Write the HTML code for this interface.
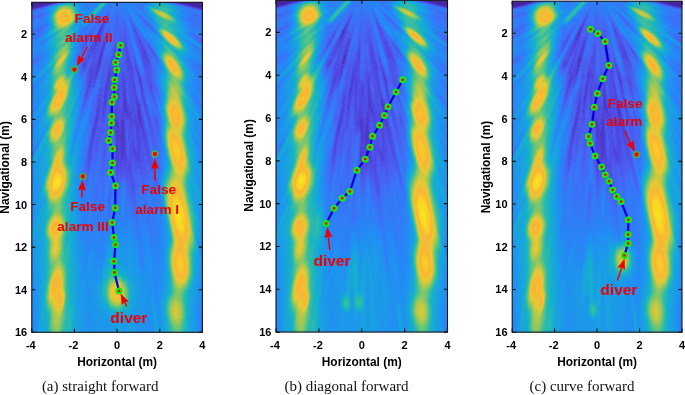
<!DOCTYPE html><html><head><meta charset="utf-8"><title>Sonar tracking results</title><style>html,body{margin:0;padding:0;background:#fff;}svg{display:block;}.tk{font-family:"Liberation Sans",Arial,sans-serif;font-weight:bold;font-size:11px;fill:#000;}.lb{font-family:"Liberation Sans",Arial,sans-serif;font-weight:bold;font-size:11.9px;fill:#000;}.rd{font-family:"Liberation Sans",Arial,sans-serif;font-weight:bold;fill:#ee0000;}.cp{font-family:"Liberation Serif","Times New Roman",serif;font-size:15px;fill:#111;}</style></head><body>
<svg width="685" height="395" viewBox="0 0 685 395">
<defs>
<filter id="cm" x="0" y="0" width="1" height="1" color-interpolation-filters="sRGB"><feComponentTransfer><feFuncR type="table" tableValues="0.267 0.278 0.290 0.301 0.313 0.307 0.299 0.291 0.269 0.245 0.221 0.198 0.176 0.154 0.135 0.124 0.113 0.102 0.096 0.093 0.090 0.087 0.105 0.136 0.168 0.200 0.245 0.302 0.360 0.418 0.476 0.537 0.598 0.658 0.714 0.760 0.806 0.852 0.898 0.919 0.932 0.944 0.957 0.970 0.980 0.980 0.980 0.980 0.977 0.972 0.966 0.961"/><feFuncG type="table" tableValues="0.149 0.178 0.207 0.236 0.264 0.300 0.336 0.371 0.401 0.429 0.457 0.482 0.506 0.530 0.554 0.576 0.598 0.620 0.639 0.656 0.673 0.691 0.705 0.716 0.728 0.739 0.749 0.757 0.764 0.772 0.777 0.779 0.781 0.783 0.785 0.787 0.788 0.790 0.792 0.781 0.765 0.750 0.734 0.719 0.710 0.737 0.765 0.792 0.823 0.856 0.889 0.922"/><feFuncB type="table" tableValues="0.647 0.702 0.757 0.811 0.866 0.894 0.920 0.945 0.956 0.963 0.971 0.970 0.967 0.963 0.956 0.938 0.919 0.900 0.876 0.849 0.823 0.796 0.762 0.724 0.685 0.647 0.606 0.563 0.519 0.476 0.435 0.396 0.358 0.319 0.287 0.268 0.248 0.228 0.209 0.204 0.204 0.204 0.204 0.204 0.202 0.189 0.176 0.163 0.149 0.136 0.123 0.110"/></feComponentTransfer></filter>
<filter id="bL" x="-50%" y="-50%" width="200%" height="200%"><feGaussianBlur stdDeviation="0.6"/></filter>
<filter id="bM" x="-50%" y="-50%" width="200%" height="200%"><feGaussianBlur stdDeviation="0.22"/></filter>
<filter id="bS" x="-50%" y="-50%" width="200%" height="200%"><feGaussianBlur stdDeviation="0.12"/></filter>
<filter id="bT" x="-50%" y="-50%" width="200%" height="200%"><feGaussianBlur stdDeviation="0.05"/></filter>
<radialGradient id="gw"><stop offset="0" stop-color="#fff"/><stop offset="0.3" stop-color="#fff" stop-opacity="0.86"/><stop offset="0.6" stop-color="#fff" stop-opacity="0.42"/><stop offset="0.82" stop-color="#fff" stop-opacity="0.13"/><stop offset="1" stop-color="#fff" stop-opacity="0"/></radialGradient>
<radialGradient id="gk"><stop offset="0" stop-color="#000"/><stop offset="0.3" stop-color="#000" stop-opacity="0.86"/><stop offset="0.6" stop-color="#000" stop-opacity="0.42"/><stop offset="0.82" stop-color="#000" stop-opacity="0.13"/><stop offset="1" stop-color="#000" stop-opacity="0"/></radialGradient>
<linearGradient id="smg" x1="0" y1="0" x2="0" y2="1"><stop offset="0" stop-color="#fff"/><stop offset="0.45" stop-color="#fff" stop-opacity="0.9"/><stop offset="1" stop-color="#fff" stop-opacity="0.6"/></linearGradient>
<mask id="smask" maskUnits="userSpaceOnUse" x="-5" y="-1" width="10" height="18"><rect x="-5" y="-1" width="10" height="18" fill="url(#smg)"/></mask>
<g id="scene"><rect x="-4.5" y="-1" width="9" height="17.5" fill="rgb(56,56,56)"/>
<ellipse cx="0.15" cy="6" rx="3.3" ry="7.5" fill="url(#gk)" opacity="0.659"/>
<ellipse cx="-0.2" cy="4" rx="2" ry="3" fill="url(#gk)" opacity="0.500"/>
<ellipse cx="0" cy="0.4" rx="2.4" ry="1.8" fill="url(#gw)" opacity="0.064"/>
<ellipse cx="0" cy="15" rx="3.2" ry="4.5" fill="url(#gw)" opacity="0.154"/>
<ellipse cx="0.2" cy="11.5" rx="2.4" ry="4" fill="url(#gw)" opacity="0.090"/>
<ellipse cx="-3.95" cy="9" rx="0.7" ry="9.5" fill="url(#gw)" opacity="0.077"/>
<ellipse cx="3.95" cy="9" rx="0.7" ry="9.5" fill="url(#gw)" opacity="0.090"/>
<g filter="url(#bT)" mask="url(#smask)"><path d="M3.63 10.63 L4.09 11.83 L4.64 13.45 L5.02 14.68 L4.56 13.48 L4.01 11.86Z" fill="rgb(5,5,5)" opacity="0.23"/><path d="M-6.82 2.3 L-8.18 2.79 L-9.99 3.41 L-11.37 3.83 L-10.02 3.33 L-8.2 2.73Z" fill="rgb(5,5,5)" opacity="0.25"/><path d="M-0.3 3.99 L-0.35 5.01 L-0.45 6.37 L-0.56 7.38 L-0.52 6.36 L-0.41 5Z" fill="rgb(69,69,69)" opacity="0.49"/><path d="M-7.59 11.5 L-8.27 12.56 L-9.19 13.95 L-9.9 14.99 L-9.22 13.93 L-8.3 12.53Z" fill="rgb(5,5,5)" opacity="0.11"/><path d="M0.72 2.13 L0.9 2.55 L1.1 3.12 L1.2 3.56 L1.01 3.15 L0.83 2.57Z" fill="rgb(69,69,69)" opacity="0.49"/><path d="M12.6 3.73 L13.33 3.9 L14.3 4.19 L15.01 4.44 L14.27 4.27 L13.31 3.99Z" fill="rgb(5,5,5)" opacity="0.17"/><path d="M-9.95 10.05 L-10.74 10.91 L-11.84 12.03 L-12.7 12.83 L-11.91 11.96 L-10.8 10.85Z" fill="rgb(5,5,5)" opacity="0.13"/><path d="M-1 2.64 L-1.2 3.21 L-1.48 3.96 L-1.72 4.52 L-1.52 3.95 L-1.23 3.2Z" fill="rgb(69,69,69)" opacity="0.64"/><path d="M-9.96 2.6 L-10.74 2.83 L-11.77 3.1 L-12.56 3.28 L-11.79 3.05 L-10.75 2.78Z" fill="rgb(5,5,5)" opacity="0.25"/><path d="M-3.47 6.56 L-4.01 7.62 L-4.75 9.03 L-5.33 10.07 L-4.79 9.01 L-4.04 7.61Z" fill="rgb(5,5,5)" opacity="0.24"/><path d="M7.86 10.02 L8.18 10.36 L8.57 10.85 L8.83 11.25 L8.51 10.9 L8.12 10.41Z" fill="rgb(69,69,69)" opacity="0.63"/><path d="M-1.04 0.31 L-1.64 0.52 L-2.45 0.78 L-3.08 0.92 L-2.48 0.68 L-1.66 0.46Z" fill="rgb(69,69,69)" opacity="0.70"/><path d="M12.87 5.89 L13.62 6.2 L14.6 6.65 L15.33 7.02 L14.58 6.7 L13.6 6.25Z" fill="rgb(5,5,5)" opacity="0.18"/><path d="M-9.75 5.77 L-10.84 6.45 L-12.31 7.33 L-13.44 7.95 L-12.36 7.26 L-10.88 6.39Z" fill="rgb(69,69,69)" opacity="0.78"/><path d="M-4.74 2.54 L-5.68 3.09 L-6.96 3.78 L-7.94 4.26 L-7 3.7 L-5.72 3.02Z" fill="rgb(69,69,69)" opacity="0.77"/><path d="M0.61 4.92 L0.73 5.7 L0.86 6.73 L0.93 7.51 L0.81 6.74 L0.69 5.7Z" fill="rgb(69,69,69)" opacity="0.46"/><path d="M7.21 13.1 L7.52 13.63 L7.92 14.36 L8.2 14.91 L7.89 14.38 L7.49 13.65Z" fill="rgb(5,5,5)" opacity="0.15"/><path d="M-0.93 3.75 L-1.15 4.8 L-1.49 6.19 L-1.79 7.23 L-1.57 6.17 L-1.22 4.79Z" fill="rgb(69,69,69)" opacity="0.57"/><path d="M-12.72 5.29 L-13.15 5.51 L-13.75 5.75 L-14.21 5.91 L-13.77 5.7 L-13.18 5.45Z" fill="rgb(5,5,5)" opacity="0.11"/><path d="M8.25 11.64 L8.93 12.52 L9.79 13.73 L10.4 14.66 L9.72 13.78 L8.87 12.56Z" fill="rgb(69,69,69)" opacity="0.57"/><path d="M-10.19 7.63 L-10.79 8.11 L-11.6 8.72 L-12.22 9.15 L-11.63 8.67 L-10.82 8.06Z" fill="rgb(5,5,5)" opacity="0.19"/><path d="M6.7 2.1 L7.63 2.35 L8.86 2.73 L9.76 3.06 L8.83 2.81 L7.61 2.42Z" fill="rgb(69,69,69)" opacity="0.52"/><path d="M-0.61 2.46 L-0.78 3.29 L-1.04 4.39 L-1.29 5.2 L-1.14 4.37 L-0.85 3.28Z" fill="rgb(5,5,5)" opacity="0.63"/><path d="M0.01 5.34 L0.04 5.89 L0.04 6.61 L0.02 7.15 L-0.01 6.61 L-0.01 5.89Z" fill="rgb(5,5,5)" opacity="0.60"/><path d="M-4.24 11.09 L-4.66 12.28 L-5.26 13.86 L-5.75 15.03 L-5.33 13.83 L-4.73 12.26Z" fill="rgb(5,5,5)" opacity="0.18"/><path d="M-3.76 10 L-4 10.71 L-4.34 11.64 L-4.64 12.33 L-4.4 11.62 L-4.05 10.69Z" fill="rgb(5,5,5)" opacity="0.27"/><path d="M-7.36 12.15 L-7.92 13.13 L-8.7 14.43 L-9.32 15.38 L-8.76 14.39 L-7.98 13.1Z" fill="rgb(69,69,69)" opacity="0.62"/><path d="M-6.24 8.08 L-6.78 8.84 L-7.54 9.83 L-8.15 10.54 L-7.61 9.78 L-6.84 8.79Z" fill="rgb(5,5,5)" opacity="0.29"/><path d="M-3.82 9.03 L-4.26 10.17 L-4.89 11.68 L-5.41 12.79 L-4.97 11.64 L-4.33 10.14Z" fill="rgb(69,69,69)" opacity="0.74"/><path d="M8.71 5.78 L9.96 6.56 L11.6 7.64 L12.8 8.5 L11.55 7.72 L9.91 6.63Z" fill="rgb(5,5,5)" opacity="0.20"/><path d="M-9.75 8 L-10.84 8.93 L-12.32 10.15 L-13.45 11.04 L-12.36 10.1 L-10.88 8.89Z" fill="rgb(5,5,5)" opacity="0.17"/><path d="M1.68 2.37 L2.44 3.39 L3.43 4.76 L4.14 5.82 L3.37 4.81 L2.4 3.42Z" fill="rgb(5,5,5)" opacity="0.51"/><path d="M3.81 11.07 L4.2 12.12 L4.69 13.53 L5.02 14.6 L4.62 13.56 L4.14 12.14Z" fill="rgb(69,69,69)" opacity="0.46"/><path d="M-1.51 9.78 L-1.58 10.45 L-1.71 11.35 L-1.85 12.02 L-1.79 11.34 L-1.65 10.44Z" fill="rgb(5,5,5)" opacity="0.19"/><path d="M-0.26 3.69 L-0.28 4.2 L-0.32 4.88 L-0.38 5.38 L-0.37 4.87 L-0.32 4.2Z" fill="rgb(69,69,69)" opacity="0.47"/><path d="M-0.66 0.64 L-1.32 1.31 L-2.21 2.19 L-2.91 2.81 L-2.26 2.14 L-1.35 1.28Z" fill="rgb(5,5,5)" opacity="0.64"/><path d="M-8.68 10.45 L-8.95 10.81 L-9.33 11.28 L-9.64 11.6 L-9.38 11.24 L-8.99 10.78Z" fill="rgb(69,69,69)" opacity="0.56"/><path d="M-10.68 6.56 L-11.39 7.02 L-12.35 7.61 L-13.08 8.03 L-12.37 7.58 L-11.41 6.99Z" fill="rgb(5,5,5)" opacity="0.11"/><path d="M0.67 5.31 L0.85 6.36 L1.03 7.76 L1.12 8.82 L0.94 7.77 L0.77 6.37Z" fill="rgb(5,5,5)" opacity="0.42"/><path d="M7.23 6.58 L7.86 7.13 L8.69 7.88 L9.3 8.46 L8.66 7.92 L7.84 7.16Z" fill="rgb(5,5,5)" opacity="0.28"/><path d="M13.62 5.07 L14.65 5.42 L16.01 5.93 L17.02 6.33 L15.99 5.98 L14.63 5.47Z" fill="rgb(5,5,5)" opacity="0.10"/><path d="M-7.46 4.4 L-8.39 4.97 L-9.65 5.72 L-10.61 6.25 L-9.68 5.68 L-8.42 4.94Z" fill="rgb(5,5,5)" opacity="0.38"/><path d="M-2.15 6.35 L-2.34 7.01 L-2.64 7.88 L-2.88 8.52 L-2.69 7.86 L-2.39 6.99Z" fill="rgb(5,5,5)" opacity="0.38"/><path d="M12.93 4.66 L13.95 5 L15.3 5.48 L16.3 5.87 L15.28 5.53 L13.93 5.04Z" fill="rgb(5,5,5)" opacity="0.15"/><path d="M-1.1 4.94 L-1.4 6.39 L-1.83 8.32 L-2.18 9.76 L-1.89 8.31 L-1.45 6.38Z" fill="rgb(69,69,69)" opacity="0.59"/><path d="M-7.98 5.11 L-8.74 5.63 L-9.76 6.29 L-10.55 6.76 L-9.79 6.24 L-8.76 5.59Z" fill="rgb(5,5,5)" opacity="0.34"/><path d="M-7.85 2.29 L-8.54 2.54 L-9.49 2.82 L-10.21 2.98 L-9.51 2.73 L-8.57 2.46Z" fill="rgb(5,5,5)" opacity="0.29"/><path d="M-1.53 2.18 L-2.36 3.41 L-3.49 5.04 L-4.37 6.24 L-3.54 5 L-2.4 3.38Z" fill="rgb(5,5,5)" opacity="0.52"/><path d="M3.47 8.54 L3.95 9.67 L4.57 11.19 L5.02 12.34 L4.53 11.21 L3.92 9.68Z" fill="rgb(5,5,5)" opacity="0.23"/><path d="M0.5 5.28 L0.6 6.04 L0.7 7.05 L0.73 7.81 L0.63 7.06 L0.54 6.05Z" fill="rgb(69,69,69)" opacity="0.54"/><path d="M5.48 7.17 L5.8 7.55 L6.19 8.06 L6.47 8.46 L6.15 8.09 L5.76 7.57Z" fill="rgb(69,69,69)" opacity="0.77"/><path d="M7.19 4.28 L7.61 4.49 L8.14 4.8 L8.52 5.08 L8.1 4.87 L7.57 4.55Z" fill="rgb(69,69,69)" opacity="0.63"/><path d="M5.08 8.18 L5.62 8.97 L6.3 10.05 L6.77 10.89 L6.22 10.1 L5.55 9.01Z" fill="rgb(69,69,69)" opacity="0.56"/><path d="M2.64 1.92 L3.28 2.34 L4.11 2.93 L4.7 3.41 L4.05 3 L3.24 2.4Z" fill="rgb(69,69,69)" opacity="0.73"/><path d="M3.35 5.83 L3.75 6.46 L4.25 7.33 L4.59 8 L4.18 7.37 L3.69 6.5Z" fill="rgb(5,5,5)" opacity="0.31"/><path d="M-0.46 8.4 L-0.49 9.38 L-0.56 10.67 L-0.64 11.64 L-0.61 10.67 L-0.54 9.37Z" fill="rgb(69,69,69)" opacity="0.63"/><path d="M1.04 0.93 L1.58 1.37 L2.28 1.97 L2.77 2.46 L2.22 2.04 L1.54 1.42Z" fill="rgb(5,5,5)" opacity="0.67"/><path d="M-10.41 3.4 L-11.8 3.9 L-13.67 4.51 L-15.09 4.93 L-13.7 4.42 L-11.83 3.82Z" fill="rgb(5,5,5)" opacity="0.12"/><path d="M2.85 2.19 L3.77 2.85 L4.97 3.76 L5.84 4.49 L4.91 3.84 L3.73 2.91Z" fill="rgb(5,5,5)" opacity="0.39"/><path d="M-7.19 11.78 L-7.48 12.32 L-7.9 13.01 L-8.25 13.51 L-7.96 12.97 L-7.54 12.28Z" fill="rgb(69,69,69)" opacity="0.46"/><path d="M0.34 0.98 L0.55 1.5 L0.81 2.21 L0.97 2.75 L0.75 2.23 L0.51 1.52Z" fill="rgb(69,69,69)" opacity="0.42"/><path d="M2.25 11.01 L2.54 12.35 L2.91 14.14 L3.16 15.49 L2.86 14.15 L2.5 12.36Z" fill="rgb(69,69,69)" opacity="0.53"/><path d="M2 7.28 L2.41 8.65 L2.92 10.5 L3.27 11.89 L2.86 10.51 L2.36 8.67Z" fill="rgb(69,69,69)" opacity="0.68"/><path d="M-7.66 5.81 L-8.42 6.44 L-9.46 7.23 L-10.27 7.79 L-9.51 7.16 L-8.47 6.37Z" fill="rgb(5,5,5)" opacity="0.29"/><path d="M-4.94 6.86 L-5.33 7.46 L-5.89 8.24 L-6.34 8.8 L-5.95 8.19 L-5.39 7.42Z" fill="rgb(5,5,5)" opacity="0.25"/><path d="M-3.76 4.44 L-4.53 5.39 L-5.58 6.64 L-6.39 7.56 L-5.62 6.61 L-4.56 5.37Z" fill="rgb(5,5,5)" opacity="0.46"/><path d="M-9.04 4.62 L-9.52 4.89 L-10.16 5.22 L-10.66 5.45 L-10.18 5.18 L-9.54 4.85Z" fill="rgb(5,5,5)" opacity="0.23"/><path d="M6.26 3.98 L6.94 4.37 L7.83 4.93 L8.48 5.39 L7.79 5 L6.9 4.43Z" fill="rgb(69,69,69)" opacity="0.69"/><path d="M-2.4 1 L-3.73 1.58 L-5.51 2.34 L-6.86 2.85 L-5.54 2.26 L-3.75 1.53Z" fill="rgb(69,69,69)" opacity="0.45"/><path d="M9.61 3.13 L10.87 3.52 L12.53 4.06 L13.77 4.49 L12.52 4.1 L10.85 3.56Z" fill="rgb(5,5,5)" opacity="0.20"/><path d="M-3.39 4.03 L-4.07 4.88 L-5.01 6 L-5.74 6.82 L-5.06 5.97 L-4.11 4.85Z" fill="rgb(69,69,69)" opacity="0.45"/><path d="M7.6 6.28 L8.62 7.08 L9.95 8.17 L10.93 9.02 L9.91 8.22 L8.59 7.12Z" fill="rgb(5,5,5)" opacity="0.24"/><path d="M2.16 8.5 L2.48 9.68 L2.89 11.27 L3.16 12.47 L2.83 11.28 L2.43 9.7Z" fill="rgb(69,69,69)" opacity="0.41"/><path d="M-0.69 0.69 L-1.64 1.69 L-2.93 3.02 L-3.93 3.97 L-2.99 2.96 L-1.68 1.66Z" fill="rgb(5,5,5)" opacity="0.40"/><path d="M-1.03 13.35 L-1.09 14.45 L-1.2 15.91 L-1.32 17.01 L-1.26 15.91 L-1.14 14.45Z" fill="rgb(69,69,69)" opacity="0.44"/><path d="M-2.15 1.67 L-2.8 2.21 L-3.68 2.91 L-4.37 3.4 L-3.72 2.86 L-2.83 2.17Z" fill="rgb(5,5,5)" opacity="0.44"/><path d="M-2.69 3.55 L-3.04 4.06 L-3.54 4.72 L-3.93 5.2 L-3.58 4.69 L-3.08 4.03Z" fill="rgb(69,69,69)" opacity="0.59"/><path d="M-13.14 4.53 L-13.92 4.85 L-14.97 5.21 L-15.78 5.44 L-15 5.13 L-13.94 4.77Z" fill="rgb(5,5,5)" opacity="0.17"/><path d="M-1.03 14.17 L-1.04 14.74 L-1.09 15.5 L-1.17 16.07 L-1.16 15.5 L-1.11 14.74Z" fill="rgb(69,69,69)" opacity="0.67"/><path d="M1.6 2.28 L1.99 2.81 L2.51 3.53 L2.87 4.08 L2.47 3.55 L1.97 2.83Z" fill="rgb(69,69,69)" opacity="0.43"/><path d="M-3.77 14.12 L-3.96 14.93 L-4.24 16 L-4.48 16.8 L-4.3 15.99 L-4.01 14.92Z" fill="rgb(69,69,69)" opacity="0.51"/><path d="M6.31 8.87 L6.69 9.36 L7.17 10.03 L7.51 10.55 L7.13 10.06 L6.65 9.39Z" fill="rgb(5,5,5)" opacity="0.31"/><path d="M2.54 6.19 L3.11 7.55 L3.86 9.36 L4.4 10.74 L3.82 9.38 L3.08 7.56Z" fill="rgb(69,69,69)" opacity="0.71"/><path d="M-0.23 1.03 L-0.43 2.04 L-0.71 3.38 L-0.99 4.37 L-0.81 3.35 L-0.49 2.02Z" fill="rgb(5,5,5)" opacity="0.54"/><path d="M-1.26 0.69 L-2.47 1.38 L-4.1 2.29 L-5.34 2.93 L-4.13 2.22 L-2.5 1.34Z" fill="rgb(5,5,5)" opacity="0.41"/><path d="M-0.71 0.89 L-1.24 1.58 L-1.95 2.49 L-2.51 3.15 L-1.99 2.46 L-1.26 1.56Z" fill="rgb(69,69,69)" opacity="0.56"/><path d="M-0.54 1.01 L-0.74 1.46 L-1.04 2.04 L-1.31 2.45 L-1.13 1.99 L-0.81 1.43Z" fill="rgb(69,69,69)" opacity="0.60"/><path d="M-2.07 7.89 L-2.18 8.42 L-2.36 9.11 L-2.52 9.63 L-2.41 9.1 L-2.23 8.41Z" fill="rgb(69,69,69)" opacity="0.62"/><path d="M8.22 3.98 L9.45 4.55 L11.07 5.33 L12.27 5.94 L11.04 5.38 L9.43 4.59Z" fill="rgb(69,69,69)" opacity="0.62"/><path d="M-0.28 8.74 L-0.28 9.58 L-0.31 10.71 L-0.37 11.55 L-0.38 10.71 L-0.34 9.58Z" fill="rgb(5,5,5)" opacity="0.40"/><path d="M-3.38 6.08 L-4 7.24 L-4.85 8.78 L-5.52 9.92 L-4.9 8.75 L-4.04 7.22Z" fill="rgb(69,69,69)" opacity="0.52"/><path d="M-10.36 5.38 L-11.52 6 L-13.07 6.81 L-14.24 7.39 L-13.09 6.76 L-11.54 5.96Z" fill="rgb(69,69,69)" opacity="0.43"/><path d="M-1.01 1.28 L-1.54 2.01 L-2.27 2.96 L-2.86 3.64 L-2.34 2.91 L-1.59 1.97Z" fill="rgb(69,69,69)" opacity="0.42"/><path d="M0.57 0.94 L0.93 1.5 L1.39 2.24 L1.71 2.82 L1.34 2.28 L0.89 1.52Z" fill="rgb(69,69,69)" opacity="0.44"/><path d="M-1.02 4.88 L-1.24 6.1 L-1.58 7.72 L-1.87 8.92 L-1.65 7.7 L-1.3 6.09Z" fill="rgb(5,5,5)" opacity="0.49"/><path d="M5.62 6.76 L6.23 7.44 L7.01 8.38 L7.56 9.11 L6.95 8.43 L6.17 7.49Z" fill="rgb(5,5,5)" opacity="0.40"/><path d="M6.08 8.73 L6.53 9.31 L7.09 10.11 L7.47 10.73 L7.02 10.15 L6.47 9.35Z" fill="rgb(69,69,69)" opacity="0.45"/><path d="M-2.61 1.19 L-3.26 1.52 L-4.14 1.93 L-4.81 2.2 L-4.17 1.86 L-3.29 1.46Z" fill="rgb(69,69,69)" opacity="0.43"/><path d="M5.51 6.52 L5.83 6.87 L6.25 7.36 L6.54 7.74 L6.22 7.38 L5.81 6.9Z" fill="rgb(69,69,69)" opacity="0.54"/><path d="M11.65 8.22 L12.55 8.84 L13.74 9.67 L14.62 10.33 L13.72 9.72 L12.53 8.87Z" fill="rgb(69,69,69)" opacity="0.54"/><path d="M-0.24 0.53 L-0.66 1.51 L-1.24 2.8 L-1.73 3.75 L-1.33 2.76 L-0.72 1.48Z" fill="rgb(5,5,5)" opacity="0.44"/><path d="M0.25 2.89 L0.38 4.08 L0.53 5.66 L0.59 6.86 L0.46 5.67 L0.33 4.08Z" fill="rgb(5,5,5)" opacity="0.65"/><path d="M-4.26 2.68 L-5.44 3.45 L-7.02 4.46 L-8.23 5.19 L-7.06 4.41 L-5.46 3.41Z" fill="rgb(69,69,69)" opacity="0.58"/><path d="M9.2 10.65 L9.89 11.38 L10.77 12.4 L11.4 13.19 L10.7 12.46 L9.83 11.44Z" fill="rgb(5,5,5)" opacity="0.11"/><path d="M4.86 4.36 L5.26 4.66 L5.76 5.11 L6.11 5.48 L5.7 5.18 L5.2 4.72Z" fill="rgb(69,69,69)" opacity="0.63"/><path d="M-0.61 13.26 L-0.63 14.12 L-0.68 15.27 L-0.75 16.13 L-0.73 15.27 L-0.68 14.12Z" fill="rgb(69,69,69)" opacity="0.48"/><path d="M0.94 5.53 L1.17 6.75 L1.45 8.38 L1.64 9.6 L1.4 8.39 L1.13 6.76Z" fill="rgb(69,69,69)" opacity="0.50"/><path d="M12.14 3.61 L13.44 3.96 L15.16 4.46 L16.43 4.88 L15.14 4.53 L13.42 4.02Z" fill="rgb(69,69,69)" opacity="0.46"/><path d="M5.84 4.8 L6.23 5.09 L6.73 5.51 L7.1 5.84 L6.7 5.54 L6.2 5.13Z" fill="rgb(69,69,69)" opacity="0.69"/><path d="M2.9 1.6 L4.04 2.2 L5.54 3.02 L6.65 3.67 L5.51 3.08 L4.01 2.24Z" fill="rgb(5,5,5)" opacity="0.64"/><path d="M3.89 11.44 L4.18 12.24 L4.54 13.3 L4.8 14.11 L4.51 13.31 L4.15 12.25Z" fill="rgb(5,5,5)" opacity="0.18"/><path d="M-4.5 4.09 L-5.07 4.63 L-5.84 5.33 L-6.44 5.84 L-5.87 5.3 L-5.09 4.6Z" fill="rgb(69,69,69)" opacity="0.55"/><path d="M-0.64 10.65 L-0.65 11.52 L-0.71 12.68 L-0.81 13.54 L-0.8 12.67 L-0.73 11.51Z" fill="rgb(5,5,5)" opacity="0.30"/><path d="M5.01 8.86 L5.55 9.73 L6.22 10.9 L6.68 11.81 L6.14 10.94 L5.48 9.76Z" fill="rgb(69,69,69)" opacity="0.64"/><path d="M3.69 7.12 L4.05 7.78 L4.51 8.66 L4.84 9.34 L4.48 8.68 L4.02 7.8Z" fill="rgb(69,69,69)" opacity="0.54"/><path d="M2.45 11.23 L2.73 12.39 L3.08 13.96 L3.31 15.13 L3.02 13.97 L2.69 12.4Z" fill="rgb(5,5,5)" opacity="0.15"/><path d="M0.8 1.21 L1.51 2.23 L2.43 3.6 L3.08 4.66 L2.36 3.65 L1.46 2.26Z" fill="rgb(5,5,5)" opacity="0.76"/><path d="M6.06 11.09 L6.68 12.15 L7.46 13.58 L8.02 14.67 L7.4 13.62 L6.62 12.18Z" fill="rgb(69,69,69)" opacity="0.61"/><path d="M3.39 1.92 L4.68 2.62 L6.4 3.58 L7.66 4.33 L6.36 3.64 L4.66 2.66Z" fill="rgb(69,69,69)" opacity="0.40"/><path d="M-0.84 2.88 L-1.12 3.98 L-1.53 5.44 L-1.89 6.52 L-1.62 5.41 L-1.19 3.96Z" fill="rgb(5,5,5)" opacity="0.58"/><path d="M-0.57 1.91 L-0.89 3.04 L-1.33 4.54 L-1.7 5.65 L-1.4 4.52 L-0.94 3.02Z" fill="rgb(5,5,5)" opacity="0.53"/><path d="M3.01 1.8 L3.68 2.18 L4.56 2.7 L5.21 3.12 L4.54 2.75 L3.66 2.22Z" fill="rgb(5,5,5)" opacity="0.69"/><path d="M-7.43 6.14 L-8.38 6.96 L-9.67 8.02 L-10.66 8.8 L-9.7 7.98 L-8.41 6.92Z" fill="rgb(69,69,69)" opacity="0.63"/><path d="M10.18 8.45 L11.13 9.2 L12.38 10.23 L13.29 11.03 L12.34 10.28 L11.1 9.24Z" fill="rgb(69,69,69)" opacity="0.61"/><path d="M4.24 2.27 L4.92 2.6 L5.79 3.06 L6.43 3.44 L5.76 3.12 L4.89 2.65Z" fill="rgb(5,5,5)" opacity="0.39"/><path d="M-1.97 0.68 L-2.95 1.05 L-4.25 1.52 L-5.25 1.82 L-4.28 1.44 L-2.96 1Z" fill="rgb(69,69,69)" opacity="0.48"/><path d="M2.47 9.52 L2.8 10.65 L3.2 12.16 L3.45 13.31 L3.12 12.18 L2.73 10.67Z" fill="rgb(69,69,69)" opacity="0.59"/><path d="M11.17 9.04 L11.81 9.51 L12.62 10.16 L13.21 10.69 L12.57 10.23 L11.76 9.57Z" fill="rgb(5,5,5)" opacity="0.19"/><path d="M-6.94 7.97 L-7.8 9 L-8.96 10.34 L-9.86 11.32 L-9.01 10.3 L-7.84 8.96Z" fill="rgb(69,69,69)" opacity="0.48"/><path d="M-1.37 1.09 L-1.83 1.5 L-2.46 2.01 L-2.96 2.36 L-2.51 1.95 L-1.87 1.45Z" fill="rgb(69,69,69)" opacity="0.70"/><path d="M7.25 9.96 L8.04 10.99 L9.06 12.38 L9.79 13.45 L8.99 12.42 L7.98 11.03Z" fill="rgb(5,5,5)" opacity="0.20"/><path d="M4.74 13.69 L4.94 14.21 L5.19 14.92 L5.35 15.45 L5.15 14.93 L4.9 14.23Z" fill="rgb(69,69,69)" opacity="0.48"/><path d="M-2.29 6.72 L-2.64 7.83 L-3.13 9.3 L-3.55 10.39 L-3.21 9.27 L-2.7 7.81Z" fill="rgb(69,69,69)" opacity="0.56"/><path d="M0.71 5.84 L0.81 6.4 L0.9 7.16 L0.93 7.73 L0.83 7.17 L0.74 6.41Z" fill="rgb(69,69,69)" opacity="0.67"/><path d="M-0.16 14.45 L-0.15 15.9 L-0.17 17.82 L-0.21 19.26 L-0.21 17.82 L-0.19 15.9Z" fill="rgb(5,5,5)" opacity="0.17"/><path d="M-1.07 1.81 L-1.54 2.64 L-2.18 3.74 L-2.69 4.55 L-2.23 3.71 L-1.58 2.62Z" fill="rgb(5,5,5)" opacity="0.76"/><path d="M-1.4 4.43 L-1.67 5.36 L-2.05 6.6 L-2.38 7.52 L-2.13 6.58 L-1.73 5.34Z" fill="rgb(5,5,5)" opacity="0.51"/><path d="M-2.72 4.57 L-3.38 5.74 L-4.29 7.28 L-5.01 8.41 L-4.35 7.24 L-3.43 5.71Z" fill="rgb(69,69,69)" opacity="0.57"/><path d="M-6.47 7.79 L-6.79 8.21 L-7.24 8.75 L-7.59 9.14 L-7.28 8.72 L-6.83 8.18Z" fill="rgb(69,69,69)" opacity="0.59"/><path d="M7.98 2.3 L8.81 2.5 L9.91 2.81 L10.72 3.09 L9.88 2.9 L8.79 2.58Z" fill="rgb(69,69,69)" opacity="0.54"/><path d="M0.35 0.32 L1.29 1.15 L2.55 2.26 L3.45 3.12 L2.5 2.31 L1.27 1.17Z" fill="rgb(69,69,69)" opacity="0.50"/><path d="M-0.65 5.95 L-0.74 6.94 L-0.88 8.26 L-1.01 9.24 L-0.92 8.25 L-0.77 6.94Z" fill="rgb(69,69,69)" opacity="0.79"/><path d="M-1.08 7.21 L-1.14 7.75 L-1.24 8.46 L-1.35 8.99 L-1.3 8.45 L-1.19 7.74Z" fill="rgb(5,5,5)" opacity="0.45"/><path d="M0.04 1.17 L0.1 2.03 L0.16 3.18 L0.14 4.05 L0.07 3.19 L0.04 2.04Z" fill="rgb(69,69,69)" opacity="0.64"/><path d="M8.61 4.72 L9.6 5.25 L10.9 5.96 L11.87 6.51 L10.89 5.99 L9.58 5.28Z" fill="rgb(69,69,69)" opacity="0.71"/><path d="M-2.97 12.82 L-3.22 14.12 L-3.62 15.83 L-3.96 17.1 L-3.7 15.81 L-3.3 14.1Z" fill="rgb(69,69,69)" opacity="0.80"/><path d="M8.46 10.41 L8.88 10.86 L9.39 11.49 L9.74 11.98 L9.32 11.54 L8.82 10.91Z" fill="rgb(69,69,69)" opacity="0.79"/><path d="M3.45 0.9 L4.32 1.1 L5.47 1.4 L6.33 1.65 L5.46 1.45 L4.31 1.14Z" fill="rgb(69,69,69)" opacity="0.51"/><path d="M0.96 1.98 L1.26 2.53 L1.63 3.28 L1.87 3.86 L1.57 3.31 L1.21 2.56Z" fill="rgb(69,69,69)" opacity="0.55"/><path d="M11.6 6.57 L12.18 6.87 L12.94 7.31 L13.5 7.64 L12.92 7.34 L12.16 6.91Z" fill="rgb(5,5,5)" opacity="0.20"/><path d="M0.65 2.3 L0.87 2.96 L1.14 3.86 L1.28 4.54 L1.04 3.88 L0.8 2.98Z" fill="rgb(5,5,5)" opacity="0.41"/><path d="M-4.92 4.49 L-5.44 5.01 L-6.15 5.67 L-6.72 6.13 L-6.21 5.61 L-5.49 4.96Z" fill="rgb(69,69,69)" opacity="0.71"/><path d="M-6.34 4.83 L-7.49 5.75 L-9.05 6.94 L-10.25 7.81 L-9.1 6.88 L-7.53 5.7Z" fill="rgb(69,69,69)" opacity="0.44"/><path d="M2.21 5.44 L2.55 6.21 L2.97 7.24 L3.25 8.03 L2.91 7.27 L2.49 6.23Z" fill="rgb(5,5,5)" opacity="0.57"/><path d="M-5.5 6.74 L-5.93 7.33 L-6.54 8.08 L-7.03 8.62 L-6.6 8.04 L-5.98 7.29Z" fill="rgb(5,5,5)" opacity="0.25"/><path d="M-0.5 10.69 L-0.48 11.15 L-0.51 11.76 L-0.57 12.22 L-0.59 11.76 L-0.56 11.15Z" fill="rgb(69,69,69)" opacity="0.60"/><path d="M3.49 11.46 L3.67 11.93 L3.87 12.58 L3.98 13.08 L3.8 12.6 L3.61 11.95Z" fill="rgb(69,69,69)" opacity="0.55"/><path d="M-0.27 0.66 L-0.55 1.37 L-0.92 2.31 L-1.25 3 L-0.99 2.29 L-0.59 1.35Z" fill="rgb(5,5,5)" opacity="0.77"/><path d="M-2.71 7.67 L-3.07 8.82 L-3.6 10.33 L-4.04 11.44 L-3.68 10.3 L-3.15 8.79Z" fill="rgb(5,5,5)" opacity="0.42"/><path d="M-1.41 2.46 L-2.11 3.7 L-3.05 5.36 L-3.79 6.58 L-3.1 5.33 L-2.14 3.69Z" fill="rgb(69,69,69)" opacity="0.69"/><path d="M0.48 6.06 L0.62 7.47 L0.77 9.36 L0.86 10.78 L0.72 9.36 L0.57 7.47Z" fill="rgb(5,5,5)" opacity="0.47"/><path d="M-4.51 3.19 L-5.29 3.77 L-6.34 4.52 L-7.15 5.05 L-6.38 4.46 L-5.32 3.72Z" fill="rgb(69,69,69)" opacity="0.58"/><path d="M-1.54 0.67 L-2.28 1.01 L-3.27 1.45 L-4.02 1.75 L-3.29 1.4 L-2.29 0.98Z" fill="rgb(5,5,5)" opacity="0.51"/><path d="M-6.62 9.82 L-7.29 10.85 L-8.2 12.21 L-8.91 13.21 L-8.24 12.18 L-7.33 10.82Z" fill="rgb(5,5,5)" opacity="0.17"/><path d="M-2.77 9.17 L-2.95 9.86 L-3.22 10.76 L-3.45 11.43 L-3.27 10.75 L-3 9.84Z" fill="rgb(5,5,5)" opacity="0.28"/><path d="M2.6 1.46 L3.13 1.74 L3.82 2.12 L4.33 2.43 L3.8 2.16 L3.11 1.77Z" fill="rgb(5,5,5)" opacity="0.60"/><path d="M-0.99 0.28 L-2.25 0.67 L-3.93 1.17 L-5.21 1.49 L-3.95 1.09 L-2.26 0.63Z" fill="rgb(5,5,5)" opacity="0.42"/><path d="M0.51 2.05 L0.83 3.22 L1.23 4.78 L1.48 5.96 L1.15 4.8 L0.78 3.23Z" fill="rgb(5,5,5)" opacity="0.47"/><path d="M1.89 0.73 L2.38 0.88 L3.03 1.12 L3.5 1.34 L3 1.2 L2.36 0.94Z" fill="rgb(69,69,69)" opacity="0.43"/><path d="M-1.01 9.82 L-1.12 11.2 L-1.3 13.04 L-1.48 14.42 L-1.38 13.04 L-1.18 11.2Z" fill="rgb(69,69,69)" opacity="0.66"/><path d="M1.71 1.31 L2.71 2.05 L4.03 3.05 L5 3.83 L4 3.1 L2.69 2.08Z" fill="rgb(69,69,69)" opacity="0.40"/><path d="M5.04 6.13 L5.94 7.19 L7.13 8.62 L7.99 9.72 L7.08 8.67 L5.9 7.22Z" fill="rgb(69,69,69)" opacity="0.49"/><path d="M-8.34 11.52 L-8.71 12.07 L-9.23 12.79 L-9.64 13.32 L-9.27 12.77 L-8.74 12.05Z" fill="rgb(69,69,69)" opacity="0.43"/><path d="M-1.85 9.29 L-2.05 10.41 L-2.34 11.89 L-2.59 13 L-2.39 11.88 L-2.09 10.4Z" fill="rgb(69,69,69)" opacity="0.60"/><path d="M3.33 6.08 L3.87 6.98 L4.55 8.21 L5.02 9.15 L4.47 8.25 L3.8 7.02Z" fill="rgb(69,69,69)" opacity="0.51"/><path d="M-0.11 8.23 L-0.1 9.62 L-0.12 11.48 L-0.17 12.88 L-0.19 11.48 L-0.16 9.62Z" fill="rgb(5,5,5)" opacity="0.28"/><path d="M8.64 9.17 L9.18 9.71 L9.87 10.45 L10.38 11.01 L9.84 10.48 L9.15 9.74Z" fill="rgb(69,69,69)" opacity="0.54"/><path d="M3.68 2.16 L4.65 2.7 L5.93 3.44 L6.87 4.04 L5.89 3.51 L4.62 2.75Z" fill="rgb(5,5,5)" opacity="0.36"/><path d="M3.51 3.99 L3.9 4.39 L4.4 4.94 L4.74 5.38 L4.34 4.99 L3.85 4.43Z" fill="rgb(5,5,5)" opacity="0.51"/><path d="M-13.56 5.4 L-14.34 5.74 L-15.4 6.17 L-16.2 6.45 L-15.42 6.1 L-14.36 5.68Z" fill="rgb(5,5,5)" opacity="0.13"/><path d="M-1.24 5.06 L-1.35 5.6 L-1.52 6.31 L-1.67 6.84 L-1.56 6.3 L-1.39 5.59Z" fill="rgb(5,5,5)" opacity="0.46"/><path d="M1.1 0.72 L1.75 1.13 L2.61 1.68 L3.23 2.13 L2.58 1.73 L1.73 1.16Z" fill="rgb(5,5,5)" opacity="0.72"/><path d="M6.78 3.85 L7.28 4.1 L7.93 4.46 L8.4 4.77 L7.9 4.52 L7.25 4.15Z" fill="rgb(69,69,69)" opacity="0.41"/><path d="M0.82 4.56 L0.95 5.11 L1.09 5.85 L1.15 6.41 L1.02 5.86 L0.89 5.12Z" fill="rgb(5,5,5)" opacity="0.66"/><path d="M-0.16 1.89 L-0.25 3.15 L-0.38 4.82 L-0.52 6.07 L-0.43 4.81 L-0.28 3.14Z" fill="rgb(5,5,5)" opacity="0.42"/><path d="M8.01 2.27 L8.89 2.49 L10.06 2.82 L10.93 3.09 L10.04 2.87 L8.88 2.54Z" fill="rgb(5,5,5)" opacity="0.43"/><path d="M-0.63 3.4 L-0.77 4.38 L-1 5.68 L-1.23 6.64 L-1.1 5.66 L-0.85 4.36Z" fill="rgb(69,69,69)" opacity="0.65"/><path d="M4.63 2.27 L5.81 2.82 L7.37 3.57 L8.52 4.18 L7.34 3.64 L5.79 2.87Z" fill="rgb(69,69,69)" opacity="0.42"/><path d="M6.63 2.81 L7.49 3.13 L8.62 3.61 L9.44 4.01 L8.58 3.69 L7.46 3.21Z" fill="rgb(5,5,5)" opacity="0.38"/><path d="M-6.08 9.48 L-6.44 10.1 L-6.96 10.91 L-7.37 11.5 L-7.01 10.88 L-6.49 10.07Z" fill="rgb(5,5,5)" opacity="0.23"/><path d="M-2.76 1.92 L-3.71 2.62 L-4.99 3.52 L-5.99 4.16 L-5.04 3.45 L-3.75 2.56Z" fill="rgb(69,69,69)" opacity="0.80"/><path d="M-2.34 1.62 L-2.77 1.95 L-3.37 2.37 L-3.83 2.66 L-3.4 2.32 L-2.8 1.91Z" fill="rgb(5,5,5)" opacity="0.73"/><path d="M-8.24 6.67 L-8.66 7.04 L-9.24 7.52 L-9.7 7.84 L-9.28 7.46 L-8.7 6.99Z" fill="rgb(69,69,69)" opacity="0.54"/><path d="M-10.11 4.12 L-10.64 4.37 L-11.35 4.67 L-11.9 4.85 L-11.38 4.59 L-10.66 4.3Z" fill="rgb(69,69,69)" opacity="0.64"/><path d="M2.75 7.02 L3.28 8.28 L3.96 9.97 L4.41 11.26 L3.87 10 L3.21 8.3Z" fill="rgb(69,69,69)" opacity="0.53"/><path d="M1.98 1.25 L2.74 1.7 L3.75 2.33 L4.49 2.83 L3.72 2.39 L2.72 1.75Z" fill="rgb(5,5,5)" opacity="0.44"/><path d="M4.59 10.49 L5.1 11.6 L5.75 13.08 L6.22 14.2 L5.71 13.09 L5.07 11.61Z" fill="rgb(5,5,5)" opacity="0.15"/><path d="M8.12 5.93 L8.86 6.42 L9.83 7.12 L10.52 7.68 L9.78 7.19 L8.82 6.49Z" fill="rgb(5,5,5)" opacity="0.23"/><path d="M4.51 6.33 L5.23 7.29 L6.16 8.59 L6.82 9.59 L6.1 8.63 L5.18 7.33Z" fill="rgb(5,5,5)" opacity="0.26"/><path d="M0 0.42 L0.03 1.7 L0.05 3.4 L0 4.69 L-0.05 3.4 L-0.02 1.7Z" fill="rgb(5,5,5)" opacity="0.42"/><path d="M0.71 7.35 L0.79 7.92 L0.86 8.69 L0.89 9.26 L0.81 8.69 L0.74 7.93Z" fill="rgb(5,5,5)" opacity="0.48"/><path d="M-7.99 9.62 L-8.69 10.51 L-9.65 11.68 L-10.4 12.53 L-9.7 11.64 L-8.73 10.48Z" fill="rgb(5,5,5)" opacity="0.12"/><path d="M-0.3 0.46 L-0.91 1.42 L-1.74 2.69 L-2.41 3.62 L-1.81 2.65 L-0.95 1.39Z" fill="rgb(5,5,5)" opacity="0.60"/><path d="M-0.82 4.8 L-1 6.01 L-1.27 7.62 L-1.5 8.82 L-1.33 7.61 L-1.05 6Z" fill="rgb(5,5,5)" opacity="0.53"/><path d="M-1.5 10.31 L-1.56 10.82 L-1.65 11.5 L-1.75 12.01 L-1.7 11.49 L-1.6 10.81Z" fill="rgb(5,5,5)" opacity="0.20"/><path d="M-0.56 0.24 L-1.71 0.74 L-3.24 1.41 L-4.41 1.88 L-3.27 1.36 L-1.72 0.72Z" fill="rgb(69,69,69)" opacity="0.58"/><path d="M5.31 5.1 L6.04 5.78 L7 6.7 L7.71 7.4 L6.97 6.72 L6.02 5.8Z" fill="rgb(5,5,5)" opacity="0.43"/><path d="M4.08 11.91 L4.47 12.93 L4.95 14.31 L5.27 15.36 L4.87 14.34 L4.4 12.96Z" fill="rgb(5,5,5)" opacity="0.16"/><path d="M-12.72 3.93 L-14.14 4.39 L-16.03 4.98 L-17.46 5.39 L-16.05 4.93 L-14.15 4.35Z" fill="rgb(69,69,69)" opacity="0.54"/><path d="M-5.05 2.85 L-5.51 3.13 L-6.14 3.49 L-6.62 3.74 L-6.16 3.45 L-5.53 3.09Z" fill="rgb(69,69,69)" opacity="0.57"/><path d="M-5.57 9.53 L-5.98 10.28 L-6.56 11.27 L-7.01 12 L-6.6 11.25 L-6.02 10.26Z" fill="rgb(5,5,5)" opacity="0.27"/><path d="M1.74 3.12 L2.18 3.87 L2.76 4.88 L3.15 5.66 L2.7 4.91 L2.14 3.89Z" fill="rgb(69,69,69)" opacity="0.41"/><path d="M-1.33 11.53 L-1.42 12.71 L-1.6 14.27 L-1.77 15.43 L-1.68 14.26 L-1.5 12.7Z" fill="rgb(5,5,5)" opacity="0.20"/><path d="M11.49 7.62 L12.58 8.31 L14 9.25 L15.06 9.98 L13.97 9.3 L12.55 8.35Z" fill="rgb(5,5,5)" opacity="0.17"/><path d="M9.2 5.69 L9.99 6.15 L11.03 6.79 L11.8 7.29 L11.01 6.83 L9.97 6.19Z" fill="rgb(69,69,69)" opacity="0.50"/><path d="M5.42 10.29 L5.76 10.85 L6.16 11.62 L6.44 12.21 L6.1 11.65 L5.7 10.88Z" fill="rgb(5,5,5)" opacity="0.19"/><path d="M-8.12 4.41 L-8.84 4.83 L-9.81 5.36 L-10.55 5.73 L-9.83 5.32 L-8.86 4.79Z" fill="rgb(69,69,69)" opacity="0.40"/><path d="M-5.3 3.96 L-5.73 4.3 L-6.33 4.75 L-6.79 5.07 L-6.35 4.72 L-5.75 4.28Z" fill="rgb(5,5,5)" opacity="0.56"/><path d="M4.01 3.25 L5.12 4.14 L6.59 5.33 L7.68 6.24 L6.57 5.36 L5.1 4.16Z" fill="rgb(69,69,69)" opacity="0.40"/><path d="M-8.45 3.6 L-9.59 4.11 L-11.11 4.76 L-12.27 5.22 L-11.14 4.7 L-9.61 4.06Z" fill="rgb(5,5,5)" opacity="0.26"/><path d="M8.32 4.1 L9.24 4.53 L10.45 5.13 L11.35 5.6 L10.43 5.17 L9.22 4.57Z" fill="rgb(69,69,69)" opacity="0.58"/><path d="M2.85 2.44 L3.46 2.9 L4.23 3.55 L4.78 4.08 L4.17 3.62 L3.41 2.96Z" fill="rgb(69,69,69)" opacity="0.61"/><path d="M-6.83 7.45 L-7.55 8.26 L-8.51 9.31 L-9.25 10.09 L-8.54 9.29 L-7.57 8.23Z" fill="rgb(5,5,5)" opacity="0.23"/><path d="M-5.89 11.48 L-6.45 12.62 L-7.22 14.13 L-7.82 15.24 L-7.26 14.1 L-6.49 12.6Z" fill="rgb(5,5,5)" opacity="0.11"/><path d="M0.1 1.6 L0.2 2.72 L0.32 4.21 L0.33 5.34 L0.21 4.22 L0.14 2.72Z" fill="rgb(5,5,5)" opacity="0.42"/><path d="M0.27 7.25 L0.32 8.16 L0.37 9.38 L0.38 10.3 L0.33 9.38 L0.28 8.17Z" fill="rgb(69,69,69)" opacity="0.58"/><path d="M-9.29 4.32 L-9.92 4.64 L-10.77 5.04 L-11.42 5.31 L-10.8 4.99 L-9.94 4.6Z" fill="rgb(69,69,69)" opacity="0.52"/><path d="M4.25 1.91 L4.76 2.11 L5.44 2.41 L5.93 2.66 L5.41 2.46 L4.74 2.16Z" fill="rgb(5,5,5)" opacity="0.37"/><path d="M-1.38 3.16 L-1.83 4.24 L-2.44 5.67 L-2.94 6.72 L-2.5 5.64 L-1.87 4.22Z" fill="rgb(69,69,69)" opacity="0.74"/><path d="M-4.55 9.37 L-4.92 10.22 L-5.46 11.33 L-5.9 12.14 L-5.54 11.29 L-4.99 10.18Z" fill="rgb(69,69,69)" opacity="0.49"/><path d="M-2.28 3.6 L-2.96 4.72 L-3.88 6.21 L-4.62 7.3 L-3.94 6.17 L-3 4.7Z" fill="rgb(69,69,69)" opacity="0.60"/><path d="M6.94 5.28 L7.7 5.81 L8.68 6.55 L9.39 7.14 L8.63 6.61 L7.66 5.86Z" fill="rgb(5,5,5)" opacity="0.29"/><path d="M-0.43 2.28 L-0.56 3.19 L-0.77 4.38 L-0.98 5.27 L-0.86 4.36 L-0.63 3.17Z" fill="rgb(69,69,69)" opacity="0.55"/><path d="M2.47 8.68 L2.67 9.28 L2.9 10.09 L3.04 10.71 L2.84 10.11 L2.61 9.29Z" fill="rgb(5,5,5)" opacity="0.22"/><path d="M-9.84 5.82 L-11.03 6.55 L-12.64 7.5 L-13.85 8.2 L-12.66 7.47 L-11.05 6.52Z" fill="rgb(69,69,69)" opacity="0.65"/><path d="M-5.38 8.41 L-5.62 8.84 L-5.96 9.38 L-6.25 9.78 L-6.02 9.35 L-5.66 8.81Z" fill="rgb(69,69,69)" opacity="0.53"/><path d="M3.88 6.82 L4.58 7.97 L5.47 9.53 L6.1 10.72 L5.4 9.57 L4.52 8.01Z" fill="rgb(5,5,5)" opacity="0.39"/><path d="M-5.51 4.83 L-6.08 5.37 L-6.87 6.06 L-7.48 6.55 L-6.92 6.01 L-6.13 5.32Z" fill="rgb(69,69,69)" opacity="0.75"/><path d="M-3.96 11.16 L-4.4 12.53 L-5.03 14.35 L-5.56 15.69 L-5.12 14.31 L-4.47 12.51Z" fill="rgb(69,69,69)" opacity="0.74"/><path d="M2.23 0.56 L3.44 0.82 L5.04 1.21 L6.23 1.55 L5.02 1.29 L3.42 0.88Z" fill="rgb(69,69,69)" opacity="0.51"/><path d="M-4.87 4.17 L-5.94 5.11 L-7.38 6.36 L-8.49 7.26 L-7.43 6.31 L-5.97 5.08Z" fill="rgb(69,69,69)" opacity="0.65"/><path d="M-1.53 9.23 L-1.65 10.15 L-1.85 11.37 L-2.03 12.28 L-1.91 11.36 L-1.7 10.14Z" fill="rgb(69,69,69)" opacity="0.73"/><path d="M1.64 3.6 L2.07 4.48 L2.62 5.65 L2.99 6.56 L2.55 5.69 L2.02 4.5Z" fill="rgb(5,5,5)" opacity="0.65"/><path d="M3.3 3.58 L3.87 4.15 L4.6 4.94 L5.12 5.56 L4.55 4.99 L3.83 4.2Z" fill="rgb(69,69,69)" opacity="0.77"/><path d="M-7.18 2.77 L-7.85 3.06 L-8.77 3.42 L-9.47 3.66 L-8.79 3.36 L-7.88 3.01Z" fill="rgb(69,69,69)" opacity="0.49"/><path d="M11.47 3.19 L12.14 3.34 L13.01 3.58 L13.66 3.8 L13 3.64 L12.12 3.4Z" fill="rgb(69,69,69)" opacity="0.45"/><path d="M-10.76 10.12 L-11.31 10.67 L-12.06 11.38 L-12.65 11.9 L-12.1 11.34 L-11.34 10.64Z" fill="rgb(69,69,69)" opacity="0.44"/><path d="M10.85 2.81 L12.23 3.13 L14.06 3.6 L15.42 4 L14.04 3.68 L12.21 3.2Z" fill="rgb(5,5,5)" opacity="0.14"/><path d="M-3.33 2.79 L-3.71 3.14 L-4.24 3.58 L-4.65 3.9 L-4.27 3.55 L-3.74 3.1Z" fill="rgb(5,5,5)" opacity="0.52"/><path d="M-4.66 1.33 L-5.94 1.73 L-7.66 2.23 L-8.96 2.56 L-7.69 2.15 L-5.96 1.66Z" fill="rgb(5,5,5)" opacity="0.52"/><path d="M7.59 3.9 L8.36 4.27 L9.37 4.78 L10.12 5.2 L9.34 4.85 L8.33 4.32Z" fill="rgb(69,69,69)" opacity="0.41"/><path d="M-4.2 5.7 L-4.52 6.18 L-4.98 6.8 L-5.33 7.25 L-5.01 6.77 L-4.55 6.16Z" fill="rgb(69,69,69)" opacity="0.55"/><path d="M7.04 2.61 L8.3 3.03 L9.97 3.64 L11.2 4.14 L9.94 3.72 L8.28 3.1Z" fill="rgb(5,5,5)" opacity="0.29"/><path d="M-1.38 4.84 L-1.66 5.92 L-2.06 7.35 L-2.41 8.41 L-2.14 7.33 L-1.73 5.9Z" fill="rgb(5,5,5)" opacity="0.39"/><path d="M-0.42 0.32 L-1.26 0.98 L-2.38 1.85 L-3.24 2.47 L-2.41 1.8 L-1.28 0.95Z" fill="rgb(69,69,69)" opacity="0.52"/><path d="M-2.22 2.57 L-2.95 3.45 L-3.95 4.62 L-4.73 5.46 L-4.01 4.57 L-3 3.42Z" fill="rgb(69,69,69)" opacity="0.69"/><path d="M-9.71 9.88 L-10.08 10.31 L-10.62 10.86 L-11.05 11.25 L-10.67 10.81 L-10.13 10.27Z" fill="rgb(5,5,5)" opacity="0.17"/><path d="M-0.41 13.12 L-0.41 14.23 L-0.46 15.71 L-0.53 16.82 L-0.53 15.71 L-0.48 14.23Z" fill="rgb(69,69,69)" opacity="0.47"/><path d="M-0.72 8.33 L-0.74 8.88 L-0.8 9.61 L-0.88 10.16 L-0.87 9.6 L-0.81 8.87Z" fill="rgb(69,69,69)" opacity="0.59"/><path d="M0.77 12.62 L0.85 13.39 L0.91 14.41 L0.92 15.18 L0.84 14.41 L0.78 13.39Z" fill="rgb(5,5,5)" opacity="0.17"/><path d="M-2.12 3.94 L-2.54 4.79 L-3.12 5.9 L-3.6 6.72 L-3.19 5.87 L-2.59 4.76Z" fill="rgb(5,5,5)" opacity="0.37"/><path d="M-1.2 8.49 L-1.28 9.15 L-1.4 10.01 L-1.51 10.66 L-1.44 10 L-1.32 9.14Z" fill="rgb(5,5,5)" opacity="0.23"/><path d="M0 4.7 L0.03 5.18 L0.03 5.83 L0.01 6.31 L-0.02 5.83 L-0.02 5.18Z" fill="rgb(69,69,69)" opacity="0.56"/><path d="M1.39 0.71 L2.13 1.05 L3.11 1.54 L3.82 1.95 L3.07 1.61 L2.11 1.11Z" fill="rgb(5,5,5)" opacity="0.41"/><path d="M-2.95 3.4 L-3.85 4.47 L-5.05 5.87 L-5.99 6.9 L-5.11 5.83 L-3.88 4.43Z" fill="rgb(69,69,69)" opacity="0.59"/><path d="M-0.08 2.58 L-0.09 3.73 L-0.12 5.26 L-0.2 6.41 L-0.21 5.26 L-0.15 3.73Z" fill="rgb(69,69,69)" opacity="0.61"/><path d="M9.46 10.81 L10.19 11.62 L11.15 12.72 L11.86 13.55 L11.12 12.74 L10.16 11.64Z" fill="rgb(5,5,5)" opacity="0.17"/><path d="M-4.48 9.38 L-4.81 10.14 L-5.29 11.15 L-5.68 11.89 L-5.35 11.12 L-4.87 10.12Z" fill="rgb(5,5,5)" opacity="0.27"/><path d="M9.72 4.56 L10.81 5.04 L12.26 5.71 L13.32 6.26 L12.22 5.78 L10.78 5.1Z" fill="rgb(69,69,69)" opacity="0.65"/><path d="M0.41 1.22 L0.83 2.39 L1.37 3.96 L1.74 5.14 L1.32 3.98 L0.8 2.4Z" fill="rgb(69,69,69)" opacity="0.61"/><path d="M6.47 9.6 L7.03 10.36 L7.73 11.39 L8.22 12.2 L7.66 11.45 L6.96 10.4Z" fill="rgb(69,69,69)" opacity="0.63"/><path d="M4.95 1.32 L6.12 1.59 L7.67 2 L8.82 2.35 L7.65 2.09 L6.1 1.67Z" fill="rgb(69,69,69)" opacity="0.71"/><path d="M3.28 7.6 L3.82 8.76 L4.5 10.33 L4.96 11.52 L4.42 10.36 L3.75 8.79Z" fill="rgb(69,69,69)" opacity="0.59"/><path d="M3.23 10.1 L3.71 11.48 L4.3 13.32 L4.71 14.72 L4.22 13.35 L3.64 11.5Z" fill="rgb(5,5,5)" opacity="0.14"/><path d="M-2.64 13.48 L-2.88 14.9 L-3.24 16.79 L-3.56 18.2 L-3.32 16.78 L-2.95 14.89Z" fill="rgb(69,69,69)" opacity="0.71"/><path d="M0.89 10.11 L1.02 11.22 L1.16 12.7 L1.21 13.82 L1.07 12.71 L0.95 11.22Z" fill="rgb(5,5,5)" opacity="0.31"/><path d="M-0.1 7.6 L-0.09 8.75 L-0.1 10.27 L-0.16 11.41 L-0.18 10.26 L-0.15 8.74Z" fill="rgb(69,69,69)" opacity="0.78"/><path d="M-3.54 6.83 L-3.75 7.28 L-4.05 7.87 L-4.3 8.29 L-4.09 7.84 L-3.79 7.26Z" fill="rgb(5,5,5)" opacity="0.33"/><path d="M-6.21 10.56 L-6.54 11.19 L-7.01 12 L-7.4 12.58 L-7.08 11.96 L-6.6 11.15Z" fill="rgb(5,5,5)" opacity="0.22"/><path d="M-0.3 5.19 L-0.31 5.91 L-0.36 6.87 L-0.43 7.59 L-0.42 6.87 L-0.36 5.91Z" fill="rgb(69,69,69)" opacity="0.45"/><path d="M-3.99 3 L-4.97 3.79 L-6.3 4.8 L-7.34 5.52 L-6.36 4.73 L-5.02 3.73Z" fill="rgb(69,69,69)" opacity="0.50"/><path d="M-4.98 8.19 L-5.46 9.01 L-6.12 10.1 L-6.63 10.9 L-6.16 10.08 L-5.49 8.99Z" fill="rgb(5,5,5)" opacity="0.23"/><path d="M-9.6 6.98 L-10.03 7.33 L-10.64 7.77 L-11.11 8.08 L-10.67 7.72 L-10.07 7.28Z" fill="rgb(5,5,5)" opacity="0.21"/><path d="M4.22 2.75 L5.44 3.52 L7.05 4.57 L8.25 5.37 L7.03 4.6 L5.42 3.55Z" fill="rgb(5,5,5)" opacity="0.41"/><path d="M-4.05 1.07 L-5.48 1.48 L-7.4 2 L-8.85 2.34 L-7.42 1.91 L-5.5 1.42Z" fill="rgb(5,5,5)" opacity="0.56"/><path d="M-4.71 1.29 L-5.6 1.58 L-6.81 1.92 L-7.72 2.12 L-6.83 1.83 L-5.62 1.5Z" fill="rgb(5,5,5)" opacity="0.36"/><path d="M8.17 2.31 L8.92 2.51 L9.91 2.78 L10.64 3.01 L9.89 2.82 L8.91 2.54Z" fill="rgb(69,69,69)" opacity="0.61"/><path d="M-0.59 4.9 L-0.73 6.34 L-0.95 8.25 L-1.16 9.68 L-1.02 8.24 L-0.79 6.33Z" fill="rgb(69,69,69)" opacity="0.71"/><path d="M-4.11 5.13 L-4.44 5.58 L-4.9 6.17 L-5.27 6.59 L-4.94 6.13 L-4.48 5.55Z" fill="rgb(5,5,5)" opacity="0.46"/><path d="M0.67 10.21 L0.77 11.36 L0.88 12.9 L0.92 14.05 L0.81 12.9 L0.71 11.36Z" fill="rgb(69,69,69)" opacity="0.46"/><path d="M-2.05 0.7 L-2.87 0.99 L-3.98 1.37 L-4.81 1.63 L-3.99 1.33 L-2.88 0.96Z" fill="rgb(5,5,5)" opacity="0.53"/><path d="M-3.22 3.8 L-3.83 4.55 L-4.66 5.54 L-5.31 6.26 L-4.7 5.5 L-3.86 4.52Z" fill="rgb(5,5,5)" opacity="0.46"/><path d="M-1.49 0.69 L-2.74 1.3 L-4.4 2.09 L-5.68 2.64 L-4.44 2.02 L-2.76 1.25Z" fill="rgb(69,69,69)" opacity="0.69"/><path d="M-12.48 4.82 L-13.8 5.37 L-15.59 6.06 L-16.94 6.54 L-15.61 5.99 L-13.83 5.31Z" fill="rgb(69,69,69)" opacity="0.57"/><path d="M7.08 5.66 L7.61 6.06 L8.31 6.62 L8.82 7.06 L8.28 6.66 L7.59 6.1Z" fill="rgb(69,69,69)" opacity="0.61"/><path d="M-5.14 4.61 L-6.16 5.56 L-7.53 6.8 L-8.6 7.7 L-7.59 6.73 L-6.21 5.5Z" fill="rgb(69,69,69)" opacity="0.71"/><path d="M-11.74 8.06 L-12.84 8.85 L-14.33 9.88 L-15.47 10.62 L-14.37 9.83 L-12.87 8.81Z" fill="rgb(5,5,5)" opacity="0.13"/><path d="M4.9 1.47 L6.27 1.84 L8.09 2.37 L9.44 2.82 L8.06 2.46 L6.25 1.91Z" fill="rgb(5,5,5)" opacity="0.49"/><path d="M-4.04 1.93 L-5.06 2.46 L-6.42 3.12 L-7.47 3.57 L-6.46 3.03 L-5.09 2.39Z" fill="rgb(5,5,5)" opacity="0.33"/><path d="M-2.12 5.01 L-2.35 5.6 L-2.67 6.37 L-2.94 6.94 L-2.72 6.35 L-2.39 5.58Z" fill="rgb(5,5,5)" opacity="0.43"/><path d="M-3.7 5.24 L-4.51 6.44 L-5.61 8.02 L-6.47 9.18 L-5.67 7.98 L-4.55 6.41Z" fill="rgb(5,5,5)" opacity="0.48"/><path d="M-12.55 4.27 L-13.06 4.47 L-13.75 4.71 L-14.28 4.86 L-13.77 4.66 L-13.08 4.43Z" fill="rgb(5,5,5)" opacity="0.18"/><path d="M2.23 7.01 L2.62 8.15 L3.11 9.68 L3.45 10.84 L3.05 9.7 L2.57 8.16Z" fill="rgb(69,69,69)" opacity="0.49"/><path d="M-0.79 0.49 L-2.01 1.29 L-3.64 2.33 L-4.9 3.05 L-3.7 2.23 L-2.04 1.23Z" fill="rgb(69,69,69)" opacity="0.56"/><path d="M-6.52 9.84 L-7.04 10.66 L-7.75 11.74 L-8.3 12.53 L-7.79 11.71 L-7.07 10.64Z" fill="rgb(5,5,5)" opacity="0.22"/><path d="M-6.62 2.58 L-7.24 2.86 L-8.09 3.19 L-8.74 3.41 L-8.11 3.13 L-7.27 2.8Z" fill="rgb(69,69,69)" opacity="0.52"/><path d="M-4.62 8.04 L-5.08 8.9 L-5.72 10.03 L-6.24 10.86 L-5.78 10 L-5.13 8.87Z" fill="rgb(5,5,5)" opacity="0.28"/><path d="M6.32 2.53 L7.52 2.97 L9.11 3.59 L10.28 4.11 L9.08 3.68 L7.49 3.04Z" fill="rgb(5,5,5)" opacity="0.39"/><path d="M7.52 7.74 L8 8.19 L8.61 8.81 L9.04 9.3 L8.56 8.85 L7.96 8.23Z" fill="rgb(69,69,69)" opacity="0.41"/><path d="M2.49 4.56 L2.85 5.19 L3.31 6.02 L3.64 6.66 L3.28 6.04 L2.82 5.2Z" fill="rgb(69,69,69)" opacity="0.67"/><path d="M-2.46 6.3 L-2.85 7.4 L-3.4 8.84 L-3.87 9.9 L-3.49 8.81 L-2.92 7.37Z" fill="rgb(5,5,5)" opacity="0.31"/><path d="M2.97 0.81 L4 1.06 L5.37 1.42 L6.38 1.74 L5.35 1.5 L3.99 1.12Z" fill="rgb(69,69,69)" opacity="0.76"/><path d="M3.13 10.3 L3.34 10.86 L3.58 11.62 L3.71 12.2 L3.5 11.64 L3.27 10.88Z" fill="rgb(69,69,69)" opacity="0.65"/><path d="M3.02 4.12 L3.47 4.69 L4.05 5.47 L4.46 6.07 L4 5.5 L3.43 4.72Z" fill="rgb(5,5,5)" opacity="0.53"/><path d="M-0.64 8.58 L-0.7 9.72 L-0.81 11.23 L-0.92 12.37 L-0.86 11.23 L-0.74 9.71Z" fill="rgb(69,69,69)" opacity="0.44"/><path d="M2 8.92 L2.36 10.35 L2.79 12.27 L3.08 13.72 L2.72 12.29 L2.29 10.37Z" fill="rgb(5,5,5)" opacity="0.33"/><path d="M-0.04 6.56 L-0.02 7.5 L-0.02 8.76 L-0.06 9.71 L-0.08 8.76 L-0.07 7.5Z" fill="rgb(5,5,5)" opacity="0.42"/><path d="M-12.07 7.77 L-12.89 8.34 L-14.01 9.07 L-14.88 9.57 L-14.06 9 L-12.93 8.28Z" fill="rgb(5,5,5)" opacity="0.16"/><path d="M0.44 2.03 L0.6 2.59 L0.77 3.36 L0.86 3.94 L0.69 3.37 L0.53 2.61Z" fill="rgb(69,69,69)" opacity="0.45"/><path d="M8.42 7.56 L9.37 8.38 L10.62 9.49 L11.53 10.35 L10.58 9.54 L9.34 8.42Z" fill="rgb(69,69,69)" opacity="0.70"/><path d="M-6.94 7.41 L-7.73 8.29 L-8.8 9.44 L-9.63 10.29 L-8.84 9.41 L-7.76 8.26Z" fill="rgb(69,69,69)" opacity="0.64"/><path d="M6.27 6.44 L7.32 7.49 L8.71 8.9 L9.72 9.98 L8.67 8.94 L7.29 7.52Z" fill="rgb(5,5,5)" opacity="0.25"/><path d="M1.04 4.7 L1.22 5.37 L1.43 6.27 L1.54 6.95 L1.36 6.28 L1.16 5.38Z" fill="rgb(5,5,5)" opacity="0.63"/><path d="M2.12 7.4 L2.47 8.48 L2.89 9.93 L3.16 11.03 L2.82 9.95 L2.4 8.5Z" fill="rgb(69,69,69)" opacity="0.51"/><path d="M2.83 5.35 L3.08 5.77 L3.38 6.34 L3.59 6.79 L3.34 6.36 L3.04 5.79Z" fill="rgb(69,69,69)" opacity="0.67"/><path d="M3.06 6.91 L3.61 8.09 L4.32 9.69 L4.83 10.89 L4.27 9.71 L3.57 8.11Z" fill="rgb(69,69,69)" opacity="0.70"/><path d="M3.04 5.88 L3.69 7.1 L4.54 8.74 L5.16 9.97 L4.51 8.75 L3.66 7.11Z" fill="rgb(5,5,5)" opacity="0.46"/><path d="M2.73 1.71 L3.84 2.37 L5.32 3.28 L6.4 4 L5.28 3.35 L3.81 2.42Z" fill="rgb(5,5,5)" opacity="0.46"/><path d="M4.15 8.85 L4.8 10.19 L5.65 11.98 L6.26 13.34 L5.6 12.01 L4.76 10.21Z" fill="rgb(69,69,69)" opacity="0.45"/><path d="M0.68 1.26 L1.33 2.43 L2.18 4 L2.79 5.2 L2.13 4.03 L1.3 2.45Z" fill="rgb(69,69,69)" opacity="0.78"/><path d="M-0.03 11.42 L0 12.23 L0 13.32 L-0.03 14.13 L-0.05 13.32 L-0.05 12.23Z" fill="rgb(69,69,69)" opacity="0.79"/><path d="M-9.9 9.34 L-10.88 10.31 L-12.22 11.57 L-13.24 12.49 L-12.27 11.51 L-10.93 10.26Z" fill="rgb(69,69,69)" opacity="0.69"/><path d="M7.98 4.29 L8.59 4.58 L9.4 5.01 L9.98 5.36 L9.36 5.07 L8.56 4.64Z" fill="rgb(5,5,5)" opacity="0.33"/><path d="M-2.68 2.02 L-3.56 2.7 L-4.74 3.59 L-5.65 4.24 L-4.77 3.56 L-3.58 2.67Z" fill="rgb(69,69,69)" opacity="0.55"/><path d="M-4.54 6.1 L-4.83 6.54 L-5.25 7.11 L-5.59 7.51 L-5.3 7.07 L-4.88 6.51Z" fill="rgb(5,5,5)" opacity="0.34"/><path d="M1.77 7.9 L2.08 9.14 L2.45 10.8 L2.7 12.06 L2.38 10.82 L2.02 9.15Z" fill="rgb(5,5,5)" opacity="0.32"/><path d="M1.38 1.16 L1.84 1.5 L2.43 1.98 L2.84 2.39 L2.37 2.06 L1.8 1.56Z" fill="rgb(5,5,5)" opacity="0.40"/><path d="M8.05 4.63 L9.24 5.28 L10.8 6.17 L11.95 6.87 L10.76 6.24 L9.21 5.33Z" fill="rgb(69,69,69)" opacity="0.45"/><path d="M6.97 8.21 L7.6 8.91 L8.42 9.87 L9.01 10.6 L8.38 9.9 L7.56 8.94Z" fill="rgb(69,69,69)" opacity="0.77"/><path d="M-0.31 3.45 L-0.41 4.94 L-0.57 6.91 L-0.76 8.38 L-0.68 6.9 L-0.48 4.93Z" fill="rgb(69,69,69)" opacity="0.48"/><path d="M3.49 4.94 L4.06 5.7 L4.79 6.73 L5.31 7.52 L4.73 6.77 L4.01 5.74Z" fill="rgb(69,69,69)" opacity="0.64"/><path d="M-2.55 2.58 L-3.25 3.33 L-4.21 4.3 L-4.95 5.01 L-4.25 4.26 L-3.29 3.29Z" fill="rgb(5,5,5)" opacity="0.40"/><path d="M3.78 1.89 L4.51 2.23 L5.48 2.71 L6.19 3.09 L5.46 2.75 L4.5 2.26Z" fill="rgb(69,69,69)" opacity="0.79"/><path d="M-4.48 11.78 L-4.97 13.17 L-5.67 15.01 L-6.23 16.38 L-5.74 14.98 L-5.04 13.15Z" fill="rgb(69,69,69)" opacity="0.57"/><path d="M-3.11 2.58 L-3.72 3.11 L-4.54 3.79 L-5.17 4.28 L-4.57 3.75 L-3.74 3.08Z" fill="rgb(5,5,5)" opacity="0.53"/><path d="M-2.15 3.51 L-2.45 4.03 L-2.87 4.71 L-3.2 5.21 L-2.91 4.69 L-2.48 4.01Z" fill="rgb(69,69,69)" opacity="0.43"/><path d="M0.26 4.12 L0.37 5.38 L0.48 7.05 L0.53 8.31 L0.42 7.06 L0.32 5.38Z" fill="rgb(5,5,5)" opacity="0.63"/><path d="M3.39 1.54 L4.7 2.1 L6.43 2.88 L7.72 3.5 L6.4 2.95 L4.68 2.15Z" fill="rgb(5,5,5)" opacity="0.48"/><path d="M0.47 4.15 L0.64 5.39 L0.83 7.03 L0.94 8.28 L0.77 7.04 L0.59 5.39Z" fill="rgb(5,5,5)" opacity="0.55"/><path d="M-0.15 0.84 L-0.25 1.57 L-0.41 2.53 L-0.57 3.24 L-0.48 2.52 L-0.3 1.56Z" fill="rgb(69,69,69)" opacity="0.63"/><path d="M-6.98 1.88 L-8.31 2.28 L-10.09 2.76 L-11.44 3.08 L-10.12 2.67 L-8.33 2.2Z" fill="rgb(5,5,5)" opacity="0.38"/><path d="M4.06 14.43 L4.44 15.65 L4.9 17.29 L5.22 18.53 L4.84 17.31 L4.38 15.67Z" fill="rgb(69,69,69)" opacity="0.78"/><path d="M1.28 9.04 L1.42 9.81 L1.57 10.83 L1.64 11.6 L1.5 10.84 L1.36 9.81Z" fill="rgb(69,69,69)" opacity="0.78"/><path d="M14.5 3.61 L15.91 3.94 L17.78 4.41 L19.18 4.78 L17.77 4.45 L15.9 3.98Z" fill="rgb(69,69,69)" opacity="0.54"/><path d="M6.53 5.52 L7.09 5.97 L7.83 6.59 L8.36 7.07 L7.8 6.62 L7.07 6Z" fill="rgb(69,69,69)" opacity="0.45"/><path d="M-9.13 6.62 L-9.65 7.02 L-10.35 7.53 L-10.89 7.89 L-10.38 7.49 L-9.67 6.98Z" fill="rgb(5,5,5)" opacity="0.17"/><path d="M7.67 6.25 L8.76 7.09 L10.18 8.24 L11.22 9.13 L10.13 8.3 L8.71 7.14Z" fill="rgb(5,5,5)" opacity="0.19"/><path d="M-1.18 5.83 L-1.31 6.68 L-1.53 7.81 L-1.74 8.64 L-1.62 7.79 L-1.38 6.67Z" fill="rgb(69,69,69)" opacity="0.72"/><path d="M0.57 1.51 L0.83 2.12 L1.15 2.96 L1.35 3.6 L1.08 2.98 L0.77 2.14Z" fill="rgb(5,5,5)" opacity="0.49"/><path d="M-3.62 4.66 L-4.17 5.42 L-4.93 6.4 L-5.53 7.12 L-4.98 6.36 L-4.21 5.38Z" fill="rgb(5,5,5)" opacity="0.46"/><path d="M-3 4.52 L-3.52 5.35 L-4.24 6.45 L-4.81 7.25 L-4.28 6.42 L-3.56 5.33Z" fill="rgb(69,69,69)" opacity="0.43"/><path d="M5.29 11.94 L5.89 13.2 L6.64 14.9 L7.17 16.19 L6.58 14.93 L5.83 13.23Z" fill="rgb(69,69,69)" opacity="0.62"/><path d="M0.46 2.94 L0.64 3.94 L0.86 5.28 L0.98 6.29 L0.79 5.29 L0.59 3.95Z" fill="rgb(69,69,69)" opacity="0.58"/><path d="M7.61 6.12 L8.25 6.6 L9.08 7.26 L9.68 7.78 L9.04 7.3 L8.22 6.63Z" fill="rgb(5,5,5)" opacity="0.28"/><path d="M-3.69 6.27 L-4.11 7.04 L-4.7 8.05 L-5.18 8.79 L-4.76 8.02 L-4.17 7.01Z" fill="rgb(5,5,5)" opacity="0.34"/><path d="M0.89 8.56 L1.03 9.7 L1.19 11.23 L1.28 12.37 L1.14 11.23 L0.98 9.71Z" fill="rgb(69,69,69)" opacity="0.77"/><path d="M-8.34 6.12 L-8.91 6.57 L-9.68 7.14 L-10.28 7.54 L-9.72 7.09 L-8.94 6.52Z" fill="rgb(69,69,69)" opacity="0.50"/><path d="M-10.87 9.4 L-11.23 9.74 L-11.73 10.17 L-12.11 10.47 L-11.75 10.14 L-11.26 9.71Z" fill="rgb(5,5,5)" opacity="0.14"/><path d="M-8.48 8.11 L-9.53 9.15 L-10.95 10.52 L-12.04 11.53 L-10.99 10.49 L-9.56 9.12Z" fill="rgb(5,5,5)" opacity="0.14"/><path d="M8.84 2.23 L10.19 2.54 L11.99 2.99 L13.33 3.36 L11.97 3.06 L10.17 2.6Z" fill="rgb(69,69,69)" opacity="0.58"/><path d="M1.39 2.23 L1.71 2.67 L2.1 3.28 L2.35 3.77 L2.02 3.33 L1.65 2.72Z" fill="rgb(5,5,5)" opacity="0.66"/><path d="M-9.73 4.3 L-11.08 4.93 L-12.89 5.74 L-14.27 6.3 L-12.92 5.66 L-11.11 4.86Z" fill="rgb(5,5,5)" opacity="0.18"/><path d="M4.8 13.07 L5.15 13.98 L5.6 15.2 L5.92 16.12 L5.56 15.21 L5.12 13.99Z" fill="rgb(69,69,69)" opacity="0.78"/><path d="M7.43 11.93 L7.77 12.43 L8.2 13.12 L8.5 13.64 L8.16 13.14 L7.74 12.45Z" fill="rgb(5,5,5)" opacity="0.14"/><path d="M-0.35 3.78 L-0.43 5.03 L-0.57 6.69 L-0.73 7.93 L-0.66 6.68 L-0.5 5.02Z" fill="rgb(5,5,5)" opacity="0.47"/><path d="M-0.13 6.17 L-0.12 7.11 L-0.15 8.36 L-0.19 9.3 L-0.2 8.36 L-0.17 7.11Z" fill="rgb(69,69,69)" opacity="0.78"/><path d="M1.72 1.64 L2.58 2.41 L3.7 3.46 L4.5 4.29 L3.63 3.53 L2.53 2.46Z" fill="rgb(69,69,69)" opacity="0.76"/><path d="M1.32 0.55 L2.35 0.95 L3.72 1.51 L4.73 1.96 L3.69 1.57 L2.33 0.99Z" fill="rgb(69,69,69)" opacity="0.62"/><path d="M7.85 5.54 L8.99 6.32 L10.5 7.38 L11.62 8.2 L10.47 7.43 L8.97 6.36Z" fill="rgb(5,5,5)" opacity="0.22"/><path d="M-9.03 8.09 L-9.81 8.81 L-10.85 9.75 L-11.66 10.44 L-10.89 9.71 L-9.84 8.77Z" fill="rgb(5,5,5)" opacity="0.15"/><path d="M6.61 13.23 L6.99 13.92 L7.47 14.87 L7.79 15.59 L7.41 14.9 L6.94 13.95Z" fill="rgb(5,5,5)" opacity="0.13"/><path d="M1.33 14.44 L1.46 15.62 L1.61 17.19 L1.69 18.37 L1.56 17.19 L1.42 15.62Z" fill="rgb(5,5,5)" opacity="0.16"/><path d="M-3.45 9.6 L-3.7 10.41 L-4.08 11.47 L-4.4 12.25 L-4.15 11.44 L-3.77 10.38Z" fill="rgb(69,69,69)" opacity="0.73"/><path d="M-1.48 2.5 L-1.87 3.2 L-2.4 4.12 L-2.83 4.79 L-2.44 4.09 L-1.9 3.18Z" fill="rgb(5,5,5)" opacity="0.76"/><path d="M-0.84 3.82 L-1.1 5.17 L-1.48 6.96 L-1.82 8.3 L-1.57 6.94 L-1.16 5.15Z" fill="rgb(69,69,69)" opacity="0.52"/><path d="M0 2.33 L0.03 3 L0.04 3.9 L0.01 4.57 L-0.03 3.9 L-0.02 3Z" fill="rgb(69,69,69)" opacity="0.46"/><path d="M1.34 4.6 L1.77 5.94 L2.31 7.75 L2.66 9.11 L2.22 7.77 L1.7 5.96Z" fill="rgb(5,5,5)" opacity="0.38"/><path d="M3.41 4.11 L4.3 5.15 L5.47 6.54 L6.32 7.61 L5.42 6.58 L4.26 5.18Z" fill="rgb(5,5,5)" opacity="0.49"/><path d="M5.85 9.77 L6.28 10.46 L6.84 11.38 L7.23 12.09 L6.8 11.41 L6.24 10.48Z" fill="rgb(69,69,69)" opacity="0.78"/><path d="M-4.25 1.54 L-4.97 1.83 L-5.94 2.18 L-6.68 2.42 L-5.96 2.12 L-4.99 1.78Z" fill="rgb(5,5,5)" opacity="0.39"/><path d="M-0.57 0.34 L-1.24 0.78 L-2.16 1.35 L-2.87 1.72 L-2.2 1.26 L-1.27 0.73Z" fill="rgb(69,69,69)" opacity="0.66"/><path d="M0.21 5.66 L0.26 6.54 L0.3 7.7 L0.31 8.58 L0.26 7.71 L0.22 6.54Z" fill="rgb(5,5,5)" opacity="0.51"/><path d="M-2.94 1.64 L-4.03 2.28 L-5.51 3.12 L-6.64 3.7 L-5.55 3.05 L-4.06 2.23Z" fill="rgb(5,5,5)" opacity="0.60"/><path d="M-10.01 7.33 L-10.53 7.74 L-11.24 8.26 L-11.79 8.63 L-11.27 8.22 L-10.56 7.7Z" fill="rgb(5,5,5)" opacity="0.21"/><path d="M-2.99 5.23 L-3.58 6.3 L-4.39 7.72 L-5.02 8.76 L-4.43 7.69 L-3.62 6.28Z" fill="rgb(69,69,69)" opacity="0.80"/><path d="M-11.77 7.9 L-12.89 8.7 L-14.42 9.73 L-15.59 10.46 L-14.47 9.66 L-12.94 8.63Z" fill="rgb(69,69,69)" opacity="0.48"/><path d="M-0.46 2.86 L-0.66 4.27 L-0.95 6.14 L-1.21 7.54 L-1.03 6.13 L-0.71 4.26Z" fill="rgb(5,5,5)" opacity="0.52"/><path d="M-0.03 14.36 L-0.01 14.94 L-0.01 15.71 L-0.03 16.29 L-0.06 15.71 L-0.06 14.94Z" fill="rgb(5,5,5)" opacity="0.16"/><path d="M10.18 10.92 L11.06 11.82 L12.21 13.05 L13.04 14 L12.16 13.1 L11.01 11.87Z" fill="rgb(5,5,5)" opacity="0.15"/><path d="M-3.48 3.8 L-4.41 4.86 L-5.69 6.27 L-6.67 7.29 L-5.74 6.22 L-4.46 4.83Z" fill="rgb(69,69,69)" opacity="0.66"/><path d="M9.22 2.44 L10.16 2.66 L11.41 2.99 L12.34 3.26 L11.4 3.05 L10.15 2.71Z" fill="rgb(5,5,5)" opacity="0.29"/><path d="M-0.39 13.58 L-0.39 14.97 L-0.44 16.81 L-0.52 18.19 L-0.52 16.81 L-0.46 14.96Z" fill="rgb(5,5,5)" opacity="0.17"/><path d="M-5.43 5.27 L-5.93 5.79 L-6.63 6.47 L-7.17 6.96 L-6.66 6.44 L-5.96 5.76Z" fill="rgb(5,5,5)" opacity="0.31"/><path d="M9.34 8.42 L10 9 L10.87 9.78 L11.5 10.38 L10.84 9.8 L9.98 9.02Z" fill="rgb(69,69,69)" opacity="0.66"/><path d="M2.96 4.73 L3.55 5.64 L4.31 6.86 L4.86 7.78 L4.27 6.88 L3.51 5.66Z" fill="rgb(5,5,5)" opacity="0.52"/><path d="M5.88 6.3 L6.61 7.05 L7.57 8.08 L8.28 8.86 L7.55 8.1 L6.59 7.08Z" fill="rgb(69,69,69)" opacity="0.56"/><path d="M-1.33 0.63 L-2.63 1.29 L-4.37 2.14 L-5.71 2.73 L-4.41 2.06 L-2.65 1.24Z" fill="rgb(5,5,5)" opacity="0.66"/><path d="M8.04 5.38 L8.8 5.86 L9.8 6.52 L10.53 7.04 L9.76 6.57 L8.77 5.9Z" fill="rgb(5,5,5)" opacity="0.35"/><path d="M-9.84 7.46 L-10.72 8.16 L-11.91 9.07 L-12.82 9.73 L-11.94 9.03 L-10.75 8.12Z" fill="rgb(5,5,5)" opacity="0.13"/><path d="M5.2 6.8 L5.86 7.63 L6.73 8.76 L7.36 9.61 L6.7 8.78 L5.84 7.65Z" fill="rgb(5,5,5)" opacity="0.40"/><path d="M3 3.59 L3.79 4.51 L4.83 5.74 L5.58 6.69 L4.79 5.77 L3.76 4.53Z" fill="rgb(5,5,5)" opacity="0.42"/><path d="M-0.33 4.62 L-0.34 5.14 L-0.38 5.84 L-0.45 6.36 L-0.45 5.83 L-0.39 5.14Z" fill="rgb(69,69,69)" opacity="0.47"/><path d="M-0.93 2.01 L-1.09 2.46 L-1.35 3.04 L-1.59 3.45 L-1.44 3 L-1.16 2.43Z" fill="rgb(69,69,69)" opacity="0.76"/><path d="M-0.44 2.12 L-0.6 3 L-0.83 4.18 L-1.05 5.05 L-0.9 4.17 L-0.65 2.99Z" fill="rgb(69,69,69)" opacity="0.62"/><path d="M-4.59 1.27 L-5.73 1.62 L-7.27 2.06 L-8.43 2.33 L-7.29 1.97 L-5.75 1.55Z" fill="rgb(69,69,69)" opacity="0.56"/><path d="M4.64 1.85 L5.19 2.05 L5.9 2.33 L6.42 2.56 L5.88 2.37 L5.17 2.09Z" fill="rgb(5,5,5)" opacity="0.44"/><path d="M6.01 12.75 L6.5 13.73 L7.13 15.06 L7.58 16.07 L7.08 15.08 L6.46 13.75Z" fill="rgb(69,69,69)" opacity="0.53"/><path d="M-0.48 9.37 L-0.53 10.84 L-0.62 12.81 L-0.74 14.28 L-0.7 12.8 L-0.59 10.84Z" fill="rgb(5,5,5)" opacity="0.29"/><path d="M0.08 3.22 L0.12 4.37 L0.17 5.91 L0.17 7.07 L0.11 5.91 L0.08 4.37Z" fill="rgb(69,69,69)" opacity="0.56"/><path d="M-0.02 0.87 L0 1.7 L0 2.8 L-0.08 3.63 L-0.11 2.8 L-0.07 1.7Z" fill="rgb(5,5,5)" opacity="0.55"/><path d="M-1.19 10.53 L-1.27 11.5 L-1.41 12.8 L-1.55 13.77 L-1.47 12.79 L-1.32 11.5Z" fill="rgb(5,5,5)" opacity="0.19"/><path d="M3.09 5.82 L3.67 6.86 L4.42 8.26 L4.95 9.33 L4.36 8.29 L3.63 6.88Z" fill="rgb(5,5,5)" opacity="0.31"/><path d="M-0.28 7.58 L-0.28 8.05 L-0.3 8.67 L-0.34 9.14 L-0.34 8.67 L-0.32 8.05Z" fill="rgb(69,69,69)" opacity="0.71"/><path d="M9.38 8.59 L10.37 9.44 L11.64 10.6 L12.57 11.51 L11.58 10.67 L10.31 9.5Z" fill="rgb(69,69,69)" opacity="0.46"/><path d="M-9.78 6.9 L-10.3 7.29 L-11.01 7.79 L-11.55 8.15 L-11.04 7.75 L-10.33 7.25Z" fill="rgb(69,69,69)" opacity="0.76"/><path d="M-2.66 2.77 L-3.38 3.57 L-4.36 4.61 L-5.13 5.35 L-4.42 4.55 L-3.42 3.52Z" fill="rgb(69,69,69)" opacity="0.63"/><path d="M0.71 8.46 L0.83 9.45 L0.94 10.76 L0.98 11.76 L0.86 10.77 L0.75 9.45Z" fill="rgb(5,5,5)" opacity="0.39"/><path d="M-0.43 0.91 L-0.82 1.77 L-1.35 2.91 L-1.78 3.76 L-1.39 2.89 L-0.85 1.76Z" fill="rgb(5,5,5)" opacity="0.59"/><path d="M7.67 9.95 L8.45 10.89 L9.44 12.18 L10.16 13.17 L9.38 12.23 L8.39 10.94Z" fill="rgb(69,69,69)" opacity="0.69"/><path d="M1.32 3.35 L1.84 4.61 L2.51 6.29 L2.98 7.57 L2.45 6.32 L1.79 4.62Z" fill="rgb(5,5,5)" opacity="0.40"/><path d="M5.65 4.65 L6.63 5.4 L7.9 6.43 L8.82 7.25 L7.84 6.5 L6.58 5.45Z" fill="rgb(5,5,5)" opacity="0.37"/><path d="M-0.35 3.85 L-0.43 5.14 L-0.57 6.85 L-0.73 8.13 L-0.67 6.84 L-0.5 5.13Z" fill="rgb(69,69,69)" opacity="0.41"/><path d="M-0.11 1.56 L-0.15 2.47 L-0.23 3.68 L-0.33 4.59 L-0.29 3.68 L-0.2 2.47Z" fill="rgb(69,69,69)" opacity="0.71"/><path d="M3 13.53 L3.17 14.16 L3.36 15.01 L3.47 15.66 L3.3 15.02 L3.12 14.17Z" fill="rgb(5,5,5)" opacity="0.18"/><path d="M-0.57 3.06 L-0.7 3.91 L-0.9 5.03 L-1.09 5.86 L-0.97 5.02 L-0.76 3.9Z" fill="rgb(5,5,5)" opacity="0.61"/><path d="M9.97 7.66 L10.71 8.18 L11.66 8.91 L12.35 9.48 L11.62 8.96 L10.67 8.23Z" fill="rgb(5,5,5)" opacity="0.17"/><path d="M-0.82 3.05 L-1.11 4.23 L-1.52 5.8 L-1.86 6.97 L-1.58 5.79 L-1.15 4.22Z" fill="rgb(69,69,69)" opacity="0.50"/><path d="M4.7 8.64 L5.41 9.89 L6.33 11.56 L6.98 12.84 L6.27 11.6 L5.36 9.92Z" fill="rgb(69,69,69)" opacity="0.75"/><path d="M-7.35 5.19 L-8.56 6.06 L-10.17 7.21 L-11.4 8.04 L-10.21 7.16 L-8.58 6.03Z" fill="rgb(69,69,69)" opacity="0.45"/><path d="M-10.53 3.49 L-11.35 3.81 L-12.47 4.18 L-13.32 4.42 L-12.5 4.1 L-11.38 3.73Z" fill="rgb(5,5,5)" opacity="0.14"/><path d="M-2.08 3.71 L-2.42 4.35 L-2.89 5.2 L-3.26 5.83 L-2.92 5.18 L-2.44 4.34Z" fill="rgb(69,69,69)" opacity="0.54"/><path d="M-1.01 8.09 L-1.17 9.57 L-1.41 11.53 L-1.62 13 L-1.46 11.52 L-1.21 9.56Z" fill="rgb(69,69,69)" opacity="0.76"/><path d="M-4.38 7.01 L-4.76 7.68 L-5.3 8.56 L-5.74 9.19 L-5.37 8.51 L-4.82 7.64Z" fill="rgb(5,5,5)" opacity="0.36"/><path d="M-5.12 2.78 L-6.15 3.38 L-7.54 4.14 L-8.6 4.68 L-7.57 4.08 L-6.18 3.32Z" fill="rgb(69,69,69)" opacity="0.56"/><path d="M-5.77 2.51 L-6.96 3.06 L-8.57 3.77 L-9.79 4.27 L-8.59 3.71 L-6.98 3.02Z" fill="rgb(69,69,69)" opacity="0.47"/><path d="M3.5 5.46 L3.99 6.16 L4.6 7.12 L5.03 7.86 L4.53 7.17 L3.93 6.2Z" fill="rgb(69,69,69)" opacity="0.43"/><path d="M4.14 10.38 L4.35 10.84 L4.6 11.47 L4.76 11.95 L4.55 11.49 L4.3 10.86Z" fill="rgb(5,5,5)" opacity="0.24"/><path d="M-0.54 2.24 L-0.69 2.97 L-0.91 3.95 L-1.13 4.67 L-0.99 3.93 L-0.74 2.96Z" fill="rgb(5,5,5)" opacity="0.66"/><path d="M6.02 2.02 L6.52 2.16 L7.18 2.38 L7.67 2.58 L7.17 2.44 L6.51 2.21Z" fill="rgb(69,69,69)" opacity="0.42"/><path d="M-12.27 6.1 L-13.5 6.74 L-15.16 7.57 L-16.41 8.17 L-15.18 7.53 L-13.52 6.7Z" fill="rgb(69,69,69)" opacity="0.79"/><path d="M-3.7 3.06 L-4.22 3.51 L-4.92 4.1 L-5.47 4.52 L-4.95 4.06 L-4.25 3.48Z" fill="rgb(69,69,69)" opacity="0.58"/><path d="M0.97 1.06 L1.63 1.77 L2.5 2.71 L3.14 3.45 L2.47 2.75 L1.61 1.79Z" fill="rgb(5,5,5)" opacity="0.76"/><path d="M6.89 4.43 L7.41 4.73 L8.08 5.16 L8.56 5.52 L8.04 5.22 L7.37 4.79Z" fill="rgb(69,69,69)" opacity="0.71"/><path d="M-6.78 11.59 L-7.12 12.26 L-7.62 13.12 L-8.04 13.75 L-7.69 13.08 L-7.19 12.22Z" fill="rgb(69,69,69)" opacity="0.50"/><path d="M-0.13 6.68 L-0.11 7.3 L-0.12 8.12 L-0.17 8.73 L-0.19 8.12 L-0.17 7.3Z" fill="rgb(5,5,5)" opacity="0.48"/><path d="M-3.84 8.55 L-4.09 9.16 L-4.44 9.96 L-4.74 10.55 L-4.5 9.94 L-4.14 9.14Z" fill="rgb(69,69,69)" opacity="0.71"/><path d="M-3.38 3.19 L-3.75 3.56 L-4.25 4.04 L-4.65 4.38 L-4.29 4 L-3.78 3.53Z" fill="rgb(5,5,5)" opacity="0.42"/><path d="M-11.34 7.22 L-11.98 7.65 L-12.86 8.21 L-13.52 8.6 L-12.88 8.17 L-12.01 7.61Z" fill="rgb(69,69,69)" opacity="0.74"/><path d="M8.28 10.76 L8.92 11.56 L9.76 12.64 L10.36 13.46 L9.71 12.67 L8.88 11.59Z" fill="rgb(5,5,5)" opacity="0.11"/><path d="M5.91 11.18 L6.61 12.41 L7.49 14.07 L8.11 15.34 L7.42 14.11 L6.54 12.44Z" fill="rgb(5,5,5)" opacity="0.18"/><path d="M-4.49 7.34 L-4.78 7.89 L-5.21 8.6 L-5.57 9.11 L-5.28 8.56 L-4.85 7.85Z" fill="rgb(5,5,5)" opacity="0.26"/><path d="M9.08 2.63 L9.74 2.78 L10.6 3.03 L11.24 3.26 L10.58 3.11 L9.72 2.86Z" fill="rgb(5,5,5)" opacity="0.32"/><path d="M4.24 2.68 L4.88 3.05 L5.72 3.57 L6.33 4 L5.68 3.63 L4.85 3.1Z" fill="rgb(69,69,69)" opacity="0.68"/><path d="M-0.19 3.32 L-0.2 3.9 L-0.24 4.67 L-0.29 5.25 L-0.29 4.67 L-0.24 3.9Z" fill="rgb(5,5,5)" opacity="0.72"/><path d="M9.09 9 L9.86 9.7 L10.85 10.68 L11.56 11.45 L10.79 10.74 L9.8 9.76Z" fill="rgb(69,69,69)" opacity="0.55"/><path d="M3.67 1.98 L4.66 2.48 L5.96 3.17 L6.92 3.73 L5.93 3.24 L4.63 2.53Z" fill="rgb(69,69,69)" opacity="0.63"/><path d="M9.51 9.41 L10.18 10 L11.02 10.83 L11.62 11.49 L10.96 10.9 L10.12 10.06Z" fill="rgb(69,69,69)" opacity="0.76"/><path d="M5.67 10.84 L6.13 11.64 L6.7 12.73 L7.09 13.56 L6.63 12.76 L6.07 11.67Z" fill="rgb(5,5,5)" opacity="0.13"/><path d="M-8.47 7.62 L-9.48 8.55 L-10.83 9.78 L-11.87 10.67 L-10.87 9.74 L-9.51 8.52Z" fill="rgb(5,5,5)" opacity="0.16"/><path d="M-6.08 11.16 L-6.41 11.83 L-6.88 12.71 L-7.27 13.35 L-6.95 12.67 L-6.47 11.8Z" fill="rgb(69,69,69)" opacity="0.46"/><path d="M2.41 0.85 L2.94 1.02 L3.64 1.27 L4.16 1.47 L3.63 1.3 L2.93 1.05Z" fill="rgb(69,69,69)" opacity="0.41"/><path d="M-11.18 8.65 L-11.73 9.12 L-12.48 9.7 L-13.08 10.11 L-12.53 9.64 L-11.77 9.06Z" fill="rgb(69,69,69)" opacity="0.41"/><path d="M-2.1 0.58 L-3.49 0.99 L-5.36 1.52 L-6.76 1.87 L-5.38 1.45 L-3.51 0.94Z" fill="rgb(69,69,69)" opacity="0.42"/><path d="M1.86 4.66 L2.12 5.24 L2.44 6.03 L2.65 6.64 L2.39 6.05 L2.07 5.26Z" fill="rgb(5,5,5)" opacity="0.44"/><path d="M0.52 3.11 L0.71 4.13 L0.94 5.49 L1.09 6.52 L0.9 5.5 L0.68 4.13Z" fill="rgb(5,5,5)" opacity="0.70"/><path d="M1.49 7.16 L1.7 8 L1.95 9.14 L2.08 9.99 L1.87 9.15 L1.63 8.02Z" fill="rgb(5,5,5)" opacity="0.43"/><path d="M-0.92 6.17 L-1.08 7.37 L-1.31 8.97 L-1.52 10.16 L-1.36 8.96 L-1.12 7.36Z" fill="rgb(69,69,69)" opacity="0.50"/><path d="M-9.12 9.27 L-9.64 9.85 L-10.37 10.59 L-10.94 11.11 L-10.43 10.53 L-9.7 9.8Z" fill="rgb(69,69,69)" opacity="0.77"/><path d="M-0.9 11.23 L-0.91 11.79 L-0.97 12.54 L-1.05 13.09 L-1.04 12.53 L-0.98 11.78Z" fill="rgb(5,5,5)" opacity="0.20"/><path d="M-5.27 2.85 L-6.36 3.48 L-7.83 4.28 L-8.96 4.84 L-7.87 4.21 L-6.39 3.42Z" fill="rgb(69,69,69)" opacity="0.53"/><path d="M4.13 2.05 L4.63 2.26 L5.28 2.57 L5.75 2.85 L5.24 2.65 L4.6 2.33Z" fill="rgb(5,5,5)" opacity="0.50"/><path d="M5.68 9.84 L6.37 10.98 L7.26 12.51 L7.9 13.68 L7.21 12.54 L6.33 11Z" fill="rgb(5,5,5)" opacity="0.22"/><path d="M5.59 5.75 L6.22 6.34 L7.03 7.17 L7.59 7.82 L6.96 7.23 L6.16 6.4Z" fill="rgb(5,5,5)" opacity="0.41"/><path d="M0.26 13.44 L0.31 14.8 L0.35 16.63 L0.34 18 L0.29 16.63 L0.25 14.8Z" fill="rgb(69,69,69)" opacity="0.64"/><path d="M-4.35 3.01 L-5.19 3.63 L-6.33 4.43 L-7.21 5 L-6.37 4.38 L-5.22 3.59Z" fill="rgb(5,5,5)" opacity="0.54"/><path d="M4.58 1.82 L5.94 2.33 L7.74 3.04 L9.08 3.6 L7.72 3.09 L5.92 2.37Z" fill="rgb(69,69,69)" opacity="0.70"/><path d="M7.44 2.34 L8.68 2.69 L10.32 3.2 L11.53 3.62 L10.29 3.28 L8.66 2.76Z" fill="rgb(69,69,69)" opacity="0.65"/><path d="M0.65 0.26 L1.2 0.45 L1.92 0.72 L2.44 0.98 L1.88 0.81 L1.17 0.51Z" fill="rgb(5,5,5)" opacity="0.57"/><path d="M4.84 4.89 L5.28 5.29 L5.84 5.85 L6.24 6.3 L5.8 5.89 L5.25 5.33Z" fill="rgb(5,5,5)" opacity="0.45"/><path d="M0 0.56 L0 2.06 L0 4.05 L-0.03 5.55 L-0.05 4.05 L-0.03 2.06Z" fill="rgb(69,69,69)" opacity="0.72"/><path d="M9.59 4.13 L10.39 4.43 L11.43 4.88 L12.2 5.25 L11.4 4.95 L10.36 4.5Z" fill="rgb(5,5,5)" opacity="0.25"/><path d="M5.83 6.14 L6.55 6.86 L7.48 7.84 L8.16 8.59 L7.45 7.88 L6.52 6.89Z" fill="rgb(5,5,5)" opacity="0.23"/><path d="M-8.41 4.6 L-8.83 4.88 L-9.41 5.2 L-9.87 5.4 L-9.45 5.12 L-8.87 4.81Z" fill="rgb(69,69,69)" opacity="0.59"/><path d="M-4.41 5.99 L-5.04 6.89 L-5.91 8.07 L-6.58 8.94 L-5.94 8.04 L-5.08 6.86Z" fill="rgb(5,5,5)" opacity="0.46"/><path d="M-2.87 2.16 L-3.38 2.57 L-4.08 3.1 L-4.61 3.47 L-4.1 3.06 L-3.4 2.54Z" fill="rgb(69,69,69)" opacity="0.78"/><path d="M0.92 0.32 L2.18 0.72 L3.85 1.28 L5.09 1.75 L3.83 1.36 L2.16 0.77Z" fill="rgb(69,69,69)" opacity="0.75"/><path d="M-8.28 5.14 L-9.24 5.78 L-10.55 6.6 L-11.55 7.17 L-10.59 6.53 L-9.28 5.72Z" fill="rgb(69,69,69)" opacity="0.46"/><path d="M1.62 4.4 L2.03 5.41 L2.54 6.76 L2.88 7.8 L2.46 6.79 L1.97 5.43Z" fill="rgb(69,69,69)" opacity="0.69"/><path d="M6.01 1.84 L7.03 2.12 L8.37 2.53 L9.37 2.87 L8.35 2.59 L7.01 2.17Z" fill="rgb(5,5,5)" opacity="0.33"/><path d="M-6.74 3.8 L-7.53 4.28 L-8.59 4.88 L-9.41 5.3 L-8.62 4.82 L-7.56 4.22Z" fill="rgb(69,69,69)" opacity="0.77"/><path d="M0.57 6.05 L0.7 7.28 L0.86 8.92 L0.95 10.15 L0.82 8.92 L0.67 7.28Z" fill="rgb(5,5,5)" opacity="0.49"/><path d="M-4.19 5.63 L-4.46 6.04 L-4.84 6.57 L-5.17 6.94 L-4.91 6.52 L-4.52 6Z" fill="rgb(5,5,5)" opacity="0.44"/><path d="M6.97 2.14 L8.29 2.5 L10.02 3.03 L11.31 3.47 L10 3.11 L8.27 2.57Z" fill="rgb(5,5,5)" opacity="0.33"/><path d="M0.03 0.91 L0.08 2.36 L0.15 4.29 L0.16 5.74 L0.1 4.29 L0.05 2.36Z" fill="rgb(5,5,5)" opacity="0.64"/><path d="M-4.19 3.59 L-4.76 4.1 L-5.53 4.77 L-6.12 5.25 L-5.55 4.74 L-4.78 4.08Z" fill="rgb(69,69,69)" opacity="0.55"/><path d="M5.83 8.87 L6.66 10.05 L7.73 11.66 L8.48 12.89 L7.65 11.71 L6.6 10.09Z" fill="rgb(69,69,69)" opacity="0.64"/><path d="M5.85 10.38 L6.17 10.89 L6.56 11.58 L6.83 12.11 L6.51 11.61 L6.12 10.91Z" fill="rgb(5,5,5)" opacity="0.17"/><path d="M5.76 2.9 L6.84 3.42 L8.26 4.13 L9.32 4.68 L8.24 4.17 L6.82 3.45Z" fill="rgb(5,5,5)" opacity="0.51"/><path d="M5.09 1.75 L6.35 2.14 L8.03 2.71 L9.27 3.19 L8 2.8 L6.33 2.22Z" fill="rgb(69,69,69)" opacity="0.43"/><path d="M6.3 13.43 L6.54 13.85 L6.81 14.43 L6.98 14.88 L6.74 14.46 L6.47 13.88Z" fill="rgb(5,5,5)" opacity="0.15"/><path d="M-6.33 4.57 L-7.1 5.15 L-8.15 5.92 L-8.96 6.47 L-8.18 5.88 L-7.13 5.12Z" fill="rgb(5,5,5)" opacity="0.40"/><path d="M-7.32 6.02 L-8.13 6.73 L-9.23 7.65 L-10.09 8.3 L-9.29 7.58 L-8.18 6.67Z" fill="rgb(5,5,5)" opacity="0.34"/><path d="M-6.05 2.51 L-6.6 2.78 L-7.35 3.1 L-7.93 3.29 L-7.38 3.02 L-6.63 2.71Z" fill="rgb(69,69,69)" opacity="0.73"/><path d="M2.99 9.31 L3.46 10.67 L4.06 12.5 L4.46 13.88 L3.97 12.53 L3.39 10.69Z" fill="rgb(5,5,5)" opacity="0.25"/><path d="M1.01 7.9 L1.09 8.37 L1.17 9.01 L1.21 9.49 L1.12 9.01 L1.04 8.38Z" fill="rgb(5,5,5)" opacity="0.35"/><path d="M-1.62 12.65 L-1.69 13.5 L-1.83 14.63 L-1.98 15.48 L-1.91 14.62 L-1.76 13.49Z" fill="rgb(5,5,5)" opacity="0.18"/><path d="M-5.98 7.09 L-6.56 7.82 L-7.36 8.79 L-8 9.48 L-7.42 8.74 L-6.61 7.78Z" fill="rgb(69,69,69)" opacity="0.48"/><path d="M-7.39 9.27 L-8.16 10.28 L-9.21 11.61 L-10.03 12.58 L-9.26 11.57 L-8.2 10.24Z" fill="rgb(5,5,5)" opacity="0.15"/><path d="M0.46 4.27 L0.58 5.07 L0.71 6.15 L0.75 6.96 L0.61 6.16 L0.5 5.08Z" fill="rgb(5,5,5)" opacity="0.38"/><path d="M-11.02 6.94 L-11.78 7.46 L-12.81 8.11 L-13.6 8.57 L-12.85 8.05 L-11.81 7.4Z" fill="rgb(5,5,5)" opacity="0.16"/><path d="M2.33 1.24 L3.54 1.86 L5.14 2.7 L6.32 3.36 L5.11 2.75 L3.52 1.89Z" fill="rgb(69,69,69)" opacity="0.52"/><path d="M0.52 12.1 L0.6 13.16 L0.67 14.57 L0.67 15.63 L0.58 14.58 L0.52 13.16Z" fill="rgb(69,69,69)" opacity="0.55"/><path d="M1.78 8.85 L2.04 10 L2.36 11.54 L2.56 12.71 L2.29 11.56 L1.99 10.01Z" fill="rgb(69,69,69)" opacity="0.71"/><path d="M1.02 1.02 L1.95 1.93 L3.19 3.15 L4.09 4.09 L3.16 3.18 L1.93 1.95Z" fill="rgb(5,5,5)" opacity="0.64"/><path d="M-0.86 1.48 L-1.19 2.11 L-1.67 2.95 L-2.06 3.55 L-1.74 2.91 L-1.24 2.09Z" fill="rgb(5,5,5)" opacity="0.73"/><path d="M-7.22 6.11 L-7.8 6.62 L-8.58 7.28 L-9.18 7.76 L-8.6 7.25 L-7.82 6.59Z" fill="rgb(69,69,69)" opacity="0.44"/><path d="M-0.74 0.59 L-1.88 1.53 L-3.41 2.77 L-4.58 3.67 L-3.45 2.72 L-1.91 1.5Z" fill="rgb(5,5,5)" opacity="0.57"/><path d="M0.13 4.07 L0.2 5.51 L0.27 7.43 L0.29 8.88 L0.22 7.44 L0.16 5.51Z" fill="rgb(5,5,5)" opacity="0.56"/><path d="M1.5 1.02 L2.75 1.84 L4.4 2.94 L5.6 3.81 L4.35 3.01 L2.72 1.88Z" fill="rgb(5,5,5)" opacity="0.59"/><path d="M-2.03 14.18 L-2.2 15.65 L-2.47 17.6 L-2.72 19.06 L-2.56 17.59 L-2.28 15.64Z" fill="rgb(69,69,69)" opacity="0.61"/><path d="M1.58 2.64 L2.32 3.82 L3.28 5.39 L3.95 6.61 L3.2 5.44 L2.26 3.85Z" fill="rgb(69,69,69)" opacity="0.52"/><path d="M6.14 11.76 L6.85 13.08 L7.78 14.85 L8.45 16.19 L7.73 14.88 L6.81 13.1Z" fill="rgb(5,5,5)" opacity="0.16"/><path d="M-1.38 3.65 L-1.57 4.18 L-1.83 4.88 L-2.05 5.4 L-1.87 4.87 L-1.6 4.17Z" fill="rgb(69,69,69)" opacity="0.45"/><path d="M-3.59 3.62 L-4 4.05 L-4.55 4.62 L-4.99 5.02 L-4.59 4.58 L-4.03 4.02Z" fill="rgb(69,69,69)" opacity="0.79"/><path d="M-1.85 9.23 L-2.01 10.24 L-2.27 11.57 L-2.52 12.56 L-2.36 11.55 L-2.09 10.22Z" fill="rgb(5,5,5)" opacity="0.35"/><path d="M9.33 6.15 L10.49 6.88 L12.02 7.89 L13.14 8.66 L11.98 7.93 L10.46 6.93Z" fill="rgb(5,5,5)" opacity="0.15"/><path d="M3.9 1.83 L5.27 2.45 L7.08 3.29 L8.43 3.95 L7.06 3.34 L5.25 2.49Z" fill="rgb(69,69,69)" opacity="0.70"/><path d="M0.7 3.46 L0.85 4.03 L1.02 4.79 L1.09 5.37 L0.93 4.81 L0.78 4.04Z" fill="rgb(69,69,69)" opacity="0.60"/><path d="M5.86 4.67 L6.61 5.25 L7.6 6.04 L8.33 6.65 L7.58 6.08 L6.59 5.28Z" fill="rgb(5,5,5)" opacity="0.39"/><path d="M2.67 5.54 L3.21 6.6 L3.91 8.04 L4.4 9.13 L3.85 8.07 L3.16 6.62Z" fill="rgb(69,69,69)" opacity="0.54"/><path d="M8.35 9.98 L9.01 10.72 L9.86 11.73 L10.47 12.51 L9.8 11.77 L8.96 10.76Z" fill="rgb(5,5,5)" opacity="0.17"/><path d="M3.91 1.22 L5.22 1.59 L6.96 2.12 L8.25 2.57 L6.94 2.21 L5.2 1.65Z" fill="rgb(5,5,5)" opacity="0.51"/><path d="M-0.49 0.42 L-0.83 0.77 L-1.3 1.2 L-1.7 1.48 L-1.37 1.13 L-0.87 0.72Z" fill="rgb(69,69,69)" opacity="0.64"/><path d="M-1.98 13.08 L-2.14 14.29 L-2.38 15.91 L-2.6 17.11 L-2.44 15.9 L-2.19 14.29Z" fill="rgb(5,5,5)" opacity="0.12"/><path d="M2.53 1.04 L3.84 1.55 L5.58 2.25 L6.87 2.82 L5.56 2.32 L3.82 1.6Z" fill="rgb(69,69,69)" opacity="0.79"/><path d="M-7.37 7.2 L-7.87 7.72 L-8.56 8.4 L-9.09 8.89 L-8.59 8.36 L-7.9 7.69Z" fill="rgb(5,5,5)" opacity="0.32"/><path d="M8.83 5.16 L9.81 5.71 L11.1 6.47 L12.06 7.05 L11.08 6.51 L9.79 5.75Z" fill="rgb(5,5,5)" opacity="0.20"/><path d="M0.29 0.72 L0.6 1.43 L1.01 2.4 L1.26 3.14 L0.93 2.42 L0.56 1.45Z" fill="rgb(69,69,69)" opacity="0.57"/><path d="M-0.2 0.65 L-0.52 1.73 L-0.95 3.17 L-1.31 4.24 L-1.01 3.15 L-0.55 1.72Z" fill="rgb(69,69,69)" opacity="0.55"/><path d="M4.92 10.12 L5.33 10.91 L5.85 11.98 L6.21 12.78 L5.81 11.99 L5.29 10.93Z" fill="rgb(5,5,5)" opacity="0.22"/><path d="M-0.61 14.55 L-0.61 15.38 L-0.65 16.49 L-0.72 17.33 L-0.72 16.49 L-0.67 15.38Z" fill="rgb(69,69,69)" opacity="0.45"/><path d="M-2.26 2.16 L-2.7 2.62 L-3.31 3.2 L-3.78 3.63 L-3.34 3.17 L-2.73 2.59Z" fill="rgb(5,5,5)" opacity="0.60"/><path d="M-0.2 8.6 L-0.18 9.35 L-0.2 10.34 L-0.26 11.09 L-0.28 10.34 L-0.25 9.35Z" fill="rgb(5,5,5)" opacity="0.31"/><path d="M-0.38 0.13 L-0.83 0.32 L-1.44 0.55 L-1.92 0.66 L-1.47 0.46 L-0.85 0.27Z" fill="rgb(69,69,69)" opacity="0.58"/><path d="M0.32 5.8 L0.4 6.56 L0.46 7.58 L0.46 8.34 L0.37 7.58 L0.32 6.57Z" fill="rgb(5,5,5)" opacity="0.52"/><path d="M1.43 14.23 L1.57 15.4 L1.73 16.98 L1.83 18.16 L1.68 16.98 L1.53 15.41Z" fill="rgb(69,69,69)" opacity="0.46"/><path d="M-5.28 3.04 L-6.21 3.6 L-7.46 4.33 L-8.42 4.85 L-7.49 4.29 L-6.23 3.57Z" fill="rgb(69,69,69)" opacity="0.53"/><path d="M-1.45 13.16 L-1.56 14.54 L-1.76 16.38 L-1.95 17.75 L-1.85 16.37 L-1.64 14.53Z" fill="rgb(69,69,69)" opacity="0.73"/><path d="M-4.9 7.49 L-5.43 8.35 L-6.17 9.48 L-6.74 10.31 L-6.21 9.45 L-5.47 8.32Z" fill="rgb(5,5,5)" opacity="0.25"/><path d="M2.72 2.7 L3.64 3.58 L4.85 4.76 L5.73 5.68 L4.81 4.8 L3.61 3.6Z" fill="rgb(69,69,69)" opacity="0.58"/><path d="M8.22 5.1 L8.84 5.45 L9.65 5.95 L10.24 6.36 L9.62 6.01 L8.81 5.5Z" fill="rgb(69,69,69)" opacity="0.66"/><path d="M-1.51 2.42 L-2.29 3.7 L-3.34 5.39 L-4.16 6.65 L-3.38 5.37 L-2.32 3.68Z" fill="rgb(69,69,69)" opacity="0.53"/><path d="M-3.64 7.67 L-4.03 8.55 L-4.58 9.72 L-5.02 10.59 L-4.63 9.7 L-4.07 8.54Z" fill="rgb(5,5,5)" opacity="0.36"/><path d="M-2.13 1.93 L-2.53 2.33 L-3.08 2.84 L-3.53 3.2 L-3.13 2.79 L-2.56 2.29Z" fill="rgb(5,5,5)" opacity="0.67"/><path d="M-8.32 10.04 L-9.19 11.13 L-10.38 12.57 L-11.29 13.62 L-10.43 12.53 L-9.23 11.09Z" fill="rgb(69,69,69)" opacity="0.47"/><path d="M0.77 1.13 L1.41 2.03 L2.25 3.25 L2.83 4.19 L2.17 3.3 L1.36 2.07Z" fill="rgb(69,69,69)" opacity="0.46"/><path d="M-4.29 5.27 L-5.11 6.34 L-6.24 7.73 L-7.12 8.74 L-6.3 7.67 L-5.17 6.29Z" fill="rgb(69,69,69)" opacity="0.40"/><path d="M0.38 3.23 L0.51 3.97 L0.64 4.97 L0.68 5.72 L0.54 4.98 L0.43 3.98Z" fill="rgb(69,69,69)" opacity="0.56"/><path d="M6.21 12.56 L6.47 13.01 L6.77 13.62 L6.97 14.1 L6.71 13.65 L6.41 13.04Z" fill="rgb(5,5,5)" opacity="0.11"/><path d="M-4.57 2.62 L-5.25 3.05 L-6.18 3.59 L-6.9 3.95 L-6.22 3.52 L-5.29 2.99Z" fill="rgb(5,5,5)" opacity="0.52"/><path d="M-2.75 14.7 L-2.98 16.11 L-3.33 17.99 L-3.62 19.39 L-3.39 17.98 L-3.04 16.1Z" fill="rgb(69,69,69)" opacity="0.61"/><path d="M-8.47 4.92 L-9.5 5.55 L-10.88 6.36 L-11.93 6.93 L-10.91 6.3 L-9.53 5.5Z" fill="rgb(5,5,5)" opacity="0.31"/><path d="M3.35 9.91 L3.83 11.2 L4.42 12.94 L4.82 14.26 L4.34 12.96 L3.76 11.22Z" fill="rgb(69,69,69)" opacity="0.78"/><path d="M1.46 0.58 L2.86 1.13 L4.72 1.86 L6.1 2.44 L4.7 1.91 L2.84 1.16Z" fill="rgb(5,5,5)" opacity="0.63"/><path d="M3.71 4 L4.24 4.53 L4.92 5.26 L5.42 5.83 L4.89 5.3 L4.21 4.56Z" fill="rgb(69,69,69)" opacity="0.45"/><path d="M-9.49 7.94 L-10.24 8.62 L-11.27 9.49 L-12.08 10.11 L-11.33 9.43 L-10.29 8.56Z" fill="rgb(5,5,5)" opacity="0.14"/><path d="M-10.18 8.84 L-10.59 9.24 L-11.16 9.74 L-11.61 10.09 L-11.21 9.69 L-10.63 9.19Z" fill="rgb(5,5,5)" opacity="0.11"/><path d="M-5.69 8.12 L-5.97 8.59 L-6.4 9.2 L-6.75 9.62 L-6.47 9.15 L-6.04 8.54Z" fill="rgb(5,5,5)" opacity="0.30"/><path d="M1.65 1.79 L2.57 2.76 L3.79 4.07 L4.67 5.08 L3.74 4.12 L2.54 2.8Z" fill="rgb(69,69,69)" opacity="0.73"/><path d="M-0.11 1.02 L-0.22 2.2 L-0.38 3.77 L-0.53 4.94 L-0.43 3.76 L-0.25 2.2Z" fill="rgb(5,5,5)" opacity="0.49"/><path d="M-1.49 6.35 L-1.73 7.51 L-2.09 9.05 L-2.4 10.19 L-2.16 9.03 L-1.8 7.49Z" fill="rgb(69,69,69)" opacity="0.49"/><path d="M0.92 0.99 L1.67 1.75 L2.64 2.77 L3.34 3.58 L2.58 2.83 L1.62 1.79Z" fill="rgb(5,5,5)" opacity="0.41"/><path d="M-8.74 4.39 L-9.86 5 L-11.38 5.76 L-12.54 6.3 L-11.41 5.7 L-9.89 4.94Z" fill="rgb(5,5,5)" opacity="0.27"/><path d="M-2.78 14.1 L-2.9 14.79 L-3.08 15.71 L-3.23 16.39 L-3.12 15.7 L-2.94 14.78Z" fill="rgb(69,69,69)" opacity="0.41"/><path d="M1.49 8.06 L1.64 8.69 L1.8 9.54 L1.89 10.18 L1.73 9.55 L1.58 8.7Z" fill="rgb(69,69,69)" opacity="0.68"/><path d="M8.42 8.64 L9.24 9.47 L10.33 10.58 L11.13 11.43 L10.3 10.61 L9.22 9.49Z" fill="rgb(5,5,5)" opacity="0.17"/><path d="M-4.2 4.04 L-4.9 4.75 L-5.86 5.67 L-6.59 6.34 L-5.89 5.63 L-4.93 4.71Z" fill="rgb(69,69,69)" opacity="0.51"/><path d="M-2.61 11.4 L-2.91 12.85 L-3.34 14.78 L-3.72 16.22 L-3.43 14.76 L-2.98 12.83Z" fill="rgb(5,5,5)" opacity="0.20"/><path d="M0.33 9.43 L0.39 9.91 L0.41 10.55 L0.39 11.03 L0.34 10.55 L0.32 9.91Z" fill="rgb(5,5,5)" opacity="0.28"/><path d="M0.53 1.73 L0.97 3.09 L1.55 4.91 L1.93 6.3 L1.48 4.94 L0.93 3.1Z" fill="rgb(69,69,69)" opacity="0.49"/><path d="M11.93 7.92 L12.68 8.38 L13.66 9.03 L14.38 9.54 L13.63 9.08 L12.65 8.43Z" fill="rgb(69,69,69)" opacity="0.68"/><path d="M4 12.11 L4.18 12.55 L4.38 13.14 L4.5 13.59 L4.32 13.16 L4.12 12.56Z" fill="rgb(5,5,5)" opacity="0.12"/><path d="M1.94 5.56 L2.15 6.09 L2.41 6.81 L2.57 7.36 L2.36 6.83 L2.11 6.11Z" fill="rgb(5,5,5)" opacity="0.37"/><path d="M-0.86 13.02 L-0.88 13.59 L-0.93 14.34 L-0.98 14.9 L-0.96 14.34 L-0.91 13.59Z" fill="rgb(5,5,5)" opacity="0.16"/><path d="M-11.89 4.29 L-13.06 4.75 L-14.63 5.32 L-15.82 5.71 L-14.65 5.25 L-13.08 4.69Z" fill="rgb(69,69,69)" opacity="0.77"/><path d="M-10.1 11.08 L-10.76 11.87 L-11.68 12.88 L-12.41 13.61 L-11.75 12.82 L-10.82 11.81Z" fill="rgb(5,5,5)" opacity="0.16"/><path d="M6.27 2.6 L7 2.87 L7.96 3.26 L8.67 3.6 L7.93 3.35 L6.97 2.94Z" fill="rgb(5,5,5)" opacity="0.30"/><path d="M9.39 6.66 L9.95 7.03 L10.68 7.55 L11.21 7.95 L10.65 7.59 L9.92 7.07Z" fill="rgb(69,69,69)" opacity="0.73"/><path d="M-11.29 5.63 L-12.42 6.24 L-13.95 7.01 L-15.12 7.54 L-13.99 6.92 L-12.46 6.16Z" fill="rgb(69,69,69)" opacity="0.72"/><path d="M-1.8 0.91 L-2.99 1.54 L-4.58 2.35 L-5.78 2.93 L-4.6 2.31 L-3 1.51Z" fill="rgb(5,5,5)" opacity="0.75"/><path d="M-0.28 6.56 L-0.3 7.95 L-0.37 9.8 L-0.47 11.19 L-0.45 9.8 L-0.37 7.95Z" fill="rgb(5,5,5)" opacity="0.42"/><path d="M-0.14 1.06 L-0.29 2.43 L-0.52 4.27 L-0.75 5.64 L-0.61 4.26 L-0.35 2.43Z" fill="rgb(69,69,69)" opacity="0.68"/><path d="M-3.9 5.6 L-4.23 6.12 L-4.7 6.79 L-5.07 7.29 L-4.73 6.77 L-4.26 6.09Z" fill="rgb(69,69,69)" opacity="0.69"/><path d="M6.83 10.85 L7.61 12.02 L8.62 13.61 L9.33 14.82 L8.55 13.65 L7.55 12.06Z" fill="rgb(69,69,69)" opacity="0.71"/><path d="M1.24 1.68 L1.55 2.03 L1.92 2.53 L2.16 2.93 L1.85 2.58 L1.49 2.08Z" fill="rgb(69,69,69)" opacity="0.75"/><path d="M6.05 2.44 L6.99 2.8 L8.24 3.29 L9.16 3.69 L8.22 3.33 L6.98 2.83Z" fill="rgb(69,69,69)" opacity="0.74"/><path d="M1.36 3.96 L1.59 4.57 L1.87 5.39 L2.06 6.01 L1.83 5.4 L1.55 4.58Z" fill="rgb(5,5,5)" opacity="0.44"/><path d="M-11.49 4.71 L-12.21 5.03 L-13.17 5.42 L-13.9 5.7 L-13.19 5.38 L-12.22 4.99Z" fill="rgb(5,5,5)" opacity="0.15"/><path d="M0.5 7.07 L0.59 8.09 L0.69 9.44 L0.74 10.46 L0.64 9.45 L0.55 8.09Z" fill="rgb(5,5,5)" opacity="0.49"/><path d="M-4.5 4.71 L-5.13 5.4 L-5.98 6.31 L-6.65 6.96 L-6.03 6.26 L-5.17 5.36Z" fill="rgb(69,69,69)" opacity="0.65"/><path d="M2.38 1.03 L3.23 1.37 L4.36 1.84 L5.19 2.26 L4.32 1.94 L3.2 1.44Z" fill="rgb(69,69,69)" opacity="0.68"/><path d="M-2.65 7.31 L-3.05 8.46 L-3.6 9.98 L-4.04 11.11 L-3.65 9.96 L-3.09 8.44Z" fill="rgb(69,69,69)" opacity="0.66"/><path d="M6.78 1.91 L8.17 2.27 L10.01 2.78 L11.38 3.2 L9.99 2.85 L8.15 2.32Z" fill="rgb(5,5,5)" opacity="0.38"/><path d="M6.46 7.5 L7.25 8.36 L8.28 9.54 L9.01 10.45 L8.22 9.59 L7.2 8.41Z" fill="rgb(69,69,69)" opacity="0.75"/><path d="M2.23 7.39 L2.58 8.45 L3.01 9.87 L3.3 10.95 L2.95 9.89 L2.53 8.47Z" fill="rgb(69,69,69)" opacity="0.77"/><path d="M-3.87 4.08 L-4.59 4.87 L-5.57 5.91 L-6.33 6.66 L-5.62 5.86 L-4.63 4.83Z" fill="rgb(69,69,69)" opacity="0.51"/><path d="M1.57 1.82 L2.21 2.54 L3.05 3.5 L3.65 4.24 L3.01 3.53 L2.18 2.56Z" fill="rgb(69,69,69)" opacity="0.79"/><path d="M-1.13 7.14 L-1.19 7.66 L-1.3 8.36 L-1.41 8.87 L-1.35 8.35 L-1.24 7.66Z" fill="rgb(5,5,5)" opacity="0.52"/><path d="M5.72 2.46 L6.64 2.83 L7.85 3.34 L8.75 3.76 L7.83 3.39 L6.62 2.87Z" fill="rgb(5,5,5)" opacity="0.31"/><path d="M-1.55 2.8 L-2.12 3.89 L-2.9 5.32 L-3.54 6.37 L-2.98 5.28 L-2.18 3.85Z" fill="rgb(69,69,69)" opacity="0.53"/><path d="M1.66 0.82 L2.79 1.35 L4.29 2.08 L5.4 2.67 L4.26 2.14 L2.77 1.39Z" fill="rgb(5,5,5)" opacity="0.49"/><path d="M10.71 7.07 L11.37 7.48 L12.24 8.05 L12.87 8.5 L12.21 8.09 L11.34 7.52Z" fill="rgb(5,5,5)" opacity="0.11"/><path d="M1 4.8 L1.26 5.92 L1.57 7.42 L1.79 8.55 L1.53 7.43 L1.22 5.93Z" fill="rgb(5,5,5)" opacity="0.39"/><path d="M2.2 10.72 L2.35 11.33 L2.52 12.15 L2.62 12.76 L2.47 12.16 L2.3 11.34Z" fill="rgb(5,5,5)" opacity="0.27"/><path d="M0.72 0.41 L1.47 0.82 L2.48 1.38 L3.2 1.83 L2.44 1.44 L1.45 0.86Z" fill="rgb(5,5,5)" opacity="0.60"/><path d="M-1.19 2.46 L-1.56 3.29 L-2.09 4.4 L-2.51 5.21 L-2.14 4.37 L-1.61 3.27Z" fill="rgb(69,69,69)" opacity="0.65"/><path d="M5.45 3.22 L6.27 3.66 L7.33 4.28 L8.1 4.79 L7.29 4.36 L6.23 3.72Z" fill="rgb(5,5,5)" opacity="0.54"/><path d="M1.89 2.43 L2.41 3.07 L3.1 3.95 L3.58 4.62 L3.05 3.98 L2.37 3.1Z" fill="rgb(5,5,5)" opacity="0.67"/><path d="M2 1.73 L2.54 2.15 L3.24 2.74 L3.73 3.23 L3.18 2.82 L2.49 2.21Z" fill="rgb(69,69,69)" opacity="0.64"/><path d="M-2.05 10.68 L-2.09 11.14 L-2.21 11.73 L-2.33 12.17 L-2.29 11.72 L-2.17 11.12Z" fill="rgb(5,5,5)" opacity="0.28"/><path d="M-4 9.73 L-4.22 10.37 L-4.55 11.2 L-4.85 11.8 L-4.63 11.16 L-4.29 10.34Z" fill="rgb(5,5,5)" opacity="0.27"/><path d="M6.55 8.23 L7.36 9.19 L8.41 10.5 L9.16 11.51 L8.34 10.55 L7.3 9.24Z" fill="rgb(5,5,5)" opacity="0.27"/><path d="M0.89 1.36 L1.28 1.89 L1.77 2.62 L2.09 3.2 L1.69 2.67 L1.22 1.93Z" fill="rgb(69,69,69)" opacity="0.75"/><path d="M1.35 2.04 L2.14 3.17 L3.17 4.69 L3.9 5.87 L3.1 4.74 L2.09 3.2Z" fill="rgb(69,69,69)" opacity="0.54"/><path d="M4.4 8.44 L4.93 9.36 L5.59 10.62 L6.04 11.58 L5.51 10.66 L4.86 9.4Z" fill="rgb(69,69,69)" opacity="0.74"/><path d="M12.11 4.22 L12.97 4.49 L14.12 4.89 L14.97 5.21 L14.1 4.94 L12.96 4.54Z" fill="rgb(5,5,5)" opacity="0.14"/><path d="M0.74 1.52 L1.08 2.2 L1.53 3.1 L1.83 3.79 L1.48 3.12 L1.05 2.21Z" fill="rgb(69,69,69)" opacity="0.52"/><path d="M1.34 11.88 L1.47 12.71 L1.6 13.83 L1.65 14.67 L1.52 13.84 L1.39 12.72Z" fill="rgb(69,69,69)" opacity="0.78"/><path d="M-2.15 4.65 L-2.38 5.23 L-2.72 5.98 L-3.02 6.53 L-2.8 5.95 L-2.45 5.2Z" fill="rgb(5,5,5)" opacity="0.63"/><path d="M-0.07 11.57 L-0.03 12.19 L-0.03 13.02 L-0.08 13.64 L-0.12 13.02 L-0.11 12.19Z" fill="rgb(69,69,69)" opacity="0.48"/><path d="M1.38 0.37 L2.8 0.71 L4.68 1.19 L6.07 1.62 L4.65 1.3 L2.78 0.78Z" fill="rgb(69,69,69)" opacity="0.57"/><path d="M10.24 10.35 L10.98 11.05 L11.94 12.01 L12.62 12.77 L11.88 12.07 L10.92 11.11Z" fill="rgb(69,69,69)" opacity="0.70"/><path d="M-9.07 4.17 L-9.66 4.48 L-10.48 4.85 L-11.1 5.1 L-10.51 4.78 L-9.69 4.41Z" fill="rgb(69,69,69)" opacity="0.41"/><path d="M-0.49 3.74 L-0.61 4.71 L-0.77 6.01 L-0.92 6.98 L-0.81 6 L-0.64 4.71Z" fill="rgb(69,69,69)" opacity="0.49"/><path d="M-3.35 8.69 L-3.76 9.85 L-4.35 11.37 L-4.82 12.51 L-4.41 11.35 L-3.82 9.83Z" fill="rgb(69,69,69)" opacity="0.51"/><path d="M3.21 10.75 L3.43 11.42 L3.7 12.31 L3.88 12.99 L3.65 12.32 L3.39 11.43Z" fill="rgb(5,5,5)" opacity="0.19"/><path d="M5.37 6.59 L5.74 7 L6.2 7.56 L6.52 8 L6.15 7.6 L5.7 7.03Z" fill="rgb(5,5,5)" opacity="0.42"/><path d="M5.91 13.73 L6.53 15.09 L7.32 16.91 L7.88 18.3 L7.25 16.95 L6.47 15.12Z" fill="rgb(5,5,5)" opacity="0.15"/><path d="M3.97 2.28 L5.24 2.96 L6.91 3.9 L8.14 4.66 L6.86 3.99 L5.2 3.03Z" fill="rgb(5,5,5)" opacity="0.59"/><path d="M4.81 9.13 L5.11 9.62 L5.46 10.29 L5.69 10.81 L5.4 10.32 L5.05 9.65Z" fill="rgb(69,69,69)" opacity="0.76"/><path d="M9.57 9.07 L10.48 9.9 L11.67 11.02 L12.54 11.89 L11.63 11.06 L10.45 9.93Z" fill="rgb(5,5,5)" opacity="0.15"/><path d="M7.69 4.91 L8.45 5.35 L9.44 5.98 L10.16 6.49 L9.4 6.05 L8.41 5.41Z" fill="rgb(5,5,5)" opacity="0.32"/><path d="M-3.39 9.54 L-3.73 10.53 L-4.19 11.85 L-4.57 12.83 L-4.24 11.84 L-3.76 10.52Z" fill="rgb(69,69,69)" opacity="0.46"/><path d="M0.08 2.03 L0.16 3.28 L0.24 4.95 L0.25 6.2 L0.16 4.95 L0.11 3.29Z" fill="rgb(69,69,69)" opacity="0.68"/><path d="M0.61 0.63 L1.48 1.5 L2.62 2.65 L3.44 3.56 L2.56 2.71 L1.44 1.53Z" fill="rgb(5,5,5)" opacity="0.77"/><path d="M3.74 11.42 L3.97 12.03 L4.24 12.85 L4.41 13.47 L4.17 12.87 L3.9 12.05Z" fill="rgb(5,5,5)" opacity="0.22"/><path d="M-0.48 3.8 L-0.56 4.64 L-0.7 5.77 L-0.83 6.61 L-0.75 5.76 L-0.6 4.64Z" fill="rgb(5,5,5)" opacity="0.59"/><path d="M3.78 11.28 L4.05 11.98 L4.37 12.93 L4.57 13.66 L4.3 12.95 L3.98 12Z" fill="rgb(5,5,5)" opacity="0.20"/><path d="M-3.45 2.99 L-4.02 3.52 L-4.8 4.2 L-5.41 4.69 L-4.84 4.16 L-4.06 3.48Z" fill="rgb(5,5,5)" opacity="0.46"/><path d="M-9.95 10.19 L-10.67 10.98 L-11.65 11.99 L-12.42 12.72 L-11.71 11.93 L-10.72 10.92Z" fill="rgb(69,69,69)" opacity="0.45"/><path d="M-12.45 5.76 L-12.87 5.98 L-13.45 6.25 L-13.89 6.43 L-13.47 6.21 L-12.89 5.94Z" fill="rgb(5,5,5)" opacity="0.14"/><path d="M-5.05 1.85 L-6.04 2.23 L-7.38 2.73 L-8.39 3.07 L-7.39 2.68 L-6.06 2.2Z" fill="rgb(69,69,69)" opacity="0.50"/><path d="M0.23 13.36 L0.28 14.43 L0.31 15.86 L0.29 16.92 L0.23 15.86 L0.21 14.43Z" fill="rgb(5,5,5)" opacity="0.10"/><path d="M-10.79 6.03 L-11.62 6.52 L-12.74 7.15 L-13.6 7.6 L-12.77 7.1 L-11.64 6.48Z" fill="rgb(5,5,5)" opacity="0.13"/><path d="M-0.64 12.06 L-0.69 13.25 L-0.77 14.84 L-0.85 16.03 L-0.81 14.84 L-0.72 13.25Z" fill="rgb(69,69,69)" opacity="0.74"/><path d="M1.85 5.9 L2.3 7.22 L2.86 8.98 L3.25 10.32 L2.79 9.01 L2.24 7.23Z" fill="rgb(5,5,5)" opacity="0.33"/><path d="M1.79 5.65 L1.96 6.07 L2.15 6.65 L2.25 7.09 L2.08 6.67 L1.9 6.09Z" fill="rgb(5,5,5)" opacity="0.41"/><path d="M-3 5.74 L-3.49 6.74 L-4.17 8.06 L-4.73 9.03 L-4.25 8.02 L-3.56 6.71Z" fill="rgb(5,5,5)" opacity="0.51"/><path d="M-0.37 0.68 L-0.64 1.24 L-1.01 1.96 L-1.34 2.48 L-1.1 1.92 L-0.69 1.21Z" fill="rgb(69,69,69)" opacity="0.70"/><path d="M11.47 3.15 L12.4 3.38 L13.64 3.72 L14.57 4 L13.63 3.76 L12.39 3.42Z" fill="rgb(5,5,5)" opacity="0.14"/><path d="M-7.13 1.95 L-8.48 2.36 L-10.31 2.87 L-11.69 3.19 L-10.33 2.77 L-8.51 2.28Z" fill="rgb(5,5,5)" opacity="0.23"/><path d="M-0.6 6.77 L-0.68 7.91 L-0.81 9.42 L-0.94 10.55 L-0.87 9.41 L-0.73 7.9Z" fill="rgb(69,69,69)" opacity="0.74"/><path d="M2.88 2.85 L3.62 3.56 L4.6 4.51 L5.31 5.24 L4.57 4.54 L3.6 3.58Z" fill="rgb(5,5,5)" opacity="0.34"/><path d="M2.08 5.7 L2.6 7.03 L3.26 8.81 L3.72 10.17 L3.2 8.84 L2.55 7.05Z" fill="rgb(69,69,69)" opacity="0.70"/><path d="M-2.41 8.17 L-2.73 9.34 L-3.18 10.89 L-3.56 12.05 L-3.24 10.87 L-2.78 9.32Z" fill="rgb(5,5,5)" opacity="0.21"/><path d="M-0.7 1.28 L-1.14 2.15 L-1.75 3.3 L-2.24 4.13 L-1.81 3.26 L-1.18 2.13Z" fill="rgb(69,69,69)" opacity="0.54"/><path d="M-13.72 3.84 L-15.03 4.23 L-16.77 4.72 L-18.09 5.06 L-16.79 4.67 L-15.04 4.18Z" fill="rgb(5,5,5)" opacity="0.17"/><path d="M0.15 4.87 L0.22 6.05 L0.28 7.64 L0.27 8.82 L0.19 7.64 L0.15 6.06Z" fill="rgb(5,5,5)" opacity="0.44"/><path d="M3 1.94 L4.1 2.6 L5.54 3.51 L6.59 4.25 L5.49 3.6 L4.06 2.66Z" fill="rgb(69,69,69)" opacity="0.47"/><path d="M4.65 9.14 L4.94 9.66 L5.3 10.37 L5.55 10.91 L5.27 10.39 L4.91 9.68Z" fill="rgb(5,5,5)" opacity="0.36"/><path d="M1.18 0.6 L2.29 1.14 L3.76 1.87 L4.84 2.46 L3.73 1.93 L2.27 1.18Z" fill="rgb(69,69,69)" opacity="0.52"/><path d="M3.3 5.26 L3.65 5.78 L4.09 6.48 L4.41 7.02 L4.06 6.5 L3.62 5.8Z" fill="rgb(69,69,69)" opacity="0.57"/><path d="M4.97 7.25 L5.83 8.44 L6.94 10.04 L7.73 11.27 L6.86 10.09 L5.77 8.48Z" fill="rgb(5,5,5)" opacity="0.28"/><path d="M0.46 10.52 L0.53 11.64 L0.59 13.12 L0.62 14.24 L0.55 13.12 L0.49 11.64Z" fill="rgb(5,5,5)" opacity="0.21"/><path d="M-0.08 7.53 L-0.06 8.52 L-0.07 9.83 L-0.11 10.81 L-0.14 9.83 L-0.12 8.52Z" fill="rgb(69,69,69)" opacity="0.46"/><path d="M11.02 2.82 L11.75 2.97 L12.72 3.21 L13.43 3.43 L12.7 3.29 L11.73 3.04Z" fill="rgb(5,5,5)" opacity="0.19"/><path d="M-1.75 2.75 L-1.98 3.16 L-2.31 3.68 L-2.59 4.07 L-2.36 3.66 L-2.02 3.13Z" fill="rgb(5,5,5)" opacity="0.76"/><path d="M5.03 13.74 L5.23 14.2 L5.46 14.83 L5.61 15.32 L5.4 14.86 L5.17 14.22Z" fill="rgb(5,5,5)" opacity="0.13"/><path d="M-13.35 4.24 L-14.37 4.61 L-15.76 5.06 L-16.81 5.34 L-15.78 4.97 L-14.4 4.53Z" fill="rgb(69,69,69)" opacity="0.73"/><path d="M2.93 12.72 L3.12 13.47 L3.36 14.48 L3.51 15.25 L3.32 14.49 L3.09 13.48Z" fill="rgb(5,5,5)" opacity="0.13"/><path d="M-2.09 1.65 L-2.5 2.02 L-3.06 2.47 L-3.51 2.78 L-3.11 2.42 L-2.53 1.97Z" fill="rgb(5,5,5)" opacity="0.43"/><path d="M-9.06 8.49 L-9.55 9 L-10.24 9.65 L-10.78 10.11 L-10.28 9.6 L-9.6 8.95Z" fill="rgb(69,69,69)" opacity="0.73"/><path d="M0.39 1.65 L0.6 2.43 L0.86 3.47 L1 4.26 L0.77 3.49 L0.54 2.44Z" fill="rgb(69,69,69)" opacity="0.45"/><path d="M-0.18 0.69 L-0.3 1.19 L-0.47 1.85 L-0.62 2.34 L-0.52 1.84 L-0.33 1.18Z" fill="rgb(69,69,69)" opacity="0.73"/><path d="M5.35 3.07 L6.43 3.65 L7.86 4.45 L8.9 5.1 L7.81 4.53 L6.4 3.71Z" fill="rgb(5,5,5)" opacity="0.32"/><path d="M6.85 11.62 L7.49 12.68 L8.33 14.09 L8.94 15.16 L8.3 14.11 L7.46 12.69Z" fill="rgb(5,5,5)" opacity="0.18"/><path d="M0.27 0.96 L0.42 1.48 L0.62 2.16 L0.74 2.68 L0.58 2.17 L0.39 1.48Z" fill="rgb(5,5,5)" opacity="0.64"/><path d="M-10.96 6.2 L-11.71 6.65 L-12.73 7.23 L-13.51 7.64 L-12.75 7.19 L-11.73 6.61Z" fill="rgb(5,5,5)" opacity="0.13"/><path d="M-2.38 2.54 L-3.24 3.48 L-4.4 4.73 L-5.29 5.64 L-4.44 4.69 L-3.27 3.46Z" fill="rgb(69,69,69)" opacity="0.46"/><path d="M4.41 9.3 L4.81 10.1 L5.33 11.18 L5.69 12.01 L5.29 11.2 L4.78 10.12Z" fill="rgb(69,69,69)" opacity="0.77"/><path d="M0.36 1.23 L0.7 2.3 L1.14 3.72 L1.41 4.81 L1.04 3.75 L0.64 2.31Z" fill="rgb(69,69,69)" opacity="0.78"/><path d="M-5.23 4.38 L-5.9 4.99 L-6.83 5.77 L-7.56 6.32 L-6.89 5.7 L-5.96 4.93Z" fill="rgb(69,69,69)" opacity="0.70"/><path d="M2.53 3.75 L3.08 4.51 L3.78 5.54 L4.28 6.33 L3.73 5.57 L3.03 4.54Z" fill="rgb(69,69,69)" opacity="0.48"/><path d="M-11.53 9.34 L-12.62 10.25 L-14.09 11.45 L-15.21 12.33 L-14.12 11.41 L-12.64 10.22Z" fill="rgb(5,5,5)" opacity="0.13"/><path d="M4.61 5.56 L5.24 6.27 L6.05 7.24 L6.62 7.99 L6 7.28 L5.2 6.31Z" fill="rgb(69,69,69)" opacity="0.61"/><path d="M-8.39 10.99 L-9.05 11.89 L-9.95 13.07 L-10.65 13.94 L-9.99 13.04 L-9.09 11.86Z" fill="rgb(5,5,5)" opacity="0.16"/><path d="M3.94 10.44 L4.39 11.57 L4.96 13.09 L5.37 14.24 L4.92 13.11 L4.35 11.59Z" fill="rgb(5,5,5)" opacity="0.21"/><path d="M7.17 8.67 L7.65 9.18 L8.24 9.9 L8.65 10.46 L8.17 9.96 L7.58 9.24Z" fill="rgb(5,5,5)" opacity="0.28"/><path d="M-2.62 4.12 L-3.32 5.3 L-4.29 6.86 L-5.07 7.99 L-4.38 6.8 L-3.39 5.26Z" fill="rgb(5,5,5)" opacity="0.34"/><path d="M-4.41 7.06 L-4.63 7.46 L-4.96 7.98 L-5.23 8.36 L-5 7.95 L-4.68 7.43Z" fill="rgb(5,5,5)" opacity="0.46"/><path d="M6.51 11.74 L6.87 12.31 L7.3 13.08 L7.59 13.69 L7.23 13.12 L6.8 12.35Z" fill="rgb(69,69,69)" opacity="0.50"/><path d="M1.64 3.62 L1.87 4.03 L2.13 4.59 L2.28 5.02 L2.06 4.62 L1.8 4.05Z" fill="rgb(69,69,69)" opacity="0.66"/><path d="M-6.76 3.88 L-7.95 4.6 L-9.56 5.53 L-10.78 6.2 L-9.59 5.48 L-7.98 4.56Z" fill="rgb(69,69,69)" opacity="0.76"/><path d="M6.56 3.26 L7.67 3.79 L9.14 4.51 L10.22 5.08 L9.11 4.56 L7.65 3.83Z" fill="rgb(69,69,69)" opacity="0.49"/><path d="M3.02 11.46 L3.2 12.03 L3.4 12.81 L3.54 13.4 L3.36 12.82 L3.16 12.04Z" fill="rgb(69,69,69)" opacity="0.50"/><path d="M-4.33 10.48 L-4.61 11.26 L-5.04 12.29 L-5.39 13.05 L-5.11 12.26 L-4.68 11.24Z" fill="rgb(5,5,5)" opacity="0.26"/><path d="M3.44 14.18 L3.67 15 L3.94 16.09 L4.1 16.91 L3.87 16.1 L3.61 15.01Z" fill="rgb(69,69,69)" opacity="0.48"/><path d="M-4.92 11.89 L-5.42 13.19 L-6.13 14.91 L-6.7 16.19 L-6.19 14.89 L-5.48 13.17Z" fill="rgb(69,69,69)" opacity="0.53"/><path d="M1.27 6.99 L1.56 8.46 L1.92 10.41 L2.15 11.89 L1.85 10.43 L1.5 8.47Z" fill="rgb(69,69,69)" opacity="0.63"/><path d="M-1.31 14.35 L-1.33 14.99 L-1.41 15.85 L-1.51 16.48 L-1.49 15.84 L-1.41 14.98Z" fill="rgb(69,69,69)" opacity="0.56"/><path d="M-3.8 1.41 L-4.53 1.71 L-5.51 2.08 L-6.25 2.33 L-5.52 2.03 L-4.54 1.67Z" fill="rgb(5,5,5)" opacity="0.39"/><path d="M-4.08 7.26 L-4.54 8.16 L-5.2 9.33 L-5.73 10.19 L-5.26 9.3 L-4.6 8.12Z" fill="rgb(69,69,69)" opacity="0.50"/><path d="M9.77 11.2 L10.2 11.66 L10.75 12.29 L11.14 12.77 L10.71 12.32 L10.17 11.68Z" fill="rgb(5,5,5)" opacity="0.20"/><path d="M-3.66 13.99 L-3.89 15.04 L-4.25 16.43 L-4.57 17.46 L-4.34 16.4 L-3.97 15.02Z" fill="rgb(69,69,69)" opacity="0.41"/><path d="M5.68 4.46 L6.14 4.78 L6.73 5.24 L7.15 5.62 L6.68 5.31 L6.1 4.84Z" fill="rgb(69,69,69)" opacity="0.48"/><path d="M6.76 8.98 L7.38 9.75 L8.18 10.8 L8.74 11.61 L8.12 10.84 L7.33 9.79Z" fill="rgb(5,5,5)" opacity="0.17"/><path d="M-3.62 8.76 L-3.85 9.42 L-4.2 10.28 L-4.5 10.9 L-4.27 10.25 L-3.92 9.39Z" fill="rgb(5,5,5)" opacity="0.32"/><path d="M-3.51 2.89 L-4.32 3.58 L-5.42 4.49 L-6.26 5.15 L-5.46 4.44 L-4.35 3.54Z" fill="rgb(69,69,69)" opacity="0.41"/><path d="M-1.66 5.63 L-1.78 6.19 L-1.99 6.92 L-2.19 7.45 L-2.08 6.89 L-1.86 6.17Z" fill="rgb(5,5,5)" opacity="0.60"/><path d="M-6.42 8.13 L-7.15 9.09 L-8.14 10.35 L-8.91 11.28 L-8.18 10.32 L-7.18 9.06Z" fill="rgb(5,5,5)" opacity="0.25"/><path d="M2.06 8.1 L2.26 8.79 L2.5 9.72 L2.65 10.42 L2.45 9.73 L2.21 8.8Z" fill="rgb(69,69,69)" opacity="0.60"/><path d="M-0.71 3.34 L-0.77 3.84 L-0.9 4.51 L-1.06 5 L-1 4.49 L-0.85 3.83Z" fill="rgb(69,69,69)" opacity="0.75"/><path d="M2.41 1.37 L2.98 1.67 L3.74 2.09 L4.28 2.44 L3.71 2.14 L2.96 1.71Z" fill="rgb(69,69,69)" opacity="0.49"/><path d="M3.22 10.13 L3.44 10.73 L3.7 11.53 L3.86 12.14 L3.64 11.55 L3.39 10.74Z" fill="rgb(5,5,5)" opacity="0.29"/><path d="M5.4 10.1 L5.67 10.56 L6.01 11.2 L6.25 11.69 L5.97 11.22 L5.63 10.58Z" fill="rgb(5,5,5)" opacity="0.21"/><path d="M5.81 9.36 L6.5 10.42 L7.39 11.84 L8.02 12.94 L7.33 11.88 L6.44 10.45Z" fill="rgb(69,69,69)" opacity="0.76"/><path d="M3.26 6.68 L3.86 7.86 L4.64 9.43 L5.19 10.63 L4.58 9.46 L3.82 7.88Z" fill="rgb(69,69,69)" opacity="0.64"/><path d="M3.05 0.91 L3.77 1.11 L4.74 1.4 L5.46 1.64 L4.73 1.44 L3.76 1.15Z" fill="rgb(5,5,5)" opacity="0.55"/><path d="M-0.3 5.61 L-0.32 6.44 L-0.37 7.56 L-0.45 8.39 L-0.45 7.55 L-0.38 6.44Z" fill="rgb(69,69,69)" opacity="0.59"/><path d="M-6.31 4.67 L-7.07 5.27 L-8.11 6.04 L-8.91 6.59 L-8.15 5.99 L-7.11 5.22Z" fill="rgb(69,69,69)" opacity="0.72"/><path d="M-5.22 6.19 L-6.14 7.33 L-7.39 8.82 L-8.36 9.92 L-7.44 8.79 L-6.18 7.3Z" fill="rgb(69,69,69)" opacity="0.67"/><path d="M-0.06 11.81 L-0.05 13.19 L-0.06 15.03 L-0.09 16.41 L-0.11 15.03 L-0.09 13.19Z" fill="rgb(5,5,5)" opacity="0.15"/><path d="M-1.07 9.64 L-1.12 10.29 L-1.22 11.16 L-1.31 11.8 L-1.27 11.15 L-1.17 10.29Z" fill="rgb(69,69,69)" opacity="0.57"/><path d="M-2.23 4.21 L-2.88 5.5 L-3.77 7.2 L-4.48 8.46 L-3.84 7.17 L-2.93 5.47Z" fill="rgb(69,69,69)" opacity="0.44"/><path d="M3.21 8.61 L3.6 9.58 L4.09 10.89 L4.44 11.88 L4.05 10.91 L3.57 9.6Z" fill="rgb(5,5,5)" opacity="0.34"/><path d="M1.78 10.01 L1.95 10.81 L2.14 11.89 L2.26 12.71 L2.08 11.9 L1.89 10.82Z" fill="rgb(69,69,69)" opacity="0.71"/><path d="M5.02 6.6 L5.63 7.37 L6.43 8.41 L7.01 9.21 L6.39 8.44 L5.59 7.39Z" fill="rgb(5,5,5)" opacity="0.22"/><path d="M0.87 4.82 L1.14 6.09 L1.45 7.78 L1.63 9.06 L1.36 7.8 L1.06 6.1Z" fill="rgb(5,5,5)" opacity="0.51"/><path d="M-10.42 10.57 L-11.04 11.26 L-11.91 12.14 L-12.59 12.77 L-11.97 12.08 L-11.1 11.2Z" fill="rgb(69,69,69)" opacity="0.53"/><path d="M1.48 2.51 L1.73 2.89 L2.05 3.42 L2.26 3.83 L2 3.45 L1.69 2.92Z" fill="rgb(5,5,5)" opacity="0.74"/><path d="M-6.66 6.15 L-7.64 7.1 L-8.97 8.34 L-10 9.24 L-9.02 8.28 L-7.69 7.05Z" fill="rgb(5,5,5)" opacity="0.26"/><path d="M-2.91 3.33 L-3.58 4.13 L-4.49 5.18 L-5.2 5.94 L-4.53 5.14 L-3.61 4.1Z" fill="rgb(5,5,5)" opacity="0.40"/><path d="M1.14 3.28 L1.56 4.38 L2.09 5.85 L2.43 6.97 L2 5.88 L1.5 4.4Z" fill="rgb(5,5,5)" opacity="0.49"/><path d="M2.21 1.02 L3.01 1.36 L4.05 1.83 L4.83 2.22 L4.03 1.89 L2.99 1.4Z" fill="rgb(69,69,69)" opacity="0.42"/><path d="M-3.28 8.5 L-3.7 9.66 L-4.29 11.2 L-4.76 12.35 L-4.35 11.18 L-3.75 9.64Z" fill="rgb(5,5,5)" opacity="0.30"/><path d="M7.57 10.13 L8.09 10.77 L8.75 11.64 L9.21 12.33 L8.69 11.69 L8.03 10.81Z" fill="rgb(69,69,69)" opacity="0.51"/><path d="M4.68 9.63 L4.93 10.07 L5.23 10.67 L5.41 11.14 L5.16 10.7 L4.87 10.1Z" fill="rgb(5,5,5)" opacity="0.18"/><path d="M6.13 2.49 L7.46 3 L9.23 3.71 L10.54 4.28 L9.2 3.77 L7.44 3.05Z" fill="rgb(69,69,69)" opacity="0.66"/><path d="M-1.9 3.3 L-2.45 4.3 L-3.2 5.62 L-3.8 6.59 L-3.25 5.59 L-2.49 4.28Z" fill="rgb(69,69,69)" opacity="0.52"/><path d="M9.68 5.51 L10.21 5.77 L10.9 6.16 L11.39 6.48 L10.87 6.22 L10.18 5.83Z" fill="rgb(5,5,5)" opacity="0.18"/><path d="M11.05 9.58 L11.94 10.3 L13.09 11.29 L13.93 12.07 L13.04 11.35 L11.89 10.35Z" fill="rgb(69,69,69)" opacity="0.50"/><path d="M5.96 11.74 L6.53 12.82 L7.27 14.28 L7.8 15.38 L7.23 14.3 L6.49 12.84Z" fill="rgb(5,5,5)" opacity="0.19"/><path d="M1.72 3.08 L2.04 3.62 L2.46 4.35 L2.74 4.92 L2.42 4.38 L2.01 3.64Z" fill="rgb(5,5,5)" opacity="0.57"/><path d="M2.84 0.78 L3.64 0.98 L4.71 1.27 L5.5 1.51 L4.69 1.32 L3.63 1.02Z" fill="rgb(5,5,5)" opacity="0.66"/><path d="M4.37 6.27 L4.81 6.85 L5.37 7.65 L5.77 8.27 L5.32 7.68 L4.77 6.88Z" fill="rgb(69,69,69)" opacity="0.68"/><path d="M2.29 7.96 L2.68 9.27 L3.19 11.01 L3.54 12.33 L3.15 11.03 L2.65 9.28Z" fill="rgb(5,5,5)" opacity="0.22"/><path d="M-5.98 7.92 L-6.54 8.73 L-7.33 9.79 L-7.96 10.55 L-7.4 9.74 L-6.6 8.69Z" fill="rgb(69,69,69)" opacity="0.54"/><path d="M-1.49 4.49 L-1.83 5.6 L-2.31 7.07 L-2.71 8.16 L-2.37 7.05 L-1.88 5.58Z" fill="rgb(69,69,69)" opacity="0.71"/><path d="M-8.95 4.33 L-9.81 4.78 L-10.98 5.34 L-11.87 5.74 L-11 5.29 L-9.84 4.73Z" fill="rgb(69,69,69)" opacity="0.47"/><path d="M-9.05 6.05 L-9.7 6.51 L-10.57 7.1 L-11.24 7.52 L-10.6 7.06 L-9.72 6.47Z" fill="rgb(69,69,69)" opacity="0.65"/><path d="M4.68 8 L4.95 8.39 L5.27 8.94 L5.48 9.36 L5.22 8.97 L4.9 8.42Z" fill="rgb(69,69,69)" opacity="0.47"/><path d="M3.82 4.99 L4.65 6.04 L5.74 7.45 L6.52 8.53 L5.68 7.49 L4.61 6.07Z" fill="rgb(69,69,69)" opacity="0.75"/><path d="M-5.05 2.15 L-5.81 2.49 L-6.83 2.92 L-7.6 3.23 L-6.85 2.88 L-5.83 2.45Z" fill="rgb(5,5,5)" opacity="0.39"/><path d="M12.65 5.27 L13.11 5.44 L13.72 5.69 L14.16 5.9 L13.7 5.74 L13.09 5.48Z" fill="rgb(5,5,5)" opacity="0.17"/><path d="M-3.47 4.03 L-4.41 5.18 L-5.69 6.69 L-6.7 7.78 L-5.77 6.62 L-4.47 5.13Z" fill="rgb(69,69,69)" opacity="0.68"/><path d="M9.48 3.13 L10.34 3.37 L11.47 3.74 L12.3 4.06 L11.44 3.82 L10.31 3.45Z" fill="rgb(5,5,5)" opacity="0.29"/><path d="M1.05 0.56 L1.55 0.81 L2.22 1.16 L2.7 1.45 L2.19 1.2 L1.53 0.84Z" fill="rgb(69,69,69)" opacity="0.79"/><path d="M3.12 4.78 L3.73 5.67 L4.52 6.87 L5.08 7.79 L4.47 6.91 L3.68 5.7Z" fill="rgb(69,69,69)" opacity="0.54"/><path d="M10.24 4.81 L10.71 5 L11.33 5.29 L11.78 5.54 L11.3 5.35 L10.69 5.06Z" fill="rgb(5,5,5)" opacity="0.21"/><path d="M-0.94 0.64 L-1.77 1.22 L-2.88 1.99 L-3.74 2.53 L-2.92 1.93 L-1.79 1.19Z" fill="rgb(5,5,5)" opacity="0.67"/><path d="M-1.57 9.14 L-1.72 10.2 L-1.96 11.62 L-2.17 12.67 L-2.03 11.61 L-1.78 10.19Z" fill="rgb(5,5,5)" opacity="0.22"/><path d="M-5.82 8.44 L-6.62 9.63 L-7.71 11.21 L-8.54 12.38 L-7.74 11.18 L-6.65 9.61Z" fill="rgb(69,69,69)" opacity="0.58"/><path d="M12.22 5.13 L12.86 5.37 L13.7 5.72 L14.32 6.02 L13.67 5.78 L12.84 5.43Z" fill="rgb(69,69,69)" opacity="0.72"/><path d="M-12.9 5.87 L-13.64 6.23 L-14.64 6.69 L-15.4 7 L-14.66 6.64 L-13.66 6.19Z" fill="rgb(69,69,69)" opacity="0.45"/><path d="M-1.26 3.25 L-1.41 3.71 L-1.64 4.31 L-1.85 4.75 L-1.7 4.29 L-1.46 3.69Z" fill="rgb(5,5,5)" opacity="0.66"/><path d="M0.26 2.16 L0.39 3.08 L0.55 4.31 L0.64 5.24 L0.5 4.32 L0.35 3.09Z" fill="rgb(69,69,69)" opacity="0.75"/><path d="M-5.9 5.67 L-6.56 6.34 L-7.47 7.21 L-8.17 7.84 L-7.51 7.17 L-6.6 6.3Z" fill="rgb(69,69,69)" opacity="0.77"/><path d="M3.09 1.77 L4.28 2.43 L5.86 3.32 L7.02 4.03 L5.82 3.38 L4.26 2.47Z" fill="rgb(5,5,5)" opacity="0.44"/><path d="M-13.68 5.7 L-14.43 6.04 L-15.45 6.47 L-16.23 6.77 L-15.47 6.43 L-14.45 6.01Z" fill="rgb(69,69,69)" opacity="0.53"/><path d="M11.21 9.22 L11.79 9.68 L12.55 10.3 L13.11 10.79 L12.52 10.34 L11.77 9.71Z" fill="rgb(69,69,69)" opacity="0.79"/><path d="M-0.14 2.3 L-0.15 3.08 L-0.21 4.11 L-0.29 4.88 L-0.28 4.11 L-0.21 3.08Z" fill="rgb(5,5,5)" opacity="0.61"/><path d="M4.62 5.16 L5.53 6.13 L6.73 7.44 L7.59 8.46 L6.67 7.5 L5.49 6.17Z" fill="rgb(5,5,5)" opacity="0.26"/><path d="M-2.05 3.96 L-2.64 5.19 L-3.47 6.81 L-4.14 8.01 L-3.56 6.77 L-2.71 5.16Z" fill="rgb(5,5,5)" opacity="0.52"/><path d="M-0.52 0.38 L-0.94 0.71 L-1.5 1.13 L-1.96 1.42 L-1.55 1.07 L-0.96 0.67Z" fill="rgb(69,69,69)" opacity="0.80"/><path d="M-8.32 4.57 L-8.99 4.96 L-9.89 5.46 L-10.58 5.81 L-9.91 5.41 L-9.01 4.92Z" fill="rgb(5,5,5)" opacity="0.35"/><path d="M-0.4 7.45 L-0.4 8.02 L-0.44 8.78 L-0.51 9.35 L-0.51 8.78 L-0.47 8.02Z" fill="rgb(5,5,5)" opacity="0.49"/><path d="M9.18 8 L9.7 8.39 L10.36 8.96 L10.82 9.43 L10.3 9.03 L9.64 8.46Z" fill="rgb(69,69,69)" opacity="0.49"/><path d="M1.32 10.71 L1.49 11.82 L1.68 13.3 L1.78 14.42 L1.61 13.31 L1.43 11.83Z" fill="rgb(5,5,5)" opacity="0.19"/><path d="M-4.25 1.63 L-5.23 2.03 L-6.54 2.55 L-7.55 2.88 L-6.57 2.47 L-5.25 1.97Z" fill="rgb(69,69,69)" opacity="0.62"/><path d="M7.57 5.56 L8.36 6.1 L9.38 6.85 L10.13 7.44 L9.35 6.9 L8.33 6.15Z" fill="rgb(69,69,69)" opacity="0.55"/><path d="M7.45 2.37 L8.35 2.63 L9.54 3 L10.42 3.32 L9.51 3.07 L8.33 2.69Z" fill="rgb(69,69,69)" opacity="0.58"/><path d="M-5.04 6.32 L-5.63 7.11 L-6.44 8.14 L-7.09 8.88 L-6.51 8.08 L-5.69 7.06Z" fill="rgb(5,5,5)" opacity="0.30"/><path d="M8.35 2.29 L9.18 2.5 L10.28 2.8 L11.1 3.05 L10.27 2.85 L9.17 2.54Z" fill="rgb(69,69,69)" opacity="0.54"/><path d="M1.31 4.15 L1.51 4.7 L1.75 5.44 L1.9 6.01 L1.69 5.46 L1.46 4.72Z" fill="rgb(69,69,69)" opacity="0.49"/><path d="M-0.01 10.95 L0.02 11.75 L0.02 12.83 L-0.01 13.63 L-0.05 12.83 L-0.05 11.75Z" fill="rgb(69,69,69)" opacity="0.46"/><path d="M6.97 6.97 L7.8 7.75 L8.88 8.82 L9.66 9.65 L8.82 8.87 L7.75 7.8Z" fill="rgb(5,5,5)" opacity="0.18"/><path d="M-6.64 4.98 L-7.54 5.68 L-8.76 6.59 L-9.68 7.26 L-8.78 6.56 L-7.56 5.65Z" fill="rgb(5,5,5)" opacity="0.40"/><path d="M3.6 12.81 L3.9 13.73 L4.25 14.97 L4.47 15.91 L4.17 14.99 L3.83 13.75Z" fill="rgb(69,69,69)" opacity="0.61"/><path d="M7.31 9.43 L8.2 10.53 L9.36 12.03 L10.2 13.16 L9.31 12.06 L8.15 10.57Z" fill="rgb(69,69,69)" opacity="0.70"/><path d="M13.6 3.93 L14.91 4.29 L16.65 4.79 L17.95 5.18 L16.64 4.82 L14.9 4.32Z" fill="rgb(5,5,5)" opacity="0.19"/><path d="M-4.72 8.16 L-5.24 9.1 L-5.95 10.34 L-6.51 11.25 L-6 10.31 L-5.28 9.07Z" fill="rgb(5,5,5)" opacity="0.20"/><path d="M-8.63 7.32 L-9.57 8.15 L-10.84 9.23 L-11.82 10.02 L-10.89 9.18 L-9.61 8.1Z" fill="rgb(5,5,5)" opacity="0.14"/><path d="M-0.6 0.78 L-1.4 1.84 L-2.47 3.25 L-3.31 4.28 L-2.53 3.21 L-1.43 1.82Z" fill="rgb(5,5,5)" opacity="0.59"/><path d="M0.53 4.34 L0.63 4.91 L0.73 5.67 L0.76 6.25 L0.65 5.68 L0.56 4.92Z" fill="rgb(69,69,69)" opacity="0.54"/><path d="M0.13 1.09 L0.29 2.32 L0.5 3.95 L0.61 5.17 L0.43 3.95 L0.25 2.32Z" fill="rgb(69,69,69)" opacity="0.51"/><path d="M-10.34 3.93 L-11.4 4.37 L-12.84 4.92 L-13.93 5.29 L-12.87 4.84 L-11.43 4.3Z" fill="rgb(69,69,69)" opacity="0.74"/><path d="M-2.03 7.97 L-2.33 9.24 L-2.76 10.93 L-3.11 12.18 L-2.81 10.91 L-2.38 9.23Z" fill="rgb(69,69,69)" opacity="0.54"/><path d="M-13.39 5.56 L-14.61 6.11 L-16.26 6.8 L-17.51 7.28 L-16.29 6.72 L-14.64 6.04Z" fill="rgb(69,69,69)" opacity="0.76"/><path d="M-11.38 7.55 L-12.07 8.03 L-13 8.65 L-13.71 9.1 L-13.02 8.62 L-12.09 8Z" fill="rgb(5,5,5)" opacity="0.10"/><path d="M1.79 1.53 L2.8 2.38 L4.14 3.51 L5.13 4.39 L4.12 3.55 L2.78 2.4Z" fill="rgb(69,69,69)" opacity="0.67"/><path d="M3.16 10.48 L3.36 11.03 L3.59 11.77 L3.72 12.33 L3.52 11.79 L3.3 11.04Z" fill="rgb(5,5,5)" opacity="0.29"/><path d="M8.49 6.31 L9.56 7.06 L10.96 8.1 L11.99 8.91 L10.92 8.15 L9.52 7.11Z" fill="rgb(69,69,69)" opacity="0.64"/><path d="M2.36 2.04 L2.94 2.5 L3.69 3.13 L4.21 3.65 L3.63 3.2 L2.89 2.55Z" fill="rgb(69,69,69)" opacity="0.45"/><path d="M10.47 10.33 L10.9 10.73 L11.45 11.27 L11.86 11.7 L11.43 11.3 L10.87 10.75Z" fill="rgb(5,5,5)" opacity="0.16"/><path d="M3.68 8.61 L4.07 9.48 L4.58 10.66 L4.94 11.55 L4.54 10.68 L4.04 9.5Z" fill="rgb(69,69,69)" opacity="0.59"/><path d="M7.36 2.06 L8.46 2.33 L9.91 2.73 L10.99 3.07 L9.89 2.81 L8.44 2.39Z" fill="rgb(5,5,5)" opacity="0.38"/><path d="M-3.14 1.9 L-3.7 2.26 L-4.45 2.72 L-5.03 3.04 L-4.48 2.67 L-3.72 2.21Z" fill="rgb(69,69,69)" opacity="0.76"/><path d="M-1.11 0.61 L-2.19 1.21 L-3.62 2 L-4.71 2.57 L-3.65 1.96 L-2.2 1.18Z" fill="rgb(69,69,69)" opacity="0.50"/><path d="M-2.16 7.4 L-2.43 8.43 L-2.82 9.8 L-3.16 10.81 L-2.9 9.78 L-2.5 8.41Z" fill="rgb(5,5,5)" opacity="0.29"/><path d="M-0.74 5.97 L-0.78 6.61 L-0.89 7.47 L-1 8.1 L-0.96 7.46 L-0.85 6.6Z" fill="rgb(5,5,5)" opacity="0.36"/><path d="M-1.26 1.03 L-1.91 1.61 L-2.8 2.36 L-3.51 2.87 L-2.86 2.28 L-1.96 1.55Z" fill="rgb(5,5,5)" opacity="0.45"/><path d="M3.35 1.11 L4.24 1.37 L5.4 1.75 L6.27 2.07 L5.38 1.82 L4.22 1.42Z" fill="rgb(5,5,5)" opacity="0.67"/><path d="M-5.71 13.23 L-6.1 14.23 L-6.66 15.54 L-7.12 16.51 L-6.74 15.51 L-6.17 14.2Z" fill="rgb(69,69,69)" opacity="0.65"/><path d="M8.4 12.32 L9.18 13.4 L10.19 14.88 L10.91 16 L10.13 14.92 L9.13 13.44Z" fill="rgb(69,69,69)" opacity="0.69"/><path d="M-11.75 7.65 L-12.94 8.48 L-14.56 9.54 L-15.8 10.29 L-14.61 9.46 L-12.98 8.41Z" fill="rgb(69,69,69)" opacity="0.64"/><path d="M4.16 11.06 L4.65 12.32 L5.29 14.01 L5.74 15.28 L5.25 14.02 L4.61 12.33Z" fill="rgb(69,69,69)" opacity="0.40"/><path d="M7.16 2.09 L8.21 2.35 L9.59 2.75 L10.61 3.09 L9.56 2.83 L8.19 2.42Z" fill="rgb(69,69,69)" opacity="0.53"/><path d="M2.13 4.96 L2.64 6.08 L3.29 7.59 L3.74 8.73 L3.23 7.61 L2.59 6.1Z" fill="rgb(5,5,5)" opacity="0.44"/><path d="M-4.59 13.88 L-4.98 15.13 L-5.52 16.8 L-5.96 18.04 L-5.57 16.78 L-5.02 15.12Z" fill="rgb(5,5,5)" opacity="0.16"/><path d="M-1.77 2.09 L-2.32 2.79 L-3.08 3.7 L-3.69 4.36 L-3.14 3.65 L-2.36 2.75Z" fill="rgb(5,5,5)" opacity="0.59"/><path d="M-0.01 7.15 L0.01 7.64 L0.01 8.29 L-0.02 8.78 L-0.04 8.29 L-0.04 7.64Z" fill="rgb(5,5,5)" opacity="0.45"/><path d="M-11.92 6.05 L-13.12 6.7 L-14.75 7.53 L-16 8.12 L-14.79 7.46 L-13.16 6.63Z" fill="rgb(5,5,5)" opacity="0.13"/><path d="M-3.42 4.74 L-3.93 5.47 L-4.62 6.43 L-5.16 7.14 L-4.65 6.41 L-3.96 5.45Z" fill="rgb(69,69,69)" opacity="0.67"/><path d="M1.11 0.83 L1.63 1.2 L2.31 1.7 L2.8 2.1 L2.28 1.74 L1.61 1.23Z" fill="rgb(5,5,5)" opacity="0.59"/><path d="M-4.85 7.99 L-5.46 9.04 L-6.3 10.43 L-6.96 11.46 L-6.36 10.4 L-5.51 9.01Z" fill="rgb(5,5,5)" opacity="0.31"/><path d="M1.33 9.64 L1.5 10.52 L1.66 11.71 L1.74 12.6 L1.58 11.72 L1.42 10.53Z" fill="rgb(5,5,5)" opacity="0.28"/><path d="M3.97 12.69 L4.16 13.23 L4.39 13.95 L4.54 14.51 L4.34 13.97 L4.11 13.24Z" fill="rgb(69,69,69)" opacity="0.63"/><path d="M6.07 6.66 L6.8 7.4 L7.74 8.42 L8.41 9.22 L7.68 8.48 L6.75 7.45Z" fill="rgb(69,69,69)" opacity="0.67"/><path d="M4.73 5.47 L5.56 6.4 L6.64 7.65 L7.44 8.6 L6.61 7.67 L5.53 6.42Z" fill="rgb(5,5,5)" opacity="0.40"/><path d="M0.98 1.69 L1.51 2.53 L2.19 3.67 L2.65 4.55 L2.12 3.71 L1.46 2.56Z" fill="rgb(5,5,5)" opacity="0.77"/><path d="M-3.03 1.84 L-4 2.45 L-5.31 3.25 L-6.3 3.83 L-5.33 3.21 L-4.02 2.42Z" fill="rgb(69,69,69)" opacity="0.42"/><path d="M3.33 9.03 L3.55 9.55 L3.81 10.25 L3.98 10.78 L3.76 10.26 L3.51 9.56Z" fill="rgb(69,69,69)" opacity="0.52"/><path d="M-0.22 8.98 L-0.22 9.78 L-0.25 10.84 L-0.29 11.63 L-0.29 10.83 L-0.26 9.78Z" fill="rgb(69,69,69)" opacity="0.74"/><path d="M-10.35 9.66 L-10.99 10.28 L-11.87 11.1 L-12.54 11.7 L-11.9 11.07 L-11.02 10.25Z" fill="rgb(5,5,5)" opacity="0.11"/><path d="M-5.62 7.05 L-6.13 7.72 L-6.82 8.59 L-7.36 9.23 L-6.85 8.57 L-6.16 7.7Z" fill="rgb(5,5,5)" opacity="0.25"/><path d="M3.03 1.07 L3.63 1.26 L4.42 1.53 L5 1.77 L4.4 1.59 L3.61 1.3Z" fill="rgb(5,5,5)" opacity="0.71"/><path d="M2.7 2.51 L3.36 3.08 L4.21 3.86 L4.82 4.48 L4.16 3.91 L3.32 3.12Z" fill="rgb(5,5,5)" opacity="0.68"/><path d="M5.22 5.75 L5.65 6.17 L6.19 6.76 L6.56 7.23 L6.12 6.82 L5.59 6.23Z" fill="rgb(5,5,5)" opacity="0.45"/><path d="M7.04 8.88 L7.96 9.98 L9.16 11.48 L10.02 12.63 L9.09 11.53 L7.91 10.03Z" fill="rgb(5,5,5)" opacity="0.17"/><path d="M0.35 1.12 L0.69 2.16 L1.13 3.56 L1.43 4.61 L1.08 3.57 L0.66 2.17Z" fill="rgb(5,5,5)" opacity="0.44"/><path d="M-6.22 9.43 L-6.54 9.95 L-6.99 10.64 L-7.35 11.14 L-7.03 10.61 L-6.58 9.93Z" fill="rgb(69,69,69)" opacity="0.78"/><path d="M1.58 0.48 L2.03 0.6 L2.63 0.78 L3.07 0.94 L2.61 0.83 L2.02 0.64Z" fill="rgb(5,5,5)" opacity="0.66"/><path d="M6.12 4.86 L6.85 5.39 L7.79 6.13 L8.46 6.72 L7.73 6.19 L6.8 5.44Z" fill="rgb(69,69,69)" opacity="0.73"/><path d="M0.42 1.89 L0.56 2.36 L0.7 2.98 L0.77 3.45 L0.64 2.99 L0.5 2.37Z" fill="rgb(69,69,69)" opacity="0.79"/><path d="M-6.89 2.73 L-8.03 3.21 L-9.56 3.82 L-10.72 4.24 L-9.58 3.76 L-8.05 3.16Z" fill="rgb(5,5,5)" opacity="0.32"/><path d="M-0.99 1.11 L-1.68 1.92 L-2.62 2.99 L-3.37 3.76 L-2.69 2.93 L-1.73 1.89Z" fill="rgb(5,5,5)" opacity="0.53"/><path d="M-2.59 1.47 L-3.76 2.16 L-5.34 3.07 L-6.54 3.71 L-5.37 3.01 L-3.78 2.12Z" fill="rgb(5,5,5)" opacity="0.41"/><path d="M-0.87 1.07 L-1.79 2.24 L-3.02 3.8 L-3.98 4.94 L-3.07 3.76 L-1.81 2.22Z" fill="rgb(69,69,69)" opacity="0.46"/><path d="M-2.33 14.41 L-2.45 15.26 L-2.63 16.38 L-2.78 17.21 L-2.66 16.37 L-2.48 15.25Z" fill="rgb(69,69,69)" opacity="0.64"/><path d="M-0.39 0.88 L-0.83 1.96 L-1.44 3.39 L-1.94 4.44 L-1.51 3.36 L-0.87 1.94Z" fill="rgb(5,5,5)" opacity="0.79"/><path d="M3.35 11.03 L3.73 12.2 L4.2 13.77 L4.54 14.95 L4.16 13.78 L3.69 12.21Z" fill="rgb(5,5,5)" opacity="0.20"/><path d="M6.15 6.5 L7.03 7.37 L8.16 8.56 L8.98 9.48 L8.1 8.61 L6.97 7.42Z" fill="rgb(5,5,5)" opacity="0.23"/><path d="M12.74 3.7 L13.28 3.83 L13.98 4.03 L14.5 4.21 L13.96 4.08 L13.26 3.88Z" fill="rgb(69,69,69)" opacity="0.61"/><path d="M-5.49 4.04 L-6.14 4.55 L-7.02 5.21 L-7.7 5.67 L-7.06 5.15 L-6.17 4.5Z" fill="rgb(69,69,69)" opacity="0.44"/><path d="M-13.14 3.36 L-13.96 3.61 L-15.06 3.89 L-15.89 4.07 L-15.08 3.82 L-13.98 3.54Z" fill="rgb(69,69,69)" opacity="0.43"/><path d="M0.92 9.67 L1.07 11.08 L1.26 12.97 L1.37 14.39 L1.2 12.98 L1.03 11.09Z" fill="rgb(5,5,5)" opacity="0.31"/><path d="M-2.82 8.3 L-2.97 8.82 L-3.2 9.51 L-3.41 10.01 L-3.27 9.48 L-3.03 8.8Z" fill="rgb(5,5,5)" opacity="0.41"/><path d="M1.5 5.02 L1.69 5.58 L1.92 6.34 L2.07 6.92 L1.86 6.36 L1.64 5.6Z" fill="rgb(5,5,5)" opacity="0.33"/><path d="M-5.71 11.6 L-6.15 12.59 L-6.79 13.88 L-7.31 14.83 L-6.87 13.84 L-6.23 12.55Z" fill="rgb(69,69,69)" opacity="0.60"/><path d="M-6.13 7.55 L-7.03 8.7 L-8.26 10.22 L-9.22 11.34 L-8.32 10.18 L-7.08 8.66Z" fill="rgb(5,5,5)" opacity="0.27"/><path d="M-8.76 8.97 L-9.54 9.82 L-10.61 10.93 L-11.45 11.73 L-10.67 10.87 L-9.59 9.77Z" fill="rgb(5,5,5)" opacity="0.11"/><path d="M8.42 9.75 L8.74 10.07 L9.14 10.53 L9.41 10.9 L9.08 10.58 L8.69 10.12Z" fill="rgb(5,5,5)" opacity="0.16"/><path d="M-0.78 1.59 L-1.19 2.51 L-1.76 3.72 L-2.24 4.6 L-1.85 3.68 L-1.24 2.48Z" fill="rgb(5,5,5)" opacity="0.41"/><path d="M1.2 5.38 L1.54 6.72 L1.95 8.53 L2.21 9.89 L1.86 8.55 L1.47 6.74Z" fill="rgb(69,69,69)" opacity="0.51"/><path d="M-6.32 2.14 L-6.9 2.38 L-7.69 2.65 L-8.3 2.81 L-7.71 2.57 L-6.92 2.31Z" fill="rgb(5,5,5)" opacity="0.42"/><path d="M-2.02 1.08 L-2.58 1.4 L-3.34 1.82 L-3.93 2.1 L-3.37 1.77 L-2.6 1.37Z" fill="rgb(69,69,69)" opacity="0.53"/><path d="M0.94 7.81 L1.07 8.69 L1.22 9.86 L1.29 10.75 L1.15 9.87 L1.01 8.7Z" fill="rgb(69,69,69)" opacity="0.56"/><path d="M0.3 0.65 L0.82 1.67 L1.49 3.05 L1.93 4.11 L1.39 3.09 L0.77 1.7Z" fill="rgb(5,5,5)" opacity="0.79"/><path d="M-2.26 4.32 L-2.49 4.8 L-2.82 5.43 L-3.09 5.9 L-2.86 5.41 L-2.53 4.78Z" fill="rgb(5,5,5)" opacity="0.50"/><path d="M-10.31 3.87 L-11.55 4.37 L-13.21 5 L-14.48 5.43 L-13.24 4.93 L-11.57 4.31Z" fill="rgb(69,69,69)" opacity="0.53"/><path d="M-3.84 1.51 L-5.21 2.09 L-7.05 2.82 L-8.45 3.33 L-7.08 2.74 L-5.24 2.02Z" fill="rgb(69,69,69)" opacity="0.74"/><path d="M-2.96 0.94 L-3.75 1.21 L-4.82 1.56 L-5.63 1.79 L-4.84 1.51 L-3.77 1.18Z" fill="rgb(5,5,5)" opacity="0.66"/><path d="M6.2 6.95 L6.98 7.76 L7.98 8.87 L8.7 9.74 L7.91 8.93 L6.92 7.81Z" fill="rgb(5,5,5)" opacity="0.30"/><path d="M0.49 0.11 L1.38 0.3 L2.56 0.56 L3.43 0.8 L2.54 0.64 L1.37 0.34Z" fill="rgb(5,5,5)" opacity="0.45"/><path d="M-0.97 8.15 L-1.06 9.25 L-1.23 10.71 L-1.4 11.8 L-1.31 10.7 L-1.13 9.24Z" fill="rgb(69,69,69)" opacity="0.78"/><path d="M-9.65 8.68 L-10.41 9.41 L-11.46 10.36 L-12.27 11.04 L-11.51 10.3 L-10.46 9.36Z" fill="rgb(5,5,5)" opacity="0.18"/><path d="M5.35 3.61 L5.91 3.96 L6.64 4.45 L7.17 4.84 L6.61 4.5 L5.88 4.01Z" fill="rgb(69,69,69)" opacity="0.62"/><path d="M6.75 12.37 L7.01 12.8 L7.33 13.38 L7.55 13.83 L7.29 13.4 L6.97 12.82Z" fill="rgb(69,69,69)" opacity="0.55"/><path d="M-0.23 0.59 L-0.46 1.2 L-0.76 2 L-1.03 2.59 L-0.82 1.98 L-0.49 1.18Z" fill="rgb(5,5,5)" opacity="0.52"/><path d="M0.41 0.31 L1.37 1.01 L2.65 1.96 L3.58 2.7 L2.61 2.01 L1.35 1.04Z" fill="rgb(5,5,5)" opacity="0.49"/><path d="M3.01 1.35 L3.58 1.56 L4.33 1.89 L4.87 2.18 L4.29 1.97 L3.55 1.63Z" fill="rgb(5,5,5)" opacity="0.67"/><path d="M-2.1 13.65 L-2.28 15.04 L-2.56 16.89 L-2.81 18.26 L-2.64 16.87 L-2.35 15.03Z" fill="rgb(5,5,5)" opacity="0.19"/><path d="M-9.95 7.6 L-10.41 8 L-11.06 8.5 L-11.57 8.84 L-11.11 8.44 L-10.46 7.95Z" fill="rgb(69,69,69)" opacity="0.56"/><path d="M-1.24 1.83 L-1.77 2.68 L-2.51 3.79 L-3.12 4.6 L-2.59 3.74 L-1.83 2.64Z" fill="rgb(69,69,69)" opacity="0.47"/><path d="M3.07 2.87 L3.49 3.24 L4.03 3.74 L4.43 4.14 L4.01 3.77 L3.46 3.26Z" fill="rgb(5,5,5)" opacity="0.69"/><path d="M4.24 7.7 L4.85 8.73 L5.63 10.12 L6.17 11.18 L5.55 10.16 L4.79 8.76Z" fill="rgb(5,5,5)" opacity="0.31"/><path d="M-11.94 9.07 L-12.86 9.8 L-14.1 10.75 L-15.05 11.43 L-14.14 10.7 L-12.89 9.76Z" fill="rgb(5,5,5)" opacity="0.19"/><path d="M-1.79 6.26 L-1.92 6.86 L-2.14 7.65 L-2.35 8.23 L-2.23 7.63 L-2 6.84Z" fill="rgb(5,5,5)" opacity="0.47"/><path d="M-7.67 8.28 L-8.63 9.36 L-9.93 10.78 L-10.94 11.81 L-9.99 10.72 L-8.68 9.31Z" fill="rgb(69,69,69)" opacity="0.43"/><path d="M0.45 1.07 L0.82 1.89 L1.29 3 L1.61 3.84 L1.23 3.02 L0.78 1.91Z" fill="rgb(5,5,5)" opacity="0.70"/><path d="M-7.02 4.52 L-7.95 5.15 L-9.22 5.97 L-10.19 6.57 L-9.25 5.93 L-7.98 5.12Z" fill="rgb(5,5,5)" opacity="0.22"/><path d="M5.26 7.34 L6.11 8.47 L7.22 10 L8 11.17 L7.14 10.05 L6.05 8.51Z" fill="rgb(69,69,69)" opacity="0.42"/><path d="M4.29 9.43 L4.82 10.53 L5.51 12.02 L5.99 13.15 L5.45 12.05 L4.78 10.55Z" fill="rgb(69,69,69)" opacity="0.72"/><path d="M1.21 4.27 L1.4 4.81 L1.61 5.54 L1.73 6.1 L1.53 5.56 L1.33 4.83Z" fill="rgb(69,69,69)" opacity="0.77"/><path d="M5.39 4.25 L5.93 4.66 L6.64 5.21 L7.16 5.65 L6.61 5.24 L5.91 4.68Z" fill="rgb(5,5,5)" opacity="0.47"/><path d="M-5.83 3.1 L-6.57 3.52 L-7.55 4.05 L-8.31 4.42 L-7.59 3.99 L-6.59 3.47Z" fill="rgb(5,5,5)" opacity="0.39"/><path d="M1.85 3.21 L2.48 4.25 L3.3 5.66 L3.88 6.73 L3.24 5.69 L2.43 4.28Z" fill="rgb(5,5,5)" opacity="0.54"/><path d="M12.82 7.04 L13.24 7.23 L13.79 7.53 L14.18 7.78 L13.75 7.59 L13.21 7.29Z" fill="rgb(5,5,5)" opacity="0.16"/><path d="M-4.4 5.24 L-4.95 5.93 L-5.71 6.84 L-6.31 7.5 L-5.76 6.8 L-4.99 5.9Z" fill="rgb(5,5,5)" opacity="0.34"/><path d="M-0.13 1.05 L-0.22 1.85 L-0.34 2.9 L-0.47 3.69 L-0.4 2.9 L-0.25 1.84Z" fill="rgb(69,69,69)" opacity="0.46"/><path d="M-2.78 4.57 L-3.24 5.38 L-3.89 6.45 L-4.4 7.23 L-3.94 6.42 L-3.29 5.35Z" fill="rgb(5,5,5)" opacity="0.50"/><path d="M-0.43 6.54 L-0.46 7.53 L-0.54 8.85 L-0.64 9.84 L-0.62 8.85 L-0.52 7.53Z" fill="rgb(69,69,69)" opacity="0.79"/><path d="M9.29 8.71 L9.74 9.11 L10.33 9.65 L10.75 10.08 L10.29 9.69 L9.71 9.14Z" fill="rgb(5,5,5)" opacity="0.20"/><path d="M-1.6 12.17 L-1.72 13.24 L-1.91 14.67 L-2.06 15.74 L-1.94 14.67 L-1.75 13.24Z" fill="rgb(5,5,5)" opacity="0.19"/><path d="M-3.84 11.65 L-4.01 12.29 L-4.29 13.14 L-4.53 13.76 L-4.36 13.11 L-4.08 12.27Z" fill="rgb(5,5,5)" opacity="0.16"/><path d="M1.83 1.33 L2.37 1.68 L3.06 2.17 L3.56 2.57 L3.02 2.23 L2.33 1.72Z" fill="rgb(5,5,5)" opacity="0.41"/><path d="M1.67 3.25 L2.16 4.13 L2.77 5.31 L3.2 6.21 L2.71 5.34 L2.11 4.15Z" fill="rgb(5,5,5)" opacity="0.49"/><path d="M3.3 3.59 L4.3 4.64 L5.61 6.05 L6.56 7.14 L5.56 6.09 L4.26 4.67Z" fill="rgb(69,69,69)" opacity="0.53"/><path d="M9.68 4.09 L10.42 4.38 L11.39 4.78 L12.11 5.11 L11.37 4.82 L10.4 4.41Z" fill="rgb(5,5,5)" opacity="0.28"/><path d="M-4.7 3.29 L-5.75 4.06 L-7.17 5.07 L-8.26 5.79 L-7.22 5.01 L-5.79 4.01Z" fill="rgb(5,5,5)" opacity="0.44"/><path d="M-6 5.12 L-6.89 5.93 L-8.11 6.98 L-9.05 7.72 L-8.17 6.9 L-6.94 5.87Z" fill="rgb(69,69,69)" opacity="0.46"/><path d="M8.38 6.82 L8.85 7.17 L9.46 7.66 L9.89 8.06 L9.42 7.71 L8.81 7.22Z" fill="rgb(5,5,5)" opacity="0.24"/><path d="M0.21 1.79 L0.4 3.26 L0.64 5.23 L0.78 6.7 L0.57 5.23 L0.36 3.27Z" fill="rgb(5,5,5)" opacity="0.49"/><path d="M6 2.48 L7.06 2.88 L8.45 3.45 L9.48 3.92 L8.42 3.53 L7.03 2.95Z" fill="rgb(5,5,5)" opacity="0.39"/><path d="M8.31 6.67 L8.96 7.16 L9.81 7.83 L10.42 8.37 L9.77 7.88 L8.93 7.2Z" fill="rgb(5,5,5)" opacity="0.24"/><path d="M2.91 5.77 L3.54 6.94 L4.34 8.5 L4.89 9.7 L4.26 8.54 L3.47 6.97Z" fill="rgb(69,69,69)" opacity="0.71"/><path d="M-4.43 3.64 L-5.38 4.44 L-6.67 5.5 L-7.64 6.27 L-6.69 5.46 L-5.41 4.41Z" fill="rgb(5,5,5)" opacity="0.34"/><path d="M7.07 5.13 L7.91 5.69 L9.01 6.48 L9.8 7.11 L8.95 6.55 L7.86 5.76Z" fill="rgb(69,69,69)" opacity="0.78"/><path d="M4.56 6.09 L5.16 6.83 L5.92 7.84 L6.46 8.63 L5.86 7.89 L5.1 6.88Z" fill="rgb(69,69,69)" opacity="0.49"/><path d="M-4.04 9.84 L-4.55 11.17 L-5.26 12.93 L-5.84 14.23 L-5.33 12.9 L-4.61 11.15Z" fill="rgb(69,69,69)" opacity="0.74"/><path d="M11.46 3.49 L12.2 3.68 L13.17 3.97 L13.89 4.24 L13.15 4.05 L12.18 3.75Z" fill="rgb(69,69,69)" opacity="0.63"/><path d="M4.47 6.95 L4.92 7.59 L5.5 8.48 L5.9 9.16 L5.44 8.52 L4.87 7.63Z" fill="rgb(5,5,5)" opacity="0.33"/><path d="M-1.68 2.72 L-2.41 3.98 L-3.41 5.63 L-4.22 6.84 L-3.5 5.58 L-2.47 3.94Z" fill="rgb(69,69,69)" opacity="0.47"/><path d="M1.72 12.27 L1.91 13.32 L2.11 14.72 L2.21 15.78 L2.02 14.74 L1.82 13.33Z" fill="rgb(69,69,69)" opacity="0.56"/><path d="M-8.96 7.52 L-9.48 7.99 L-10.18 8.58 L-10.73 9.01 L-10.22 8.55 L-9.51 7.95Z" fill="rgb(5,5,5)" opacity="0.16"/><path d="M-5.53 11.72 L-5.82 12.38 L-6.23 13.25 L-6.56 13.89 L-6.27 13.23 L-5.86 12.36Z" fill="rgb(5,5,5)" opacity="0.19"/><path d="M-3.88 9.6 L-4.25 10.63 L-4.8 11.99 L-5.25 12.99 L-4.87 11.96 L-4.32 10.6Z" fill="rgb(5,5,5)" opacity="0.17"/><path d="M1.33 2.38 L1.98 3.53 L2.84 5.06 L3.46 6.22 L2.8 5.08 L1.95 3.54Z" fill="rgb(69,69,69)" opacity="0.60"/><path d="M4.22 3.65 L4.88 4.2 L5.75 4.95 L6.38 5.53 L5.72 4.98 L4.85 4.23Z" fill="rgb(5,5,5)" opacity="0.39"/><path d="M-0.31 0.61 L-0.63 1.25 L-1.06 2.1 L-1.41 2.72 L-1.11 2.07 L-0.66 1.23Z" fill="rgb(69,69,69)" opacity="0.48"/></g>
<ellipse cx="-2.45" cy="0.6" rx="1.1" ry="1" fill="url(#gw)" opacity="0.212"/>
<ellipse cx="2.13" cy="0.6" rx="1.15" ry="1" fill="url(#gw)" opacity="0.199"/>
<ellipse cx="-2.48" cy="1.2" rx="1.1" ry="1" fill="url(#gw)" opacity="0.212"/>
<ellipse cx="2.26" cy="1.2" rx="1.15" ry="1" fill="url(#gw)" opacity="0.199"/>
<ellipse cx="-2.52" cy="1.8" rx="1.1" ry="1" fill="url(#gw)" opacity="0.212"/>
<ellipse cx="2.45" cy="1.8" rx="1.15" ry="1" fill="url(#gw)" opacity="0.199"/>
<ellipse cx="-2.56" cy="2.4" rx="1.1" ry="1" fill="url(#gw)" opacity="0.212"/>
<ellipse cx="2.6" cy="2.4" rx="1.15" ry="1" fill="url(#gw)" opacity="0.199"/>
<ellipse cx="-2.6" cy="3" rx="1.1" ry="1" fill="url(#gw)" opacity="0.212"/>
<ellipse cx="2.65" cy="3" rx="1.15" ry="1" fill="url(#gw)" opacity="0.199"/>
<ellipse cx="-2.64" cy="3.6" rx="1.1" ry="1" fill="url(#gw)" opacity="0.212"/>
<ellipse cx="2.7" cy="3.6" rx="1.15" ry="1" fill="url(#gw)" opacity="0.199"/>
<ellipse cx="-2.57" cy="4.2" rx="1.45" ry="1" fill="url(#gw)" opacity="0.212"/>
<ellipse cx="2.73" cy="4.2" rx="1.15" ry="1" fill="url(#gw)" opacity="0.199"/>
<ellipse cx="-2.61" cy="4.8" rx="1.45" ry="1" fill="url(#gw)" opacity="0.212"/>
<ellipse cx="2.76" cy="4.8" rx="1.15" ry="1" fill="url(#gw)" opacity="0.199"/>
<ellipse cx="-2.63" cy="5.4" rx="1.45" ry="1" fill="url(#gw)" opacity="0.212"/>
<ellipse cx="2.78" cy="5.4" rx="1.15" ry="1" fill="url(#gw)" opacity="0.199"/>
<ellipse cx="-2.65" cy="6" rx="1.45" ry="1" fill="url(#gw)" opacity="0.212"/>
<ellipse cx="2.81" cy="6" rx="1.15" ry="1" fill="url(#gw)" opacity="0.199"/>
<ellipse cx="-2.66" cy="6.6" rx="1.45" ry="1" fill="url(#gw)" opacity="0.212"/>
<ellipse cx="2.84" cy="6.6" rx="1.15" ry="1" fill="url(#gw)" opacity="0.199"/>
<ellipse cx="-2.68" cy="7.2" rx="1.45" ry="1" fill="url(#gw)" opacity="0.212"/>
<ellipse cx="2.87" cy="7.2" rx="1.15" ry="1" fill="url(#gw)" opacity="0.199"/>
<ellipse cx="-2.7" cy="7.8" rx="1.45" ry="1" fill="url(#gw)" opacity="0.212"/>
<ellipse cx="2.89" cy="7.8" rx="1.15" ry="1" fill="url(#gw)" opacity="0.199"/>
<ellipse cx="-2.71" cy="8.4" rx="1.45" ry="1" fill="url(#gw)" opacity="0.212"/>
<ellipse cx="2.91" cy="8.4" rx="1.15" ry="1" fill="url(#gw)" opacity="0.199"/>
<ellipse cx="-2.73" cy="9" rx="1.45" ry="1" fill="url(#gw)" opacity="0.212"/>
<ellipse cx="2.93" cy="9" rx="1.15" ry="1" fill="url(#gw)" opacity="0.199"/>
<ellipse cx="-2.73" cy="9.6" rx="1.45" ry="1" fill="url(#gw)" opacity="0.212"/>
<ellipse cx="2.96" cy="9.6" rx="1.15" ry="1" fill="url(#gw)" opacity="0.199"/>
<ellipse cx="-2.74" cy="10.2" rx="1.45" ry="1" fill="url(#gw)" opacity="0.212"/>
<ellipse cx="2.98" cy="10.2" rx="1.15" ry="1" fill="url(#gw)" opacity="0.199"/>
<ellipse cx="-2.74" cy="10.8" rx="1.45" ry="1" fill="url(#gw)" opacity="0.212"/>
<ellipse cx="2.99" cy="10.8" rx="1.15" ry="1" fill="url(#gw)" opacity="0.199"/>
<ellipse cx="-2.75" cy="11.4" rx="1.45" ry="1" fill="url(#gw)" opacity="0.212"/>
<ellipse cx="3.01" cy="11.4" rx="1.15" ry="1" fill="url(#gw)" opacity="0.199"/>
<ellipse cx="-2.75" cy="12" rx="1.45" ry="1" fill="url(#gw)" opacity="0.212"/>
<ellipse cx="3.02" cy="12" rx="1.15" ry="1" fill="url(#gw)" opacity="0.199"/>
<ellipse cx="-2.76" cy="12.6" rx="1.45" ry="1" fill="url(#gw)" opacity="0.212"/>
<ellipse cx="3.04" cy="12.6" rx="1.15" ry="1" fill="url(#gw)" opacity="0.199"/>
<ellipse cx="-2.76" cy="13.2" rx="1.45" ry="1" fill="url(#gw)" opacity="0.212"/>
<ellipse cx="3.01" cy="13.2" rx="1.15" ry="1" fill="url(#gw)" opacity="0.199"/>
<ellipse cx="-2.77" cy="13.8" rx="1.45" ry="1" fill="url(#gw)" opacity="0.212"/>
<ellipse cx="2.96" cy="13.8" rx="1.15" ry="1" fill="url(#gw)" opacity="0.199"/>
<ellipse cx="-2.77" cy="14.4" rx="1.45" ry="1" fill="url(#gw)" opacity="0.212"/>
<ellipse cx="2.92" cy="14.4" rx="1.15" ry="1" fill="url(#gw)" opacity="0.199"/>
<ellipse cx="-2.76" cy="15" rx="1.45" ry="1" fill="url(#gw)" opacity="0.212"/>
<ellipse cx="2.88" cy="15" rx="1.15" ry="1" fill="url(#gw)" opacity="0.199"/>
<ellipse cx="-2.75" cy="15.6" rx="1.45" ry="1" fill="url(#gw)" opacity="0.212"/>
<ellipse cx="2.88" cy="15.6" rx="1.15" ry="1" fill="url(#gw)" opacity="0.199"/>
<ellipse cx="-2.75" cy="16.2" rx="1.45" ry="1" fill="url(#gw)" opacity="0.212"/>
<ellipse cx="2.88" cy="16.2" rx="1.15" ry="1" fill="url(#gw)" opacity="0.199"/>
<ellipse cx="-2.35" cy="1.15" rx="0.75" ry="0.7" fill="url(#gw)" opacity="0.171" transform="rotate(-35 -2.35 1.15)"/>
<ellipse cx="-2.45" cy="0.8" rx="0.45" ry="0.75" fill="url(#gw)" opacity="0.094" transform="rotate(71.92 -2.45 0.8)"/>
<ellipse cx="2.05" cy="0.8" rx="0.5" ry="0.75" fill="url(#gw)" opacity="0.094" transform="rotate(-68.68 2.05 0.8)"/>
<ellipse cx="-2.48" cy="1.25" rx="0.45" ry="0.75" fill="url(#gw)" opacity="0.094" transform="rotate(63.26 -2.48 1.25)"/>
<ellipse cx="2.19" cy="1.25" rx="0.5" ry="0.75" fill="url(#gw)" opacity="0.094" transform="rotate(-60.34 2.19 1.25)"/>
<ellipse cx="-2.51" cy="1.7" rx="0.45" ry="0.75" fill="url(#gw)" opacity="0.094" transform="rotate(55.91 -2.51 1.7)"/>
<ellipse cx="2.34" cy="1.7" rx="0.5" ry="0.75" fill="url(#gw)" opacity="0.094" transform="rotate(-53.99 2.34 1.7)"/>
<ellipse cx="-2.54" cy="2.15" rx="0.45" ry="0.75" fill="url(#gw)" opacity="0.094" transform="rotate(49.78 -2.54 2.15)"/>
<ellipse cx="2.48" cy="2.15" rx="0.5" ry="0.75" fill="url(#gw)" opacity="0.094" transform="rotate(-49.12 2.48 2.15)"/>
<ellipse cx="-2.57" cy="2.6" rx="0.45" ry="0.75" fill="url(#gw)" opacity="0.094" transform="rotate(44.7 -2.57 2.6)"/>
<ellipse cx="2.54" cy="2.6" rx="0.5" ry="0.75" fill="url(#gw)" opacity="0.094" transform="rotate(-44.3 2.54 2.6)"/>
<ellipse cx="-2.6" cy="3.05" rx="0.45" ry="0.75" fill="url(#gw)" opacity="0.094" transform="rotate(40.48 -2.6 3.05)"/>
<ellipse cx="2.58" cy="3.05" rx="0.5" ry="0.75" fill="url(#gw)" opacity="0.094" transform="rotate(-40.21 2.58 3.05)"/>
<ellipse cx="-2.63" cy="3.5" rx="0.45" ry="0.75" fill="url(#gw)" opacity="0.094" transform="rotate(36.92 -2.63 3.5)"/>
<ellipse cx="2.62" cy="3.5" rx="0.5" ry="0.75" fill="url(#gw)" opacity="0.094" transform="rotate(-36.82 2.62 3.5)"/>
<ellipse cx="-2.66" cy="3.95" rx="0.45" ry="0.75" fill="url(#gw)" opacity="0.141" transform="rotate(33.93 -2.66 3.95)"/>
<ellipse cx="2.64" cy="3.95" rx="0.5" ry="0.75" fill="url(#gw)" opacity="0.094" transform="rotate(-33.75 2.64 3.95)"/>
<ellipse cx="-2.68" cy="4.4" rx="0.45" ry="0.75" fill="url(#gw)" opacity="0.141" transform="rotate(31.38 -2.68 4.4)"/>
<ellipse cx="2.66" cy="4.4" rx="0.5" ry="0.75" fill="url(#gw)" opacity="0.219" transform="rotate(-31.15 2.66 4.4)"/>
<ellipse cx="-2.71" cy="4.85" rx="0.45" ry="0.75" fill="url(#gw)" opacity="0.141" transform="rotate(29.2 -2.71 4.85)"/>
<ellipse cx="2.68" cy="4.85" rx="0.5" ry="0.75" fill="url(#gw)" opacity="0.313" transform="rotate(-28.91 2.68 4.85)"/>
<ellipse cx="-2.73" cy="5.3" rx="0.45" ry="0.75" fill="url(#gw)" opacity="0.141" transform="rotate(27.24 -2.73 5.3)"/>
<ellipse cx="2.7" cy="5.3" rx="0.5" ry="0.75" fill="url(#gw)" opacity="0.313" transform="rotate(-26.98 2.7 5.3)"/>
<ellipse cx="-2.74" cy="5.75" rx="0.45" ry="0.75" fill="url(#gw)" opacity="0.141" transform="rotate(25.48 -2.74 5.75)"/>
<ellipse cx="2.72" cy="5.75" rx="0.5" ry="0.75" fill="url(#gw)" opacity="0.313" transform="rotate(-25.3 2.72 5.75)"/>
<ellipse cx="-2.75" cy="6.2" rx="0.45" ry="0.75" fill="url(#gw)" opacity="0.141" transform="rotate(23.94 -2.75 6.2)"/>
<ellipse cx="2.74" cy="6.2" rx="0.5" ry="0.75" fill="url(#gw)" opacity="0.313" transform="rotate(-23.83 2.74 6.2)"/>
<ellipse cx="-2.77" cy="6.65" rx="0.45" ry="0.75" fill="url(#gw)" opacity="0.141" transform="rotate(22.58 -2.77 6.65)"/>
<ellipse cx="2.76" cy="6.65" rx="0.5" ry="0.75" fill="url(#gw)" opacity="0.313" transform="rotate(-22.54 2.76 6.65)"/>
<ellipse cx="-2.78" cy="7.1" rx="0.45" ry="0.75" fill="url(#gw)" opacity="0.141" transform="rotate(21.37 -2.78 7.1)"/>
<ellipse cx="2.78" cy="7.1" rx="0.5" ry="0.75" fill="url(#gw)" opacity="0.313" transform="rotate(-21.39 2.78 7.1)"/>
<ellipse cx="-2.79" cy="7.55" rx="0.45" ry="0.75" fill="url(#gw)" opacity="0.141" transform="rotate(20.28 -2.79 7.55)"/>
<ellipse cx="2.8" cy="7.55" rx="0.5" ry="0.75" fill="url(#gw)" opacity="0.313" transform="rotate(-20.36 2.8 7.55)"/>
<ellipse cx="-2.8" cy="8" rx="0.45" ry="0.75" fill="url(#gw)" opacity="0.141" transform="rotate(19.31 -2.8 8)"/>
<ellipse cx="2.82" cy="8" rx="0.5" ry="0.75" fill="url(#gw)" opacity="0.313" transform="rotate(-19.4 2.82 8)"/>
<ellipse cx="-2.81" cy="8.45" rx="0.45" ry="0.75" fill="url(#gw)" opacity="0.141" transform="rotate(18.42 -2.81 8.45)"/>
<ellipse cx="2.83" cy="8.45" rx="0.5" ry="0.75" fill="url(#gw)" opacity="0.313" transform="rotate(-18.54 2.83 8.45)"/>
<ellipse cx="-2.83" cy="8.9" rx="0.45" ry="0.75" fill="url(#gw)" opacity="0.141" transform="rotate(17.62 -2.83 8.9)"/>
<ellipse cx="2.85" cy="8.9" rx="0.5" ry="0.75" fill="url(#gw)" opacity="0.313" transform="rotate(-17.76 2.85 8.9)"/>
<ellipse cx="-2.83" cy="9.35" rx="0.45" ry="0.75" fill="url(#gw)" opacity="0.141" transform="rotate(16.86 -2.83 9.35)"/>
<ellipse cx="2.87" cy="9.35" rx="0.5" ry="0.75" fill="url(#gw)" opacity="0.313" transform="rotate(-17.04 2.87 9.35)"/>
<ellipse cx="-2.84" cy="9.8" rx="0.45" ry="0.75" fill="url(#gw)" opacity="0.141" transform="rotate(16.14 -2.84 9.8)"/>
<ellipse cx="2.88" cy="9.8" rx="0.5" ry="0.75" fill="url(#gw)" opacity="0.313" transform="rotate(-16.39 2.88 9.8)"/>
<ellipse cx="-2.84" cy="10.25" rx="0.45" ry="0.75" fill="url(#gw)" opacity="0.141" transform="rotate(15.49 -2.84 10.25)"/>
<ellipse cx="2.9" cy="10.25" rx="0.5" ry="0.75" fill="url(#gw)" opacity="0.313" transform="rotate(-15.79 2.9 10.25)"/>
<ellipse cx="-2.84" cy="10.7" rx="0.45" ry="0.75" fill="url(#gw)" opacity="0.141" transform="rotate(14.88 -2.84 10.7)"/>
<ellipse cx="2.91" cy="10.7" rx="0.5" ry="0.75" fill="url(#gw)" opacity="0.313" transform="rotate(-15.21 2.91 10.7)"/>
<ellipse cx="-2.85" cy="11.15" rx="0.45" ry="0.75" fill="url(#gw)" opacity="0.141" transform="rotate(14.32 -2.85 11.15)"/>
<ellipse cx="2.92" cy="11.15" rx="0.5" ry="0.75" fill="url(#gw)" opacity="0.313" transform="rotate(-14.68 2.92 11.15)"/>
<ellipse cx="-2.85" cy="11.6" rx="0.45" ry="0.75" fill="url(#gw)" opacity="0.141" transform="rotate(13.81 -2.85 11.6)"/>
<ellipse cx="2.93" cy="11.6" rx="0.5" ry="0.75" fill="url(#gw)" opacity="0.313" transform="rotate(-14.19 2.93 11.6)"/>
<ellipse cx="-2.85" cy="12.05" rx="0.45" ry="0.75" fill="url(#gw)" opacity="0.141" transform="rotate(13.33 -2.85 12.05)"/>
<ellipse cx="2.94" cy="12.05" rx="0.5" ry="0.75" fill="url(#gw)" opacity="0.313" transform="rotate(-13.73 2.94 12.05)"/>
<ellipse cx="-2.86" cy="12.5" rx="0.45" ry="0.75" fill="url(#gw)" opacity="0.141" transform="rotate(12.88 -2.86 12.5)"/>
<ellipse cx="2.95" cy="12.5" rx="0.5" ry="0.75" fill="url(#gw)" opacity="0.313" transform="rotate(-13.3 2.95 12.5)"/>
<ellipse cx="-2.86" cy="12.95" rx="0.45" ry="0.75" fill="url(#gw)" opacity="0.141" transform="rotate(12.46 -2.86 12.95)"/>
<ellipse cx="2.94" cy="12.95" rx="0.5" ry="0.75" fill="url(#gw)" opacity="0.313" transform="rotate(-12.8 2.94 12.95)"/>
<ellipse cx="-2.87" cy="13.4" rx="0.45" ry="0.75" fill="url(#gw)" opacity="0.141" transform="rotate(12.07 -2.87 13.4)"/>
<ellipse cx="2.91" cy="13.4" rx="0.5" ry="0.75" fill="url(#gw)" opacity="0.313" transform="rotate(-12.26 2.91 13.4)"/>
<ellipse cx="-2.87" cy="13.85" rx="0.45" ry="0.75" fill="url(#gw)" opacity="0.141" transform="rotate(11.7 -2.87 13.85)"/>
<ellipse cx="2.88" cy="13.85" rx="0.5" ry="0.75" fill="url(#gw)" opacity="0.219" transform="rotate(-11.75 2.88 13.85)"/>
<ellipse cx="-2.87" cy="14.3" rx="0.45" ry="0.75" fill="url(#gw)" opacity="0.141" transform="rotate(11.34 -2.87 14.3)"/>
<ellipse cx="2.85" cy="14.3" rx="0.5" ry="0.75" fill="url(#gw)" opacity="0.094" transform="rotate(-11.27 2.85 14.3)"/>
<ellipse cx="-2.86" cy="14.75" rx="0.45" ry="0.75" fill="url(#gw)" opacity="0.141" transform="rotate(10.98 -2.86 14.75)"/>
<ellipse cx="2.82" cy="14.75" rx="0.5" ry="0.75" fill="url(#gw)" opacity="0.094" transform="rotate(-10.81 2.82 14.75)"/>
<ellipse cx="-2.86" cy="15.2" rx="0.45" ry="0.75" fill="url(#gw)" opacity="0.141" transform="rotate(10.65 -2.86 15.2)"/>
<ellipse cx="2.8" cy="15.2" rx="0.5" ry="0.75" fill="url(#gw)" opacity="0.094" transform="rotate(-10.44 2.8 15.2)"/>
<ellipse cx="-2.85" cy="15.65" rx="0.45" ry="0.75" fill="url(#gw)" opacity="0.141" transform="rotate(10.33 -2.85 15.65)"/>
<ellipse cx="2.8" cy="15.65" rx="0.5" ry="0.75" fill="url(#gw)" opacity="0.094" transform="rotate(-10.14 2.8 15.65)"/>
<ellipse cx="-2.85" cy="16.1" rx="0.45" ry="0.75" fill="url(#gw)" opacity="0.141" transform="rotate(10.04 -2.85 16.1)"/>
<ellipse cx="2.8" cy="16.1" rx="0.5" ry="0.75" fill="url(#gw)" opacity="0.094" transform="rotate(-9.87 2.8 16.1)"/>
<ellipse cx="-2.5" cy="1.2" rx="0.76" ry="0.92" fill="url(#gw)" opacity="0.143" transform="rotate(64.36 -2.5 1.2)"/>
<ellipse cx="-2.6" cy="3.2" rx="0.34" ry="0.88" fill="url(#gw)" opacity="0.143" transform="rotate(39.09 -2.6 3.2)"/>
<ellipse cx="-2.42" cy="2.75" rx="0.29" ry="0.74" fill="url(#gw)" opacity="0.143" transform="rotate(41.35 -2.42 2.75)"/>
<ellipse cx="-2.75" cy="3.65" rx="0.29" ry="0.74" fill="url(#gw)" opacity="0.143" transform="rotate(37 -2.75 3.65)"/>
<ellipse cx="-2.68" cy="4.3" rx="0.45" ry="0.78" fill="url(#gw)" opacity="0.143" transform="rotate(31.93 -2.68 4.3)"/>
<ellipse cx="-2.74" cy="5.06" rx="0.58" ry="1.32" fill="url(#gw)" opacity="0.143" transform="rotate(28.44 -2.74 5.06)"/>
<ellipse cx="-2.83" cy="6.5" rx="0.54" ry="0.99" fill="url(#gw)" opacity="0.143" transform="rotate(23.53 -2.83 6.5)"/>
<ellipse cx="-2.75" cy="7.9" rx="0.45" ry="1.01" fill="url(#gw)" opacity="0.143" transform="rotate(19.19 -2.75 7.9)"/>
<ellipse cx="-2.82" cy="8.95" rx="0.83" ry="1.35" fill="url(#gw)" opacity="0.143" transform="rotate(17.49 -2.82 8.95)"/>
<ellipse cx="-2.9" cy="11.1" rx="0.72" ry="0.99" fill="url(#gw)" opacity="0.143" transform="rotate(14.64 -2.9 11.1)"/>
<ellipse cx="-2.87" cy="13.9" rx="0.65" ry="1.55" fill="url(#gw)" opacity="0.143" transform="rotate(11.67 -2.87 13.9)"/>
<ellipse cx="-2.62" cy="14.55" rx="0.4" ry="0.96" fill="url(#gw)" opacity="0.143" transform="rotate(10.21 -2.62 14.55)"/>
<ellipse cx="-2.9" cy="12.05" rx="0.54" ry="0.96" fill="url(#gw)" opacity="0.143" transform="rotate(13.53 -2.9 12.05)"/>
<ellipse cx="-2.8" cy="15.3" rx="0.54" ry="0.83" fill="url(#gw)" opacity="0.143" transform="rotate(10.37 -2.8 15.3)"/>
<ellipse cx="2.1" cy="1.05" rx="0.36" ry="1.1" fill="url(#gw)" opacity="0.143" transform="rotate(-63.43 2.1 1.05)"/>
<ellipse cx="2.52" cy="2.2" rx="0.41" ry="1.1" fill="url(#gw)" opacity="0.143" transform="rotate(-48.88 2.52 2.2)"/>
<ellipse cx="2.62" cy="3.5" rx="0.52" ry="1.21" fill="url(#gw)" opacity="0.143" transform="rotate(-36.82 2.62 3.5)"/>
<ellipse cx="2.72" cy="5.8" rx="0.72" ry="1.19" fill="url(#gw)" opacity="0.143" transform="rotate(-25.12 2.72 5.8)"/>
<ellipse cx="2.8" cy="7.45" rx="0.76" ry="1.73" fill="url(#gw)" opacity="0.143" transform="rotate(-20.6 2.8 7.45)"/>
<ellipse cx="2.9" cy="10.5" rx="0.9" ry="2.54" fill="url(#gw)" opacity="0.143" transform="rotate(-15.44 2.9 10.5)"/>
<ellipse cx="2.96" cy="12.8" rx="0.83" ry="1.46" fill="url(#gw)" opacity="0.143" transform="rotate(-13.02 2.96 12.8)"/>
<ellipse cx="2.72" cy="15" rx="0.72" ry="1.1" fill="url(#gw)" opacity="0.143" transform="rotate(-10.28 2.72 15)"/>
<ellipse cx="-2.5" cy="1.2" rx="0.58" ry="0.72" fill="url(#gw)" opacity="0.740" transform="rotate(64.36 -2.5 1.2)"/>
<ellipse cx="-2.6" cy="3.2" rx="0.16" ry="0.68" fill="url(#gw)" opacity="0.440" transform="rotate(39.09 -2.6 3.2)"/>
<ellipse cx="-2.42" cy="2.75" rx="0.11" ry="0.54" fill="url(#gw)" opacity="0.100" transform="rotate(41.35 -2.42 2.75)"/>
<ellipse cx="-2.75" cy="3.65" rx="0.11" ry="0.54" fill="url(#gw)" opacity="0.120" transform="rotate(37 -2.75 3.65)"/>
<ellipse cx="-2.68" cy="4.3" rx="0.27" ry="0.58" fill="url(#gw)" opacity="0.640" transform="rotate(31.93 -2.68 4.3)"/>
<ellipse cx="-2.74" cy="5.06" rx="0.4" ry="1.12" fill="url(#gw)" opacity="0.720" transform="rotate(28.44 -2.74 5.06)"/>
<ellipse cx="-2.83" cy="6.5" rx="0.36" ry="0.79" fill="url(#gw)" opacity="0.700" transform="rotate(23.53 -2.83 6.5)"/>
<ellipse cx="-2.75" cy="7.9" rx="0.27" ry="0.81" fill="url(#gw)" opacity="0.440" transform="rotate(19.19 -2.75 7.9)"/>
<ellipse cx="-2.82" cy="8.95" rx="0.65" ry="1.15" fill="url(#gw)" opacity="0.980" transform="rotate(17.49 -2.82 8.95)"/>
<ellipse cx="-2.9" cy="11.1" rx="0.54" ry="0.79" fill="url(#gw)" opacity="0.700" transform="rotate(14.64 -2.9 11.1)"/>
<ellipse cx="-2.87" cy="13.9" rx="0.47" ry="1.35" fill="url(#gw)" opacity="0.760" transform="rotate(11.67 -2.87 13.9)"/>
<ellipse cx="-2.62" cy="14.55" rx="0.22" ry="0.76" fill="url(#gw)" opacity="0.600" transform="rotate(10.21 -2.62 14.55)"/>
<ellipse cx="-2.9" cy="12.05" rx="0.36" ry="0.76" fill="url(#gw)" opacity="0.280" transform="rotate(13.53 -2.9 12.05)"/>
<ellipse cx="-2.8" cy="15.3" rx="0.36" ry="0.63" fill="url(#gw)" opacity="0.000" transform="rotate(10.37 -2.8 15.3)"/>
<ellipse cx="2.1" cy="1.05" rx="0.18" ry="0.9" fill="url(#gw)" opacity="0.360" transform="rotate(-63.43 2.1 1.05)"/>
<ellipse cx="2.52" cy="2.2" rx="0.23" ry="0.9" fill="url(#gw)" opacity="0.680" transform="rotate(-48.88 2.52 2.2)"/>
<ellipse cx="2.62" cy="3.5" rx="0.34" ry="1.01" fill="url(#gw)" opacity="0.740" transform="rotate(-36.82 2.62 3.5)"/>
<ellipse cx="2.72" cy="5.8" rx="0.54" ry="0.99" fill="url(#gw)" opacity="0.680" transform="rotate(-25.12 2.72 5.8)"/>
<ellipse cx="2.8" cy="7.45" rx="0.58" ry="1.53" fill="url(#gw)" opacity="0.720" transform="rotate(-20.6 2.8 7.45)"/>
<ellipse cx="2.9" cy="10.5" rx="0.72" ry="2.34" fill="url(#gw)" opacity="0.960" transform="rotate(-15.44 2.9 10.5)"/>
<ellipse cx="2.96" cy="12.8" rx="0.65" ry="1.26" fill="url(#gw)" opacity="0.720" transform="rotate(-13.02 2.96 12.8)"/>
<ellipse cx="2.72" cy="15" rx="0.54" ry="0.9" fill="url(#gw)" opacity="0.280" transform="rotate(-10.28 2.72 15)"/>
<g filter="url(#bT)"><path d="M12.7 7.46 L13.67 8 L14.95 8.74 L15.89 9.33 L14.92 8.79 L13.64 8.04Z" fill="#000" opacity="0.10"/><path d="M0.21 2.45 L0.29 2.96 L0.36 3.65 L0.36 4.18 L0.27 3.66 L0.22 2.97Z" fill="#fff" opacity="0.11"/><path d="M-1.63 0.73 L-2.49 1.15 L-3.65 1.69 L-4.54 2.03 L-3.69 1.6 L-2.52 1.09Z" fill="#000" opacity="0.13"/><path d="M-0.44 1.29 L-0.74 2.26 L-1.16 3.55 L-1.54 4.5 L-1.26 3.52 L-0.8 2.24Z" fill="#000" opacity="0.12"/><path d="M5.44 2.4 L6.36 2.77 L7.58 3.3 L8.48 3.74 L7.55 3.38 L6.34 2.83Z" fill="#000" opacity="0.13"/><path d="M-0.76 1.62 L-1.04 2.32 L-1.45 3.25 L-1.83 3.91 L-1.56 3.2 L-1.11 2.29Z" fill="#000" opacity="0.10"/><path d="M1.13 3.03 L1.34 3.49 L1.58 4.13 L1.72 4.62 L1.51 4.16 L1.28 3.52Z" fill="#000" opacity="0.08"/><path d="M-1.59 1.18 L-1.88 1.44 L-2.3 1.76 L-2.63 1.97 L-2.34 1.7 L-1.92 1.39Z" fill="#000" opacity="0.14"/><path d="M-2.4 5.55 L-2.61 6.11 L-2.92 6.85 L-3.2 7.39 L-2.99 6.82 L-2.67 6.09Z" fill="#000" opacity="0.11"/><path d="M-1.15 1.77 L-1.67 2.64 L-2.4 3.79 L-3 4.61 L-2.5 3.72 L-1.74 2.6Z" fill="#000" opacity="0.08"/><path d="M1.64 14.19 L1.79 15.03 L1.93 16.17 L1.96 17.03 L1.81 16.18 L1.68 15.05Z" fill="#fff" opacity="0.16"/><path d="M-5.94 3.19 L-6.25 3.42 L-6.69 3.66 L-7.06 3.79 L-6.75 3.56 L-6.3 3.33Z" fill="#000" opacity="0.16"/><path d="M10.03 10.79 L10.63 11.35 L11.37 12.14 L11.87 12.77 L11.28 12.22 L10.54 11.43Z" fill="#000" opacity="0.09"/><path d="M5.65 2.44 L6.14 2.62 L6.78 2.9 L7.25 3.13 L6.76 2.95 L6.12 2.67Z" fill="#fff" opacity="0.08"/><path d="M12.88 7.2 L13.37 7.44 L14 7.79 L14.46 8.08 L13.97 7.84 L13.34 7.49Z" fill="#000" opacity="0.08"/><path d="M1.39 12.62 L1.49 13.18 L1.57 13.94 L1.6 14.51 L1.49 13.95 L1.41 13.19Z" fill="#000" opacity="0.10"/><path d="M-5.16 12.89 L-5.5 13.88 L-6.01 15.17 L-6.45 16.12 L-6.12 15.13 L-5.6 13.84Z" fill="#000" opacity="0.10"/><path d="M5.91 11.52 L6.35 12.3 L6.9 13.37 L7.27 14.18 L6.83 13.4 L6.29 12.33Z" fill="#fff" opacity="0.10"/><path d="M5.49 6.95 L6.04 7.56 L6.73 8.42 L7.19 9.1 L6.64 8.49 L5.96 7.62Z" fill="#fff" opacity="0.12"/><path d="M-3.51 8.17 L-3.9 9.15 L-4.46 10.46 L-4.91 11.42 L-4.52 10.43 L-3.96 9.13Z" fill="#000" opacity="0.07"/><path d="M1.34 8.52 L1.47 9.07 L1.59 9.8 L1.63 10.36 L1.5 9.81 L1.39 9.08Z" fill="#fff" opacity="0.10"/><path d="M0.3 0.47 L0.69 1.02 L1.2 1.77 L1.51 2.38 L1.09 1.84 L0.63 1.06Z" fill="#fff" opacity="0.15"/><path d="M-7.07 8.05 L-7.38 8.46 L-7.82 8.97 L-8.18 9.32 L-7.88 8.91 L-7.44 8.41Z" fill="#fff" opacity="0.07"/><path d="M3.64 6.79 L4.12 7.6 L4.72 8.7 L5.12 9.54 L4.64 8.74 L4.05 7.63Z" fill="#000" opacity="0.11"/><path d="M-6.58 12.33 L-6.74 12.74 L-7.01 13.25 L-7.26 13.61 L-7.11 13.2 L-6.84 12.69Z" fill="#000" opacity="0.11"/><path d="M6.66 8.25 L7.23 8.9 L7.96 9.8 L8.48 10.5 L7.91 9.84 L7.18 8.94Z" fill="#fff" opacity="0.09"/><path d="M-6.89 13.21 L-7.16 13.8 L-7.55 14.56 L-7.89 15.12 L-7.62 14.52 L-7.22 13.76Z" fill="#fff" opacity="0.14"/><path d="M-0.45 8.79 L-0.44 9.37 L-0.48 10.14 L-0.54 10.71 L-0.55 10.13 L-0.51 9.37Z" fill="#fff" opacity="0.08"/><path d="M-7.22 11.15 L-7.63 11.82 L-8.19 12.7 L-8.64 13.34 L-8.24 12.66 L-7.67 11.79Z" fill="#fff" opacity="0.07"/><path d="M1.17 7.03 L1.38 8.1 L1.62 9.52 L1.76 10.59 L1.55 9.53 L1.32 8.11Z" fill="#000" opacity="0.08"/><path d="M9.27 3.77 L9.66 3.88 L10.15 4.07 L10.5 4.27 L10.11 4.17 L9.62 3.97Z" fill="#fff" opacity="0.10"/><path d="M-9.9 8.52 L-10.2 8.85 L-10.63 9.23 L-11 9.47 L-10.7 9.15 L-10.26 8.77Z" fill="#fff" opacity="0.13"/><path d="M-0.79 1.48 L-1.29 2.49 L-1.98 3.82 L-2.57 4.79 L-2.09 3.77 L-1.36 2.45Z" fill="#fff" opacity="0.16"/><path d="M2.76 1.7 L3.1 1.86 L3.53 2.12 L3.82 2.36 L3.48 2.2 L3.05 1.93Z" fill="#fff" opacity="0.13"/><path d="M-0.8 11.11 L-0.81 11.95 L-0.89 13.06 L-1 13.9 L-0.99 13.05 L-0.91 11.94Z" fill="#000" opacity="0.12"/><path d="M1.22 5.26 L1.35 5.72 L1.5 6.33 L1.58 6.8 L1.44 6.34 L1.3 5.73Z" fill="#000" opacity="0.08"/><path d="M-0.9 5.17 L-1.02 6.05 L-1.21 7.2 L-1.41 8.06 L-1.3 7.19 L-1.09 6.03Z" fill="#000" opacity="0.10"/><path d="M-3.35 9.71 L-3.62 10.65 L-4.05 11.9 L-4.43 12.81 L-4.16 11.86 L-3.73 10.62Z" fill="#fff" opacity="0.15"/><path d="M14.08 5.82 L14.53 5.97 L15.1 6.2 L15.52 6.42 L15.08 6.27 L14.5 6.03Z" fill="#000" opacity="0.14"/><path d="M-5.78 2.81 L-6.63 3.27 L-7.79 3.84 L-8.68 4.22 L-7.84 3.74 L-6.67 3.19Z" fill="#000" opacity="0.08"/><path d="M-0.29 1.35 L-0.39 1.97 L-0.55 2.78 L-0.73 3.39 L-0.64 2.76 L-0.45 1.95Z" fill="#000" opacity="0.12"/><path d="M-0.83 4.11 L-0.91 4.73 L-1.07 5.54 L-1.25 6.15 L-1.17 5.52 L-1 4.71Z" fill="#fff" opacity="0.08"/><path d="M6.49 6.43 L7.35 7.22 L8.47 8.32 L9.27 9.18 L8.4 8.39 L7.29 7.28Z" fill="#000" opacity="0.10"/><path d="M3.78 13.77 L4.13 14.9 L4.56 16.43 L4.82 17.58 L4.46 16.45 L4.04 14.93Z" fill="#fff" opacity="0.07"/><path d="M4.72 4.28 L5.24 4.72 L5.92 5.32 L6.41 5.8 L5.88 5.37 L5.21 4.75Z" fill="#fff" opacity="0.10"/><path d="M10.66 4.6 L11.56 4.93 L12.73 5.43 L13.58 5.86 L12.69 5.53 L11.52 5.02Z" fill="#fff" opacity="0.08"/><path d="M0.38 1.4 L0.64 2.22 L0.95 3.31 L1.13 4.15 L0.85 3.34 L0.57 2.24Z" fill="#000" opacity="0.07"/><path d="M-6.59 3.77 L-6.99 4.05 L-7.55 4.38 L-7.99 4.57 L-7.6 4.29 L-7.04 3.97Z" fill="#fff" opacity="0.12"/><path d="M5.53 7.84 L6.02 8.48 L6.64 9.36 L7.08 10.04 L6.59 9.4 L5.97 8.52Z" fill="#fff" opacity="0.16"/><path d="M-2.52 4.04 L-2.9 4.72 L-3.44 5.6 L-3.89 6.23 L-3.52 5.55 L-2.97 4.68Z" fill="#000" opacity="0.09"/><path d="M0.76 0.34 L1.71 0.73 L2.96 1.27 L3.87 1.74 L2.92 1.37 L1.68 0.79Z" fill="#000" opacity="0.08"/><path d="M6.58 13.15 L7.02 13.96 L7.57 15.06 L7.96 15.9 L7.52 15.09 L6.97 13.99Z" fill="#000" opacity="0.16"/><path d="M-10.49 7.52 L-10.82 7.79 L-11.28 8.12 L-11.65 8.35 L-11.32 8.08 L-10.86 7.75Z" fill="#000" opacity="0.13"/><path d="M8.98 4.35 L9.71 4.66 L10.66 5.12 L11.35 5.49 L10.63 5.18 L9.68 4.72Z" fill="#000" opacity="0.16"/><path d="M4.83 12.75 L5.06 13.22 L5.31 13.88 L5.45 14.39 L5.21 13.92 L4.97 13.26Z" fill="#000" opacity="0.07"/><path d="M2.23 2.21 L2.63 2.58 L3.15 3.08 L3.51 3.49 L3.11 3.13 L2.6 2.61Z" fill="#000" opacity="0.07"/><path d="M0.46 0.19 L1.44 0.55 L2.74 1.04 L3.68 1.49 L2.69 1.16 L1.41 0.61Z" fill="#000" opacity="0.12"/><path d="M6.72 7.47 L7.08 7.79 L7.51 8.26 L7.79 8.65 L7.43 8.33 L7 7.85Z" fill="#fff" opacity="0.12"/><path d="M0.48 14.05 L0.55 14.76 L0.59 15.7 L0.56 16.41 L0.48 15.71 L0.45 14.76Z" fill="#fff" opacity="0.09"/><path d="M3.94 8.84 L4.4 9.79 L4.98 11.08 L5.38 12.06 L4.92 11.11 L4.35 9.82Z" fill="#000" opacity="0.14"/><path d="M-1.96 1.7 L-2.57 2.29 L-3.42 3.05 L-4.11 3.55 L-3.51 2.94 L-2.64 2.22Z" fill="#000" opacity="0.10"/><path d="M0.25 12.64 L0.31 13.44 L0.33 14.5 L0.3 15.3 L0.24 14.5 L0.23 13.44Z" fill="#000" opacity="0.15"/><path d="M8.8 9.69 L9.22 10.09 L9.75 10.66 L10.11 11.13 L9.68 10.73 L9.16 10.15Z" fill="#000" opacity="0.13"/><path d="M12.72 6.37 L13.16 6.54 L13.72 6.82 L14.12 7.06 L13.68 6.89 L13.12 6.61Z" fill="#fff" opacity="0.08"/><path d="M0.06 15.25 L0.09 16.26 L0.09 17.6 L0.07 18.61 L0.03 17.6 L0.03 16.26Z" fill="#fff" opacity="0.10"/><path d="M6 4.32 L6.42 4.58 L6.96 4.96 L7.33 5.28 L6.91 5.03 L6.37 4.64Z" fill="#fff" opacity="0.06"/><path d="M3.49 14.96 L3.77 15.93 L4.08 17.25 L4.26 18.24 L3.98 17.27 L3.68 15.96Z" fill="#fff" opacity="0.12"/><path d="M3.93 11.22 L4.19 11.91 L4.52 12.83 L4.74 13.53 L4.47 12.85 L4.14 11.92Z" fill="#000" opacity="0.09"/><path d="M4.13 6.22 L4.72 7.04 L5.47 8.17 L6 9.03 L5.41 8.21 L4.66 7.08Z" fill="#fff" opacity="0.10"/><path d="M-0.56 12.38 L-0.55 13.08 L-0.58 14.01 L-0.67 14.7 L-0.68 14 L-0.64 13.07Z" fill="#fff" opacity="0.13"/><path d="M-9.77 9.6 L-10.58 10.43 L-11.68 11.51 L-12.52 12.29 L-11.71 11.47 L-10.61 10.39Z" fill="#000" opacity="0.14"/><path d="M0.97 1.85 L1.47 2.69 L2.09 3.83 L2.49 4.72 L1.98 3.89 L1.39 2.73Z" fill="#000" opacity="0.16"/><path d="M8.89 4.59 L9.91 5.08 L11.26 5.77 L12.26 6.32 L11.23 5.83 L9.89 5.13Z" fill="#fff" opacity="0.11"/><path d="M0.86 14.77 L0.96 15.66 L1.03 16.85 L1.04 17.74 L0.93 16.85 L0.87 15.66Z" fill="#000" opacity="0.15"/><path d="M-2.76 11.26 L-2.93 12.11 L-3.2 13.23 L-3.44 14.06 L-3.28 13.21 L-3 12.09Z" fill="#fff" opacity="0.08"/><path d="M-5.14 2.05 L-5.7 2.31 L-6.46 2.61 L-7.04 2.81 L-6.48 2.56 L-5.72 2.26Z" fill="#fff" opacity="0.10"/><path d="M10.56 6.13 L11.38 6.54 L12.44 7.15 L13.21 7.67 L12.38 7.25 L11.33 6.63Z" fill="#fff" opacity="0.07"/><path d="M1.06 3.77 L1.42 4.9 L1.86 6.42 L2.14 7.57 L1.77 6.44 L1.35 4.92Z" fill="#000" opacity="0.08"/><path d="M-8.28 5.44 L-9.05 5.98 L-10.1 6.67 L-10.9 7.16 L-10.14 6.61 L-9.08 5.93Z" fill="#000" opacity="0.16"/><path d="M6.75 13.64 L7.3 14.69 L8 16.11 L8.5 17.19 L7.95 16.14 L7.25 14.72Z" fill="#000" opacity="0.13"/><path d="M3.03 4.7 L3.51 5.36 L4.11 6.27 L4.51 6.99 L4.02 6.33 L3.44 5.41Z" fill="#000" opacity="0.07"/><path d="M-1.55 4.99 L-1.83 5.98 L-2.23 7.28 L-2.56 8.25 L-2.29 7.26 L-1.88 5.96Z" fill="#fff" opacity="0.07"/><path d="M-5.65 4.18 L-6.5 4.85 L-7.67 5.72 L-8.56 6.33 L-7.71 5.65 L-6.54 4.8Z" fill="#fff" opacity="0.13"/><path d="M-3.57 8.33 L-3.93 9.26 L-4.44 10.47 L-4.87 11.36 L-4.52 10.44 L-4 9.23Z" fill="#000" opacity="0.12"/><path d="M9.07 7.76 L9.95 8.45 L11.09 9.41 L11.9 10.18 L11.02 9.49 L9.89 8.52Z" fill="#fff" opacity="0.11"/><path d="M7.61 9.62 L8.26 10.35 L9.07 11.37 L9.62 12.17 L8.98 11.44 L8.17 10.42Z" fill="#000" opacity="0.11"/><path d="M0.41 1.08 L0.72 1.78 L1.1 2.72 L1.32 3.45 L0.99 2.76 L0.65 1.81Z" fill="#000" opacity="0.14"/><path d="M-0.55 3.91 L-0.66 5 L-0.86 6.46 L-1.06 7.55 L-0.96 6.45 L-0.75 4.99Z" fill="#fff" opacity="0.06"/><path d="M7.33 5.47 L7.73 5.7 L8.22 6.05 L8.54 6.37 L8.14 6.15 L7.66 5.79Z" fill="#000" opacity="0.14"/><path d="M2.97 3.16 L3.54 3.73 L4.27 4.5 L4.79 5.1 L4.22 4.54 L3.5 3.76Z" fill="#000" opacity="0.10"/><path d="M1.48 1.68 L1.85 2.06 L2.33 2.59 L2.65 3.01 L2.26 2.64 L1.8 2.1Z" fill="#fff" opacity="0.10"/><path d="M12.22 5.7 L12.71 5.87 L13.32 6.16 L13.76 6.43 L13.28 6.26 L12.66 5.97Z" fill="#fff" opacity="0.08"/><path d="M1.64 4.63 L1.84 5.12 L2.08 5.78 L2.23 6.29 L2.03 5.8 L1.79 5.14Z" fill="#fff" opacity="0.08"/><path d="M0.96 0.59 L1.67 1 L2.6 1.55 L3.27 2.01 L2.56 1.62 L1.64 1.04Z" fill="#000" opacity="0.06"/><path d="M-3.54 11.01 L-3.62 11.39 L-3.77 11.87 L-3.93 12.22 L-3.85 11.85 L-3.69 11.36Z" fill="#fff" opacity="0.11"/><path d="M0.54 1.61 L0.91 2.63 L1.39 4 L1.7 5.05 L1.31 4.03 L0.86 2.65Z" fill="#000" opacity="0.07"/><path d="M-2.84 1.88 L-3.18 2.15 L-3.65 2.47 L-4.03 2.68 L-3.69 2.41 L-3.21 2.1Z" fill="#fff" opacity="0.07"/><path d="M6.41 5.47 L7.03 5.94 L7.82 6.61 L8.38 7.15 L7.76 6.68 L6.97 6.01Z" fill="#000" opacity="0.06"/><path d="M-9.38 4.69 L-9.69 4.89 L-10.13 5.11 L-10.48 5.24 L-10.17 5.04 L-9.73 4.82Z" fill="#000" opacity="0.14"/><path d="M-6.12 2.28 L-6.69 2.54 L-7.46 2.83 L-8.06 3 L-7.5 2.74 L-6.72 2.46Z" fill="#fff" opacity="0.14"/><path d="M7.87 3.79 L8.72 4.14 L9.82 4.67 L10.63 5.12 L9.77 4.77 L8.67 4.23Z" fill="#000" opacity="0.14"/><path d="M-0.03 1.81 L0 2.84 L0 4.21 L-0.08 5.24 L-0.13 4.21 L-0.09 2.84Z" fill="#000" opacity="0.09"/><path d="M9.04 3.88 L9.64 4.08 L10.4 4.4 L10.95 4.7 L10.36 4.5 L9.6 4.17Z" fill="#fff" opacity="0.08"/><path d="M1.12 0.71 L2.05 1.28 L3.29 2.04 L4.18 2.67 L3.24 2.12 L2.02 1.33Z" fill="#000" opacity="0.13"/><path d="M3.18 2.07 L3.57 2.28 L4.06 2.59 L4.41 2.87 L4.01 2.67 L3.53 2.35Z" fill="#fff" opacity="0.10"/><path d="M-1.5 1.08 L-2.16 1.59 L-3.06 2.26 L-3.76 2.72 L-3.1 2.2 L-2.19 1.56Z" fill="#fff" opacity="0.10"/><path d="M-10.51 6.93 L-11.43 7.56 L-12.67 8.38 L-13.62 8.98 L-12.7 8.34 L-11.45 7.52Z" fill="#000" opacity="0.08"/><path d="M0.77 1.18 L1.35 1.98 L2.09 3.07 L2.57 3.93 L1.97 3.14 L1.27 2.03Z" fill="#fff" opacity="0.08"/><path d="M-5.07 12.4 L-5.42 13.35 L-5.93 14.61 L-6.35 15.54 L-5.99 14.58 L-5.48 13.33Z" fill="#000" opacity="0.13"/><path d="M13.58 6.57 L14.05 6.74 L14.64 7.03 L15.06 7.29 L14.6 7.12 L14.01 6.83Z" fill="#fff" opacity="0.08"/><path d="M0.39 3.98 L0.47 4.52 L0.55 5.24 L0.56 5.78 L0.47 5.25 L0.4 4.52Z" fill="#fff" opacity="0.15"/><path d="M1.77 8.66 L1.99 9.6 L2.25 10.86 L2.41 11.81 L2.19 10.87 L1.93 9.61Z" fill="#000" opacity="0.14"/><path d="M5.05 5.2 L5.64 5.77 L6.4 6.54 L6.95 7.15 L6.36 6.59 L5.6 5.8Z" fill="#fff" opacity="0.12"/><path d="M12.44 6.29 L13.04 6.54 L13.81 6.92 L14.36 7.26 L13.76 7.02 L13 6.62Z" fill="#000" opacity="0.16"/><path d="M2.34 4.91 L2.83 5.89 L3.46 7.21 L3.91 8.21 L3.41 7.23 L2.79 5.91Z" fill="#000" opacity="0.11"/><path d="M7.92 5.81 L8.36 6.09 L8.93 6.51 L9.34 6.85 L8.89 6.56 L8.33 6.14Z" fill="#fff" opacity="0.14"/><path d="M3.92 4.67 L4.31 5.06 L4.78 5.62 L5.1 6.07 L4.71 5.68 L4.24 5.12Z" fill="#fff" opacity="0.11"/><path d="M-1.95 4.91 L-2.27 5.8 L-2.72 6.97 L-3.1 7.83 L-2.79 6.94 L-2.32 5.78Z" fill="#fff" opacity="0.12"/><path d="M2.44 1.28 L3 1.53 L3.73 1.91 L4.26 2.23 L3.7 1.98 L2.97 1.59Z" fill="#fff" opacity="0.11"/><path d="M2.29 2.26 L3 2.92 L3.92 3.81 L4.57 4.52 L3.86 3.88 L2.95 2.97Z" fill="#000" opacity="0.11"/><path d="M0.82 3.09 L1.08 3.92 L1.39 5.05 L1.57 5.91 L1.3 5.07 L1.01 3.94Z" fill="#000" opacity="0.12"/><path d="M-3.39 14.93 L-3.48 15.43 L-3.63 16.09 L-3.77 16.58 L-3.68 16.08 L-3.53 15.42Z" fill="#fff" opacity="0.13"/><path d="M-9.67 6.28 L-10.01 6.55 L-10.5 6.87 L-10.88 7.07 L-10.54 6.81 L-10.05 6.49Z" fill="#000" opacity="0.06"/><path d="M-2.49 15.29 L-2.61 16.25 L-2.82 17.53 L-3.02 18.48 L-2.9 17.52 L-2.69 16.24Z" fill="#000" opacity="0.12"/><path d="M3.93 4.07 L4.43 4.53 L5.07 5.18 L5.5 5.71 L4.99 5.25 L4.36 4.6Z" fill="#000" opacity="0.13"/><path d="M-5.13 4.5 L-5.58 4.94 L-6.2 5.49 L-6.7 5.88 L-6.25 5.44 L-5.62 4.89Z" fill="#fff" opacity="0.13"/><path d="M-4.43 3.75 L-4.69 4.03 L-5.07 4.36 L-5.39 4.56 L-5.13 4.28 L-4.75 3.96Z" fill="#000" opacity="0.07"/><path d="M13.77 6.95 L14.67 7.35 L15.86 7.95 L16.71 8.44 L15.81 8.04 L14.63 7.45Z" fill="#000" opacity="0.06"/><path d="M-2.1 3.47 L-2.26 3.81 L-2.51 4.25 L-2.75 4.55 L-2.6 4.2 L-2.33 3.77Z" fill="#000" opacity="0.10"/><path d="M2.31 3.28 L2.67 3.76 L3.13 4.4 L3.45 4.91 L3.08 4.44 L2.63 3.79Z" fill="#fff" opacity="0.15"/><path d="M-0.24 11.55 L-0.22 12.64 L-0.24 14.09 L-0.32 15.18 L-0.34 14.09 L-0.31 12.64Z" fill="#fff" opacity="0.16"/><path d="M-5.71 3.5 L-6.62 4.12 L-7.87 4.9 L-8.84 5.43 L-7.93 4.8 L-6.67 4.04Z" fill="#fff" opacity="0.14"/><path d="M6.72 9.14 L7.11 9.59 L7.57 10.21 L7.88 10.71 L7.49 10.27 L7.03 9.64Z" fill="#000" opacity="0.14"/><path d="M0.48 14.43 L0.55 15.39 L0.59 16.68 L0.59 17.65 L0.53 16.68 L0.49 15.4Z" fill="#000" opacity="0.08"/><path d="M1.55 5.16 L1.93 6.29 L2.39 7.82 L2.7 8.98 L2.32 7.85 L1.86 6.31Z" fill="#000" opacity="0.14"/><path d="M-2.81 8.9 L-2.94 9.44 L-3.16 10.15 L-3.37 10.67 L-3.24 10.13 L-3.01 9.42Z" fill="#fff" opacity="0.13"/><path d="M0.09 2.91 L0.15 3.82 L0.2 5.02 L0.18 5.93 L0.1 5.02 L0.08 3.82Z" fill="#000" opacity="0.10"/><path d="M8.08 6.41 L8.82 6.95 L9.78 7.71 L10.47 8.31 L9.72 7.78 L8.77 7.01Z" fill="#fff" opacity="0.10"/><path d="M3.02 6.39 L3.23 6.76 L3.47 7.26 L3.61 7.65 L3.4 7.29 L3.17 6.78Z" fill="#fff" opacity="0.06"/><path d="M-2.05 5.81 L-2.27 6.53 L-2.6 7.46 L-2.88 8.15 L-2.66 7.44 L-2.33 6.51Z" fill="#fff" opacity="0.10"/><path d="M-2.13 3.87 L-2.46 4.57 L-2.95 5.47 L-3.37 6.12 L-3.05 5.42 L-2.54 4.52Z" fill="#fff" opacity="0.06"/><path d="M-1.73 13.81 L-1.81 14.69 L-1.95 15.87 L-2.1 16.75 L-2.03 15.86 L-1.88 14.68Z" fill="#000" opacity="0.13"/><path d="M9.4 9.17 L9.7 9.43 L10.08 9.79 L10.33 10.09 L10.03 9.84 L9.66 9.47Z" fill="#000" opacity="0.10"/><path d="M1.31 0.86 L2.29 1.46 L3.58 2.28 L4.51 2.95 L3.52 2.37 L2.25 1.52Z" fill="#fff" opacity="0.14"/><path d="M0.69 7.36 L0.79 7.87 L0.85 8.55 L0.85 9.07 L0.74 8.56 L0.69 7.88Z" fill="#fff" opacity="0.09"/><path d="M-0.62 0.4 L-1.12 0.75 L-1.79 1.21 L-2.32 1.52 L-1.82 1.15 L-1.14 0.72Z" fill="#fff" opacity="0.09"/><path d="M-6.88 2.89 L-7.42 3.15 L-8.16 3.46 L-8.72 3.66 L-8.18 3.4 L-7.44 3.09Z" fill="#000" opacity="0.09"/><path d="M-12.8 6.73 L-13.83 7.31 L-15.21 8.04 L-16.27 8.56 L-15.25 7.98 L-13.86 7.25Z" fill="#000" opacity="0.12"/><path d="M-4.92 7.02 L-5.22 7.52 L-5.67 8.16 L-6.03 8.62 L-5.73 8.12 L-5.28 7.48Z" fill="#fff" opacity="0.06"/><path d="M-9.32 12.08 L-9.91 12.89 L-10.73 13.96 L-11.38 14.73 L-10.79 13.91 L-9.97 12.85Z" fill="#000" opacity="0.09"/><path d="M4.06 3.47 L4.93 4.16 L6.06 5.12 L6.87 5.87 L6 5.18 L4.88 4.22Z" fill="#000" opacity="0.07"/><path d="M-1.41 5.49 L-1.61 6.49 L-1.93 7.81 L-2.25 8.78 L-2.05 7.78 L-1.71 6.46Z" fill="#fff" opacity="0.10"/><path d="M-1.05 1.05 L-1.37 1.4 L-1.81 1.84 L-2.16 2.15 L-1.85 1.8 L-1.4 1.36Z" fill="#fff" opacity="0.10"/><path d="M8.6 5.63 L9.46 6.14 L10.57 6.87 L11.39 7.45 L10.53 6.93 L9.42 6.2Z" fill="#fff" opacity="0.10"/><path d="M-0.47 0.65 L-0.77 1.16 L-1.21 1.81 L-1.61 2.25 L-1.32 1.73 L-0.85 1.1Z" fill="#fff" opacity="0.11"/><path d="M-7.24 9.49 L-7.44 9.83 L-7.76 10.25 L-8.03 10.53 L-7.83 10.19 L-7.51 9.78Z" fill="#000" opacity="0.11"/><path d="M-10.55 8.95 L-10.8 9.24 L-11.18 9.56 L-11.5 9.76 L-11.25 9.47 L-10.87 9.15Z" fill="#000" opacity="0.15"/><path d="M4.73 3.76 L5.45 4.29 L6.38 5.02 L7.04 5.6 L6.32 5.09 L5.4 4.35Z" fill="#000" opacity="0.10"/><path d="M3.91 3.3 L4.57 3.81 L5.42 4.52 L6.03 5.08 L5.38 4.57 L4.53 3.85Z" fill="#fff" opacity="0.15"/><path d="M-2.06 5.76 L-2.42 6.89 L-2.95 8.39 L-3.4 9.49 L-3.05 8.35 L-2.51 6.86Z" fill="#fff" opacity="0.11"/><path d="M-0.36 9.56 L-0.35 10.15 L-0.38 10.94 L-0.44 11.52 L-0.45 10.93 L-0.42 10.15Z" fill="#000" opacity="0.12"/><path d="M1.37 10.79 L1.53 11.77 L1.7 13.08 L1.79 14.07 L1.63 13.09 L1.47 11.78Z" fill="#000" opacity="0.11"/><path d="M-3.93 3.48 L-4.79 4.3 L-5.97 5.36 L-6.91 6.11 L-6.05 5.27 L-4.85 4.23Z" fill="#000" opacity="0.11"/><path d="M2.14 6.08 L2.5 6.99 L2.94 8.21 L3.22 9.15 L2.85 8.24 L2.43 7.01Z" fill="#fff" opacity="0.16"/><path d="M0.01 1.11 L0.05 2.15 L0.08 3.54 L0.06 4.59 L0.01 3.54 L0 2.15Z" fill="#fff" opacity="0.11"/><path d="M-4.66 5.54 L-5.1 6.12 L-5.72 6.87 L-6.23 7.4 L-5.79 6.81 L-5.16 6.07Z" fill="#000" opacity="0.13"/><path d="M-3.6 1.87 L-3.99 2.11 L-4.53 2.4 L-4.95 2.58 L-4.56 2.33 L-4.02 2.05Z" fill="#fff" opacity="0.15"/><path d="M-11.72 4.78 L-12.15 5.01 L-12.76 5.26 L-13.23 5.4 L-12.8 5.16 L-12.19 4.92Z" fill="#000" opacity="0.16"/><path d="M0.27 1.3 L0.42 1.89 L0.59 2.67 L0.67 3.27 L0.5 2.69 L0.36 1.9Z" fill="#000" opacity="0.16"/><path d="M1.17 0.85 L1.57 1.09 L2.08 1.45 L2.43 1.77 L2.02 1.54 L1.52 1.16Z" fill="#fff" opacity="0.12"/><path d="M0.25 8.67 L0.32 9.32 L0.35 10.19 L0.31 10.85 L0.23 10.2 L0.21 9.33Z" fill="#fff" opacity="0.10"/><path d="M-3.54 3.31 L-3.85 3.67 L-4.31 4.1 L-4.69 4.39 L-4.37 4.03 L-3.91 3.6Z" fill="#fff" opacity="0.08"/><path d="M9.11 9.66 L9.59 10.1 L10.18 10.72 L10.59 11.23 L10.1 10.79 L9.52 10.17Z" fill="#000" opacity="0.13"/><path d="M3.47 11.28 L3.69 11.87 L3.94 12.67 L4.09 13.29 L3.87 12.7 L3.63 11.9Z" fill="#fff" opacity="0.08"/><path d="M0.3 8.58 L0.35 9.1 L0.38 9.8 L0.37 10.32 L0.32 9.8 L0.3 9.1Z" fill="#fff" opacity="0.08"/><path d="M-7.29 6.58 L-8.03 7.31 L-9.06 8.24 L-9.86 8.9 L-9.12 8.17 L-8.09 7.25Z" fill="#000" opacity="0.10"/><path d="M-10.08 5.95 L-10.93 6.49 L-12.08 7.17 L-12.96 7.65 L-12.11 7.11 L-10.96 6.44Z" fill="#fff" opacity="0.13"/><path d="M1.45 2.58 L1.82 3.16 L2.27 3.95 L2.57 4.57 L2.2 3.99 L1.76 3.19Z" fill="#000" opacity="0.14"/><path d="M-4.65 4.01 L-5.5 4.77 L-6.64 5.76 L-7.52 6.47 L-6.68 5.71 L-5.53 4.72Z" fill="#fff" opacity="0.14"/><path d="M2.3 7.28 L2.55 7.99 L2.85 8.93 L3.05 9.65 L2.8 8.95 L2.5 8Z" fill="#000" opacity="0.09"/><path d="M-2.03 14.29 L-2.1 15.06 L-2.24 16.09 L-2.39 16.85 L-2.32 16.08 L-2.17 15.05Z" fill="#fff" opacity="0.09"/><path d="M3.22 10.78 L3.37 11.21 L3.55 11.79 L3.66 12.23 L3.5 11.8 L3.33 11.22Z" fill="#fff" opacity="0.08"/><path d="M0.72 2.82 L0.95 3.57 L1.22 4.58 L1.37 5.35 L1.13 4.6 L0.88 3.59Z" fill="#000" opacity="0.09"/><path d="M-3.03 4.66 L-3.51 5.45 L-4.16 6.47 L-4.69 7.22 L-4.23 6.43 L-3.56 5.41Z" fill="#fff" opacity="0.13"/><path d="M0.13 1.57 L0.24 2.63 L0.36 4.05 L0.42 5.12 L0.29 4.06 L0.19 2.64Z" fill="#fff" opacity="0.11"/><path d="M-1.22 11.92 L-1.23 12.41 L-1.29 13.05 L-1.39 13.53 L-1.39 13.04 L-1.32 12.4Z" fill="#fff" opacity="0.07"/><path d="M5.69 10.72 L5.93 11.11 L6.21 11.64 L6.4 12.05 L6.16 11.66 L5.88 11.13Z" fill="#fff" opacity="0.12"/><path d="M-13.42 6.15 L-13.74 6.35 L-14.19 6.56 L-14.55 6.67 L-14.23 6.47 L-13.78 6.26Z" fill="#000" opacity="0.10"/><path d="M2.2 2.23 L2.94 2.92 L3.89 3.87 L4.57 4.63 L3.82 3.94 L2.88 2.97Z" fill="#000" opacity="0.14"/><path d="M8.7 10.27 L9.09 10.69 L9.59 11.27 L9.94 11.73 L9.54 11.31 L9.05 10.72Z" fill="#fff" opacity="0.13"/><path d="M0.37 7.9 L0.43 8.65 L0.48 9.66 L0.48 10.42 L0.42 9.66 L0.38 8.65Z" fill="#000" opacity="0.12"/><path d="M1.67 7.74 L1.94 8.81 L2.26 10.24 L2.44 11.33 L2.17 10.26 L1.86 8.82Z" fill="#000" opacity="0.14"/><path d="M-9.74 8.44 L-10.39 9.04 L-11.28 9.82 L-11.97 10.37 L-11.33 9.76 L-10.43 8.99Z" fill="#fff" opacity="0.11"/><path d="M-0.24 0.47 L-0.7 1.42 L-1.32 2.67 L-1.87 3.58 L-1.44 2.61 L-0.76 1.38Z" fill="#000" opacity="0.14"/><path d="M-3.21 13.84 L-3.3 14.4 L-3.47 15.13 L-3.63 15.67 L-3.54 15.11 L-3.37 14.38Z" fill="#fff" opacity="0.13"/><path d="M-1.13 0.77 L-2.06 1.43 L-3.31 2.3 L-4.27 2.92 L-3.35 2.25 L-2.08 1.4Z" fill="#000" opacity="0.11"/><path d="M12.09 5.75 L12.78 6.03 L13.69 6.46 L14.35 6.83 L13.65 6.54 L12.75 6.11Z" fill="#000" opacity="0.09"/><path d="M-14.15 5.98 L-14.89 6.34 L-15.89 6.77 L-16.66 7.04 L-15.93 6.67 L-14.93 6.25Z" fill="#000" opacity="0.07"/><path d="M-3.3 2.3 L-4.23 3.01 L-5.5 3.91 L-6.5 4.53 L-5.57 3.81 L-4.28 2.93Z" fill="#fff" opacity="0.10"/><path d="M7.37 3.31 L7.96 3.53 L8.72 3.87 L9.28 4.16 L8.69 3.95 L7.93 3.6Z" fill="#fff" opacity="0.12"/><path d="M-7.18 4.18 L-7.56 4.43 L-8.08 4.73 L-8.48 4.94 L-8.1 4.69 L-7.58 4.38Z" fill="#000" opacity="0.11"/><path d="M-4.77 4.39 L-5.56 5.16 L-6.64 6.17 L-7.48 6.88 L-6.7 6.11 L-5.61 5.11Z" fill="#fff" opacity="0.11"/><path d="M8.03 5.5 L8.68 5.9 L9.52 6.46 L10.12 6.93 L9.47 6.54 L8.63 5.97Z" fill="#fff" opacity="0.15"/><path d="M-1.96 3.23 L-2.32 3.91 L-2.84 4.8 L-3.29 5.42 L-2.94 4.73 L-2.4 3.86Z" fill="#000" opacity="0.13"/><path d="M-11.71 4.36 L-12.75 4.78 L-14.16 5.3 L-15.22 5.67 L-14.18 5.24 L-12.77 4.72Z" fill="#fff" opacity="0.08"/><path d="M-2.09 1.69 L-2.67 2.21 L-3.47 2.88 L-4.11 3.32 L-3.54 2.79 L-2.72 2.14Z" fill="#fff" opacity="0.11"/><path d="M5.72 11.53 L6.29 12.57 L6.99 13.97 L7.46 15.05 L6.89 14.02 L6.2 12.61Z" fill="#fff" opacity="0.07"/><path d="M-1.6 2.99 L-2.12 4.03 L-2.84 5.41 L-3.44 6.41 L-2.94 5.36 L-2.19 3.99Z" fill="#fff" opacity="0.09"/><path d="M-1.85 9.75 L-2.04 10.91 L-2.33 12.46 L-2.59 13.61 L-2.41 12.44 L-2.11 10.9Z" fill="#000" opacity="0.10"/><path d="M6.71 4.38 L7.58 4.9 L8.7 5.62 L9.52 6.21 L8.65 5.7 L7.53 4.97Z" fill="#000" opacity="0.14"/><path d="M-1.86 6.95 L-2.05 7.81 L-2.35 8.95 L-2.63 9.79 L-2.45 8.92 L-2.14 7.79Z" fill="#000" opacity="0.10"/><path d="M-0.19 8.14 L-0.17 8.82 L-0.19 9.73 L-0.24 10.41 L-0.27 9.73 L-0.24 8.82Z" fill="#fff" opacity="0.07"/><path d="M-1.32 1.23 L-1.78 1.73 L-2.43 2.35 L-2.97 2.76 L-2.52 2.25 L-1.85 1.65Z" fill="#fff" opacity="0.15"/><path d="M6.47 12.93 L6.93 13.72 L7.48 14.8 L7.83 15.63 L7.37 14.85 L6.83 13.77Z" fill="#000" opacity="0.07"/><path d="M-13.97 5.23 L-14.56 5.5 L-15.37 5.81 L-15.99 5.99 L-15.4 5.72 L-14.59 5.42Z" fill="#000" opacity="0.16"/><path d="M0.37 5.42 L0.47 6.27 L0.56 7.41 L0.56 8.26 L0.45 7.41 L0.38 6.27Z" fill="#fff" opacity="0.14"/><path d="M-5.9 2.26 L-6.88 2.69 L-8.21 3.2 L-9.23 3.53 L-8.25 3.09 L-6.92 2.59Z" fill="#000" opacity="0.15"/><path d="M-0.72 6.83 L-0.76 7.6 L-0.86 8.61 L-0.98 9.36 L-0.95 8.6 L-0.84 7.59Z" fill="#fff" opacity="0.10"/><path d="M-0.03 0.78 L-0.04 1.62 L-0.07 2.74 L-0.14 3.58 L-0.14 2.74 L-0.08 1.62Z" fill="#000" opacity="0.07"/><path d="M-5.1 5.33 L-5.75 6.09 L-6.66 7.05 L-7.4 7.73 L-6.75 6.97 L-5.83 6.01Z" fill="#000" opacity="0.14"/><path d="M-1.25 8.17 L-1.32 8.99 L-1.48 10.07 L-1.66 10.87 L-1.6 10.05 L-1.43 8.97Z" fill="#000" opacity="0.06"/><path d="M5.1 10.07 L5.65 11.04 L6.33 12.35 L6.77 13.37 L6.22 12.41 L5.56 11.09Z" fill="#fff" opacity="0.10"/><path d="M-2.01 2.72 L-2.63 3.63 L-3.49 4.82 L-4.19 5.66 L-3.58 4.75 L-2.7 3.58Z" fill="#000" opacity="0.09"/><path d="M0.46 0.59 L0.96 1.18 L1.61 1.99 L2.05 2.63 L1.54 2.05 L0.91 1.22Z" fill="#fff" opacity="0.16"/><path d="M-13.87 5.23 L-14.71 5.61 L-15.86 6.05 L-16.75 6.31 L-15.91 5.93 L-14.75 5.5Z" fill="#fff" opacity="0.15"/><path d="M1.18 9.06 L1.33 9.94 L1.48 11.11 L1.56 12 L1.41 11.12 L1.26 9.95Z" fill="#000" opacity="0.08"/><path d="M-10.27 4.75 L-10.59 4.96 L-11.06 5.18 L-11.43 5.29 L-11.1 5.07 L-10.64 4.86Z" fill="#fff" opacity="0.15"/><path d="M-5.05 10.03 L-5.3 10.63 L-5.68 11.4 L-6.02 11.95 L-5.77 11.35 L-5.38 10.59Z" fill="#fff" opacity="0.08"/><path d="M-8.19 12.85 L-8.76 13.81 L-9.56 15.07 L-10.19 15.99 L-9.63 15.02 L-8.82 13.77Z" fill="#000" opacity="0.15"/><path d="M-7.48 6.3 L-7.87 6.68 L-8.42 7.14 L-8.85 7.46 L-8.47 7.08 L-7.91 6.62Z" fill="#fff" opacity="0.08"/><path d="M0.81 3.67 L0.98 4.29 L1.17 5.12 L1.27 5.75 L1.1 5.13 L0.92 4.3Z" fill="#fff" opacity="0.14"/><path d="M-7.46 13.06 L-7.66 13.47 L-7.96 13.99 L-8.2 14.37 L-8 13.97 L-7.7 13.44Z" fill="#fff" opacity="0.11"/><path d="M-2.87 5.84 L-3.27 6.74 L-3.84 7.93 L-4.32 8.79 L-3.94 7.88 L-3.35 6.7Z" fill="#fff" opacity="0.15"/><path d="M-2.98 8.56 L-3.15 9.2 L-3.44 10.04 L-3.71 10.64 L-3.54 10 L-3.25 9.17Z" fill="#000" opacity="0.11"/><path d="M-1.16 1.18 L-1.54 1.62 L-2.07 2.18 L-2.52 2.55 L-2.16 2.09 L-1.6 1.56Z" fill="#000" opacity="0.10"/><path d="M-3 1.77 L-3.98 2.37 L-5.29 3.15 L-6.29 3.7 L-5.32 3.09 L-4 2.33Z" fill="#fff" opacity="0.07"/><path d="M-0.01 5.67 L0.04 6.86 L0.05 8.44 L-0.02 9.62 L-0.08 8.44 L-0.07 6.86Z" fill="#000" opacity="0.14"/><path d="M3.09 6.77 L3.53 7.67 L4.09 8.89 L4.48 9.82 L4.03 8.92 L3.48 7.69Z" fill="#fff" opacity="0.14"/><path d="M0.51 10.74 L0.6 11.6 L0.66 12.76 L0.65 13.63 L0.55 12.76 L0.5 11.61Z" fill="#fff" opacity="0.08"/><path d="M-6.62 11.79 L-6.96 12.5 L-7.47 13.41 L-7.9 14.07 L-7.56 13.36 L-7.05 12.45Z" fill="#000" opacity="0.09"/><path d="M6.77 10.28 L7.24 10.91 L7.82 11.79 L8.22 12.47 L7.74 11.84 L7.17 10.96Z" fill="#fff" opacity="0.11"/><path d="M-5.89 6.94 L-6.57 7.78 L-7.5 8.89 L-8.22 9.68 L-7.55 8.84 L-6.62 7.74Z" fill="#fff" opacity="0.10"/><path d="M-6.85 12.66 L-7.29 13.53 L-7.9 14.67 L-8.39 15.51 L-7.96 14.64 L-7.34 13.5Z" fill="#000" opacity="0.09"/><path d="M-0.68 2.05 L-0.92 2.88 L-1.27 3.98 L-1.58 4.79 L-1.35 3.95 L-0.98 2.86Z" fill="#000" opacity="0.07"/><path d="M0.33 7.15 L0.4 8.04 L0.46 9.23 L0.47 10.13 L0.4 9.24 L0.35 8.04Z" fill="#000" opacity="0.11"/><path d="M-1.7 2.48 L-2.27 3.35 L-3.05 4.5 L-3.67 5.34 L-3.1 4.47 L-2.31 3.32Z" fill="#000" opacity="0.09"/><path d="M-5.58 13.92 L-5.73 14.37 L-5.97 14.96 L-6.17 15.39 L-6.03 14.94 L-5.79 14.35Z" fill="#fff" opacity="0.10"/><path d="M-0.99 0.61 L-1.76 1.14 L-2.8 1.82 L-3.63 2.26 L-2.88 1.7 L-1.8 1.07Z" fill="#fff" opacity="0.12"/><path d="M2.87 1.31 L3.33 1.48 L3.93 1.74 L4.36 1.99 L3.89 1.83 L3.3 1.55Z" fill="#fff" opacity="0.12"/><path d="M10.01 9.36 L10.37 9.63 L10.82 10.05 L11.12 10.39 L10.75 10.11 L10.31 9.7Z" fill="#000" opacity="0.11"/><path d="M-6.66 6.9 L-6.96 7.28 L-7.41 7.75 L-7.79 8.07 L-7.48 7.68 L-7.03 7.21Z" fill="#fff" opacity="0.06"/><path d="M4.26 3.56 L4.82 3.99 L5.55 4.58 L6.06 5.07 L5.49 4.65 L4.77 4.05Z" fill="#fff" opacity="0.06"/><path d="M10.68 10.78 L11.14 11.19 L11.72 11.77 L12.13 12.23 L11.67 11.82 L11.09 11.24Z" fill="#fff" opacity="0.13"/><path d="M0.62 8.86 L0.71 9.73 L0.8 10.89 L0.82 11.77 L0.73 10.9 L0.65 9.74Z" fill="#000" opacity="0.11"/><path d="M3.09 9.61 L3.47 10.73 L3.96 12.24 L4.29 13.37 L3.9 12.25 L3.42 10.75Z" fill="#000" opacity="0.12"/><path d="M-4.44 4.13 L-4.82 4.54 L-5.37 5.06 L-5.82 5.41 L-5.44 4.99 L-4.88 4.48Z" fill="#000" opacity="0.09"/><path d="M-0.29 3.59 L-0.29 4.3 L-0.35 5.23 L-0.47 5.93 L-0.48 5.22 L-0.39 4.29Z" fill="#000" opacity="0.10"/><path d="M-1.19 3 L-1.55 4.04 L-2.08 5.41 L-2.54 6.41 L-2.2 5.36 L-1.64 4.01Z" fill="#fff" opacity="0.10"/><path d="M-0.95 3.97 L-1.12 4.88 L-1.39 6.07 L-1.66 6.95 L-1.51 6.04 L-1.21 4.86Z" fill="#fff" opacity="0.16"/><path d="M1.11 3.98 L1.38 4.87 L1.72 6.07 L1.94 6.98 L1.66 6.09 L1.33 4.89Z" fill="#fff" opacity="0.12"/><path d="M-1.44 1.53 L-1.87 2.06 L-2.47 2.73 L-2.99 3.18 L-2.57 2.64 L-1.94 1.99Z" fill="#fff" opacity="0.11"/><path d="M0.91 3.16 L1.15 3.79 L1.41 4.65 L1.54 5.32 L1.29 4.69 L1.05 3.82Z" fill="#000" opacity="0.12"/><path d="M0.2 0.56 L0.4 1.08 L0.67 1.78 L0.8 2.32 L0.58 1.81 L0.35 1.1Z" fill="#fff" opacity="0.11"/><path d="M2.9 10.07 L3.18 10.89 L3.51 12.01 L3.71 12.86 L3.42 12.03 L3.11 10.92Z" fill="#000" opacity="0.08"/><path d="M-1.89 3.6 L-2.13 4.16 L-2.5 4.89 L-2.83 5.4 L-2.6 4.83 L-2.22 4.12Z" fill="#fff" opacity="0.15"/><path d="M-0.2 6.31 L-0.2 7.18 L-0.23 8.35 L-0.29 9.23 L-0.29 8.35 L-0.25 7.18Z" fill="#fff" opacity="0.10"/><path d="M-0.23 6.6 L-0.22 7.52 L-0.25 8.74 L-0.34 9.66 L-0.36 8.74 L-0.31 7.52Z" fill="#fff" opacity="0.11"/><path d="M-1.2 5.96 L-1.25 6.48 L-1.38 7.15 L-1.54 7.65 L-1.49 7.13 L-1.35 6.46Z" fill="#fff" opacity="0.09"/><path d="M-5.79 12.96 L-6.08 13.67 L-6.49 14.6 L-6.83 15.28 L-6.55 14.57 L-6.13 13.65Z" fill="#fff" opacity="0.09"/><path d="M0.41 0.38 L0.85 0.74 L1.41 1.23 L1.78 1.66 L1.33 1.32 L0.79 0.79Z" fill="#fff" opacity="0.12"/><path d="M5.48 4.98 L6.21 5.58 L7.14 6.42 L7.81 7.09 L7.08 6.49 L6.15 5.64Z" fill="#000" opacity="0.16"/><path d="M2.58 11.06 L2.84 11.98 L3.14 13.21 L3.3 14.15 L3.03 13.24 L2.74 12Z" fill="#fff" opacity="0.12"/><path d="M-2.73 13.08 L-2.91 14.11 L-3.19 15.48 L-3.45 16.5 L-3.27 15.47 L-2.98 14.1Z" fill="#000" opacity="0.16"/><path d="M2.1 3.23 L2.54 3.85 L3.1 4.7 L3.49 5.36 L3.05 4.74 L2.5 3.88Z" fill="#fff" opacity="0.14"/><path d="M-6.85 6.92 L-7.51 7.66 L-8.44 8.61 L-9.19 9.28 L-8.53 8.53 L-7.59 7.59Z" fill="#fff" opacity="0.07"/><path d="M-1.91 10.09 L-2.05 11.08 L-2.29 12.39 L-2.53 13.36 L-2.41 12.37 L-2.15 11.06Z" fill="#fff" opacity="0.10"/><path d="M2.48 3.86 L3.09 4.71 L3.85 5.87 L4.36 6.78 L3.74 5.94 L3 4.77Z" fill="#fff" opacity="0.12"/><path d="M-9.42 4.75 L-10.43 5.32 L-11.81 6.02 L-12.87 6.5 L-11.86 5.92 L-10.48 5.23Z" fill="#fff" opacity="0.15"/><path d="M-8.37 3.16 L-8.74 3.34 L-9.25 3.53 L-9.65 3.64 L-9.28 3.46 L-8.77 3.27Z" fill="#fff" opacity="0.07"/><path d="M10.12 7.64 L10.78 8.11 L11.65 8.76 L12.27 9.27 L11.61 8.81 L10.75 8.16Z" fill="#000" opacity="0.08"/><path d="M1.28 10.51 L1.45 11.65 L1.65 13.18 L1.75 14.33 L1.57 13.19 L1.39 11.66Z" fill="#fff" opacity="0.08"/><path d="M11.11 5.84 L11.7 6.11 L12.48 6.52 L13.04 6.86 L12.44 6.59 L11.67 6.18Z" fill="#000" opacity="0.12"/><path d="M1.42 6.48 L1.63 7.32 L1.88 8.43 L2.04 9.28 L1.83 8.45 L1.59 7.33Z" fill="#fff" opacity="0.14"/><path d="M7.69 4.54 L8.49 4.97 L9.54 5.58 L10.31 6.09 L9.5 5.66 L8.45 5.03Z" fill="#fff" opacity="0.12"/><path d="M9 10.89 L9.4 11.3 L9.89 11.89 L10.22 12.36 L9.82 11.94 L9.33 11.35Z" fill="#fff" opacity="0.13"/><path d="M11.93 9.24 L12.68 9.77 L13.66 10.52 L14.36 11.12 L13.6 10.6 L12.63 9.84Z" fill="#fff" opacity="0.07"/><path d="M-9.01 3.85 L-9.78 4.21 L-10.81 4.65 L-11.6 4.96 L-10.83 4.6 L-9.8 4.16Z" fill="#000" opacity="0.13"/><path d="M1.91 3.77 L2.23 4.3 L2.6 5.03 L2.84 5.6 L2.52 5.07 L2.15 4.34Z" fill="#fff" opacity="0.11"/><path d="M3.54 8.83 L3.82 9.39 L4.14 10.18 L4.32 10.79 L4.03 10.22 L3.72 9.44Z" fill="#fff" opacity="0.12"/><path d="M-0.27 1.01 L-0.41 1.65 L-0.62 2.5 L-0.84 3.12 L-0.73 2.47 L-0.48 1.63Z" fill="#000" opacity="0.10"/><path d="M-7.38 6.76 L-7.64 7.06 L-8.04 7.42 L-8.36 7.66 L-8.1 7.36 L-7.7 7Z" fill="#fff" opacity="0.13"/><path d="M7.25 9.77 L7.68 10.26 L8.2 10.95 L8.54 11.51 L8.11 11.02 L7.6 10.32Z" fill="#000" opacity="0.08"/><path d="M1.85 3.26 L2.46 4.25 L3.24 5.58 L3.76 6.62 L3.13 5.64 L2.38 4.29Z" fill="#fff" opacity="0.13"/><path d="M-0.13 1.27 L-0.16 2.03 L-0.25 3.03 L-0.37 3.78 L-0.35 3.02 L-0.24 2.02Z" fill="#fff" opacity="0.08"/><path d="M2.69 3.48 L3.38 4.32 L4.27 5.46 L4.9 6.34 L4.2 5.51 L3.33 4.36Z" fill="#000" opacity="0.10"/><path d="M-9.75 4.08 L-10.29 4.35 L-11.04 4.66 L-11.61 4.85 L-11.07 4.58 L-10.33 4.27Z" fill="#000" opacity="0.12"/><path d="M-2 2.16 L-2.68 2.96 L-3.63 4.01 L-4.39 4.74 L-3.72 3.92 L-2.75 2.9Z" fill="#fff" opacity="0.12"/><path d="M2.51 1.15 L3.24 1.43 L4.2 1.85 L4.88 2.23 L4.15 1.96 L3.2 1.51Z" fill="#000" opacity="0.12"/><path d="M3.99 4.58 L4.37 4.97 L4.85 5.52 L5.19 5.96 L4.8 5.57 L4.32 5.02Z" fill="#fff" opacity="0.10"/><path d="M-10.47 7.9 L-11.16 8.48 L-12.12 9.21 L-12.87 9.71 L-12.18 9.13 L-11.22 8.41Z" fill="#000" opacity="0.14"/><path d="M-0.55 4.39 L-0.59 4.93 L-0.67 5.65 L-0.77 6.19 L-0.74 5.64 L-0.64 4.92Z" fill="#000" opacity="0.13"/><path d="M3.14 9.06 L3.42 9.73 L3.74 10.64 L3.93 11.34 L3.65 10.67 L3.34 9.76Z" fill="#fff" opacity="0.13"/><path d="M-0.3 1.77 L-0.45 2.91 L-0.69 4.43 L-0.93 5.55 L-0.79 4.41 L-0.52 2.9Z" fill="#fff" opacity="0.08"/><path d="M-3.34 7.21 L-3.46 7.55 L-3.66 7.99 L-3.85 8.3 L-3.73 7.96 L-3.53 7.52Z" fill="#000" opacity="0.13"/><path d="M-4.3 10.49 L-4.46 10.95 L-4.7 11.54 L-4.91 11.98 L-4.75 11.52 L-4.5 10.93Z" fill="#fff" opacity="0.08"/><path d="M3.73 3.66 L4.57 4.41 L5.64 5.45 L6.4 6.28 L5.56 5.53 L4.5 4.48Z" fill="#000" opacity="0.16"/><path d="M3.84 9.9 L4.26 10.86 L4.77 12.15 L5.1 13.14 L4.67 12.19 L4.18 10.89Z" fill="#fff" opacity="0.13"/><path d="M-10.44 6.5 L-10.76 6.76 L-11.23 7.05 L-11.61 7.22 L-11.29 6.95 L-10.82 6.67Z" fill="#000" opacity="0.15"/><path d="M2.21 6.15 L2.51 6.87 L2.87 7.85 L3.1 8.6 L2.79 7.88 L2.44 6.9Z" fill="#fff" opacity="0.14"/><path d="M-2.71 2.65 L-3.14 3.12 L-3.74 3.72 L-4.23 4.13 L-3.81 3.64 L-3.2 3.06Z" fill="#fff" opacity="0.09"/><path d="M1.11 5.08 L1.27 5.57 L1.42 6.23 L1.48 6.75 L1.31 6.26 L1.17 5.59Z" fill="#fff" opacity="0.13"/><path d="M-13.91 6.24 L-14.36 6.48 L-14.98 6.77 L-15.47 6.93 L-15.02 6.68 L-14.4 6.41Z" fill="#fff" opacity="0.09"/><path d="M5.23 6.41 L6 7.31 L7.01 8.53 L7.73 9.47 L6.96 8.57 L5.96 7.34Z" fill="#000" opacity="0.15"/><path d="M-5.91 12.99 L-6.11 13.55 L-6.43 14.26 L-6.72 14.78 L-6.52 14.22 L-6.19 13.51Z" fill="#fff" opacity="0.11"/><path d="M4.14 12.61 L4.36 13.2 L4.63 14 L4.8 14.61 L4.57 14.02 L4.31 13.22Z" fill="#fff" opacity="0.13"/><path d="M-2.77 6.78 L-3.08 7.64 L-3.54 8.76 L-3.92 9.59 L-3.61 8.73 L-3.15 7.61Z" fill="#000" opacity="0.10"/><path d="M-0.51 13.59 L-0.49 13.99 L-0.51 14.54 L-0.56 14.94 L-0.58 14.53 L-0.56 13.99Z" fill="#000" opacity="0.13"/><path d="M-0.98 7 L-1.08 8.12 L-1.28 9.6 L-1.49 10.7 L-1.4 9.58 L-1.18 8.1Z" fill="#fff" opacity="0.10"/><path d="M-1.96 0.79 L-2.55 1.06 L-3.35 1.4 L-3.98 1.6 L-3.39 1.32 L-2.58 1Z" fill="#000" opacity="0.07"/><path d="M-1.51 13.05 L-1.53 13.51 L-1.6 14.12 L-1.68 14.58 L-1.66 14.12 L-1.59 13.5Z" fill="#fff" opacity="0.12"/><path d="M3.18 1.66 L3.85 1.97 L4.74 2.42 L5.37 2.81 L4.69 2.51 L3.82 2.05Z" fill="#000" opacity="0.15"/><path d="M2.49 1.65 L3.03 1.99 L3.75 2.46 L4.27 2.84 L3.72 2.51 L3.01 2.03Z" fill="#fff" opacity="0.10"/><path d="M-1.48 9.58 L-1.63 10.72 L-1.86 12.24 L-2.07 13.38 L-1.92 12.23 L-1.68 10.71Z" fill="#000" opacity="0.13"/><path d="M-8.39 6.79 L-8.74 7.11 L-9.21 7.49 L-9.59 7.76 L-9.25 7.45 L-8.77 7.06Z" fill="#000" opacity="0.07"/><path d="M2.72 6.34 L3.11 7.17 L3.6 8.3 L3.92 9.16 L3.52 8.33 L3.05 7.2Z" fill="#000" opacity="0.07"/><path d="M9.64 7.86 L10.18 8.24 L10.87 8.8 L11.36 9.26 L10.81 8.88 L10.13 8.31Z" fill="#fff" opacity="0.12"/><path d="M-8.87 11.99 L-9.13 12.38 L-9.49 12.87 L-9.79 13.22 L-9.54 12.84 L-9.17 12.35Z" fill="#000" opacity="0.13"/><path d="M0.55 1.73 L0.82 2.41 L1.13 3.34 L1.29 4.05 L1.02 3.37 L0.74 2.44Z" fill="#fff" opacity="0.14"/><path d="M0.55 2.3 L0.77 3.07 L1.03 4.1 L1.17 4.89 L0.94 4.12 L0.7 3.09Z" fill="#000" opacity="0.12"/><path d="M8.72 8.1 L9.31 8.61 L10.07 9.31 L10.62 9.86 L10.03 9.36 L9.27 8.65Z" fill="#000" opacity="0.09"/><path d="M4.09 12.38 L4.28 12.86 L4.49 13.52 L4.63 14.01 L4.44 13.53 L4.23 12.88Z" fill="#000" opacity="0.13"/><path d="M-3.69 3.45 L-4.3 4.08 L-5.16 4.89 L-5.83 5.45 L-5.22 4.81 L-4.36 4.02Z" fill="#000" opacity="0.11"/><path d="M-8.23 8.69 L-8.69 9.23 L-9.34 9.92 L-9.85 10.41 L-9.39 9.87 L-8.74 9.18Z" fill="#fff" opacity="0.09"/><path d="M-2.23 1.73 L-2.84 2.24 L-3.68 2.89 L-4.32 3.36 L-3.72 2.84 L-2.87 2.2Z" fill="#fff" opacity="0.13"/><path d="M-8.31 8.42 L-8.55 8.71 L-8.9 9.07 L-9.19 9.31 L-8.95 9.02 L-8.6 8.66Z" fill="#fff" opacity="0.11"/><path d="M-0.36 11.72 L-0.33 12.45 L-0.35 13.42 L-0.43 14.14 L-0.47 13.41 L-0.43 12.45Z" fill="#fff" opacity="0.12"/><path d="M-4.92 2.68 L-5.9 3.24 L-7.21 3.96 L-8.21 4.46 L-7.24 3.9 L-5.92 3.19Z" fill="#fff" opacity="0.16"/><path d="M-8.84 3.58 L-9.28 3.8 L-9.87 4.05 L-10.34 4.19 L-9.91 3.96 L-9.31 3.72Z" fill="#000" opacity="0.07"/><path d="M9.13 5.51 L9.55 5.72 L10.07 6.04 L10.45 6.3 L10.04 6.09 L9.51 5.77Z" fill="#fff" opacity="0.14"/><path d="M2.57 2.03 L3.45 2.68 L4.6 3.57 L5.42 4.29 L4.53 3.65 L3.4 2.74Z" fill="#fff" opacity="0.11"/><path d="M-4.58 7.8 L-5.07 8.68 L-5.75 9.85 L-6.29 10.7 L-5.8 9.81 L-5.12 8.65Z" fill="#fff" opacity="0.07"/><path d="M1.09 11.49 L1.2 12.07 L1.28 12.85 L1.28 13.44 L1.17 12.86 L1.1 12.08Z" fill="#000" opacity="0.11"/><path d="M-0.57 0.4 L-0.91 0.7 L-1.38 1.06 L-1.79 1.27 L-1.45 0.96 L-0.95 0.63Z" fill="#000" opacity="0.06"/><path d="M4.7 13.43 L4.95 13.99 L5.23 14.76 L5.37 15.35 L5.11 14.8 L4.85 14.03Z" fill="#000" opacity="0.08"/><path d="M-9.06 9.47 L-9.46 9.93 L-10.02 10.51 L-10.46 10.93 L-10.06 10.47 L-9.5 9.89Z" fill="#fff" opacity="0.13"/><path d="M1.35 2.8 L1.87 3.8 L2.53 5.14 L2.98 6.17 L2.45 5.18 L1.81 3.83Z" fill="#fff" opacity="0.08"/><path d="M4.35 11.13 L4.77 12.12 L5.3 13.46 L5.67 14.48 L5.25 13.48 L4.72 12.14Z" fill="#000" opacity="0.09"/><path d="M-8.73 5.49 L-9.14 5.78 L-9.71 6.13 L-10.15 6.38 L-9.74 6.09 L-9.17 5.73Z" fill="#000" opacity="0.07"/><path d="M-0.18 6.37 L-0.14 6.87 L-0.15 7.55 L-0.23 8.06 L-0.28 7.55 L-0.25 6.87Z" fill="#fff" opacity="0.07"/><path d="M-3.9 8.46 L-4.2 9.23 L-4.66 10.24 L-5.06 10.98 L-4.76 10.2 L-4.29 9.2Z" fill="#000" opacity="0.11"/><path d="M1.99 0.8 L2.7 1.05 L3.63 1.42 L4.31 1.74 L3.6 1.5 L2.67 1.11Z" fill="#000" opacity="0.11"/><path d="M0.04 12.31 L0.09 13.5 L0.1 15.08 L0.05 16.27 L-0.01 15.08 L0 13.5Z" fill="#fff" opacity="0.08"/><path d="M-0.98 0.81 L-1.24 1.1 L-1.63 1.44 L-1.98 1.64 L-1.72 1.34 L-1.31 1.02Z" fill="#fff" opacity="0.13"/><path d="M-2 3.06 L-2.63 4.06 L-3.48 5.39 L-4.16 6.37 L-3.54 5.36 L-2.67 4.04Z" fill="#000" opacity="0.07"/><path d="M-0.34 7.13 L-0.34 7.97 L-0.39 9.08 L-0.47 9.91 L-0.48 9.08 L-0.42 7.97Z" fill="#fff" opacity="0.15"/><path d="M-2.84 3.25 L-3.08 3.57 L-3.44 3.98 L-3.73 4.26 L-3.49 3.93 L-3.13 3.53Z" fill="#000" opacity="0.11"/><path d="M11.49 5.68 L12.1 5.94 L12.88 6.33 L13.46 6.66 L12.85 6.4 L12.07 6.01Z" fill="#000" opacity="0.09"/><path d="M-3.43 9.69 L-3.56 10.23 L-3.8 10.92 L-4.04 11.41 L-3.91 10.88 L-3.66 10.19Z" fill="#000" opacity="0.13"/><path d="M7.94 13.25 L8.36 13.88 L8.89 14.75 L9.25 15.43 L8.82 14.8 L8.3 13.92Z" fill="#000" opacity="0.14"/><path d="M-0.52 3.77 L-0.64 4.96 L-0.85 6.55 L-1.07 7.72 L-0.96 6.53 L-0.73 4.95Z" fill="#000" opacity="0.07"/></g>
<path d="M-0.58 0.5 L-1.5 1.5" stroke="rgb(97,97,97)" stroke-width="0.26" stroke-linecap="round" filter="url(#bT)" opacity="0.8"/>
<path d="M-0.62 0.52 L-1.45 1.42" stroke="rgb(153,153,153)" stroke-width="0.1" stroke-linecap="round" filter="url(#bT)"/>
<path d="M4.6 -1 L4.6 1.03 L4 0.87 L3.6 0.77 L3.28 0.69 L2.9 0.6 L2.59 0.54 L2.2 0.49 L1.6 0.44 L1 0.42 L0 0.4 L0 -1 Z" fill="rgb(0,0,0)" filter="url(#bT)"/>
<path d="M-4.6 -1 L-4.6 1.03 L-4 0.87 L-3.6 0.77 L-3.28 0.69 L-2.9 0.6 L-2.59 0.54 L-2.2 0.49 L-1.6 0.44 L-1 0.42 L0 0.4 L0 -1 Z" fill="rgb(0,0,0)" filter="url(#bT)"/></g>
<clipPath id="c0"><rect x="31.8" y="2.3" width="170.6" height="330"/></clipPath>
<clipPath id="c1"><rect x="276" y="0.3" width="171.5" height="331.8"/></clipPath>
<clipPath id="c2"><rect x="512.2" y="1.2" width="169.8" height="331"/></clipPath>
</defs>
<g clip-path="url(#c0)"><g filter="url(#cm)"><g transform="translate(117.1 -8.35) scale(21.3250 21.2903)"><use href="#scene"/>
<ellipse cx="0" cy="14.15" rx="1" ry="1.35" fill="url(#gw)" opacity="0.333"/>
<ellipse cx="0" cy="14.15" rx="0.62" ry="0.95" fill="url(#gw)" opacity="0.600"/>
</g></g></g>
<g clip-path="url(#c1)"><g filter="url(#cm)"><g transform="translate(361.75 -10.4) scale(21.4375 21.4065)"><use href="#scene"/>
<ellipse cx="-0.73" cy="14.65" rx="0.32" ry="0.6" fill="url(#gw)" opacity="0.278"/>
<ellipse cx="-0.13" cy="14.6" rx="0.32" ry="0.6" fill="url(#gw)" opacity="0.250"/>
<ellipse cx="-2" cy="11" rx="0.45" ry="1.3" fill="url(#gw)" opacity="0.173"/>
</g></g></g>
<g clip-path="url(#c2)"><g filter="url(#cm)"><g transform="translate(597.1 -9.48) scale(21.2250 21.3548)"><use href="#scene"/>
<ellipse cx="-0.19" cy="14.95" rx="0.3" ry="0.55" fill="url(#gw)" opacity="0.250"/>
<ellipse cx="1.18" cy="12.6" rx="0.85" ry="1.25" fill="url(#gw)" opacity="0.278"/>
<ellipse cx="1.2" cy="12.55" rx="0.5" ry="0.9" fill="url(#gw)" opacity="0.519"/>
</g></g></g>
<polyline points="120.5,45.3 118.7,54.8 115.7,62.4 116.7,70 114.7,79.8 114.1,87.4 114.5,96.8 112,102.2 111.7,116.6 111.4,123.1 110.7,132.6 108.7,140.6 112.5,148.7 112.5,162.9 110.7,172.4 115.5,185.7 115.2,207.9 112.2,222.4 114,237.6 115.5,244.6 114,261.3 114.5,272.4 119,291" fill="none" stroke="#0000dc" stroke-width="2.2" stroke-linejoin="round"/>
<circle cx="120.5" cy="45.3" r="3.5" fill="#10ee10"/><circle cx="120.5" cy="45.3" r="1.35" fill="#f00"/>
<circle cx="118.7" cy="54.8" r="3.5" fill="#10ee10"/><circle cx="118.7" cy="54.8" r="1.35" fill="#f00"/>
<circle cx="115.7" cy="62.4" r="3.5" fill="#10ee10"/><circle cx="115.7" cy="62.4" r="1.35" fill="#f00"/>
<circle cx="116.7" cy="70" r="3.5" fill="#10ee10"/><circle cx="116.7" cy="70" r="1.35" fill="#f00"/>
<circle cx="114.7" cy="79.8" r="3.5" fill="#10ee10"/><circle cx="114.7" cy="79.8" r="1.35" fill="#f00"/>
<circle cx="114.1" cy="87.4" r="3.5" fill="#10ee10"/><circle cx="114.1" cy="87.4" r="1.35" fill="#f00"/>
<circle cx="114.5" cy="96.8" r="3.5" fill="#10ee10"/><circle cx="114.5" cy="96.8" r="1.35" fill="#f00"/>
<circle cx="112" cy="102.2" r="3.5" fill="#10ee10"/><circle cx="112" cy="102.2" r="1.35" fill="#f00"/>
<circle cx="111.7" cy="116.6" r="3.5" fill="#10ee10"/><circle cx="111.7" cy="116.6" r="1.35" fill="#f00"/>
<circle cx="111.4" cy="123.1" r="3.5" fill="#10ee10"/><circle cx="111.4" cy="123.1" r="1.35" fill="#f00"/>
<circle cx="110.7" cy="132.6" r="3.5" fill="#10ee10"/><circle cx="110.7" cy="132.6" r="1.35" fill="#f00"/>
<circle cx="108.7" cy="140.6" r="3.5" fill="#10ee10"/><circle cx="108.7" cy="140.6" r="1.35" fill="#f00"/>
<circle cx="112.5" cy="148.7" r="3.5" fill="#10ee10"/><circle cx="112.5" cy="148.7" r="1.35" fill="#f00"/>
<circle cx="112.5" cy="162.9" r="3.5" fill="#10ee10"/><circle cx="112.5" cy="162.9" r="1.35" fill="#f00"/>
<circle cx="110.7" cy="172.4" r="3.5" fill="#10ee10"/><circle cx="110.7" cy="172.4" r="1.35" fill="#f00"/>
<circle cx="115.5" cy="185.7" r="3.5" fill="#10ee10"/><circle cx="115.5" cy="185.7" r="1.35" fill="#f00"/>
<circle cx="115.2" cy="207.9" r="3.5" fill="#10ee10"/><circle cx="115.2" cy="207.9" r="1.35" fill="#f00"/>
<circle cx="112.2" cy="222.4" r="3.5" fill="#10ee10"/><circle cx="112.2" cy="222.4" r="1.35" fill="#f00"/>
<circle cx="114" cy="237.6" r="3.5" fill="#10ee10"/><circle cx="114" cy="237.6" r="1.35" fill="#f00"/>
<circle cx="115.5" cy="244.6" r="3.5" fill="#10ee10"/><circle cx="115.5" cy="244.6" r="1.35" fill="#f00"/>
<circle cx="114" cy="261.3" r="3.5" fill="#10ee10"/><circle cx="114" cy="261.3" r="1.35" fill="#f00"/>
<circle cx="114.5" cy="272.4" r="3.5" fill="#10ee10"/><circle cx="114.5" cy="272.4" r="1.35" fill="#f00"/>
<circle cx="119" cy="291" r="3.5" fill="#10ee10"/><circle cx="119" cy="291" r="1.35" fill="#f00"/>
<polyline points="402.7,79.8 396,92 388.1,106.7 384.4,115.5 379.6,125.3 372.6,136.2 369.9,147.2 365.2,159.2 356.9,170.2 349.9,191.4 342.2,198.2 334.1,208.2 326.2,223.6" fill="none" stroke="#0000dc" stroke-width="2.2" stroke-linejoin="round"/>
<circle cx="402.7" cy="79.8" r="3.5" fill="#10ee10"/><circle cx="402.7" cy="79.8" r="1.35" fill="#f00"/>
<circle cx="396" cy="92" r="3.5" fill="#10ee10"/><circle cx="396" cy="92" r="1.35" fill="#f00"/>
<circle cx="388.1" cy="106.7" r="3.5" fill="#10ee10"/><circle cx="388.1" cy="106.7" r="1.35" fill="#f00"/>
<circle cx="384.4" cy="115.5" r="3.5" fill="#10ee10"/><circle cx="384.4" cy="115.5" r="1.35" fill="#f00"/>
<circle cx="379.6" cy="125.3" r="3.5" fill="#10ee10"/><circle cx="379.6" cy="125.3" r="1.35" fill="#f00"/>
<circle cx="372.6" cy="136.2" r="3.5" fill="#10ee10"/><circle cx="372.6" cy="136.2" r="1.35" fill="#f00"/>
<circle cx="369.9" cy="147.2" r="3.5" fill="#10ee10"/><circle cx="369.9" cy="147.2" r="1.35" fill="#f00"/>
<circle cx="365.2" cy="159.2" r="3.5" fill="#10ee10"/><circle cx="365.2" cy="159.2" r="1.35" fill="#f00"/>
<circle cx="356.9" cy="170.2" r="3.5" fill="#10ee10"/><circle cx="356.9" cy="170.2" r="1.35" fill="#f00"/>
<circle cx="349.9" cy="191.4" r="3.5" fill="#10ee10"/><circle cx="349.9" cy="191.4" r="1.35" fill="#f00"/>
<circle cx="342.2" cy="198.2" r="3.5" fill="#10ee10"/><circle cx="342.2" cy="198.2" r="1.35" fill="#f00"/>
<circle cx="334.1" cy="208.2" r="3.5" fill="#10ee10"/><circle cx="334.1" cy="208.2" r="1.35" fill="#f00"/>
<circle cx="326.2" cy="223.6" r="3.5" fill="#10ee10"/><circle cx="326.2" cy="223.6" r="1.35" fill="#f00"/>
<polyline points="590.5,29.3 597.8,33.5 605.1,41.6 608.8,65.4 602.8,78.8 597.3,93.6 594.3,107.2 592,124.3 588.5,136.4 590.1,143.3 595.1,156.1 601.6,166.9 605.3,174.8 609.1,181.2 612.5,189.9 616.6,196.4 621.1,201.6 628.4,219.8 628.1,234.6 628.2,243.4 624.4,255.4" fill="none" stroke="#0000dc" stroke-width="2.2" stroke-linejoin="round"/>
<circle cx="590.5" cy="29.3" r="3.5" fill="#10ee10"/><circle cx="590.5" cy="29.3" r="1.35" fill="#f00"/>
<circle cx="597.8" cy="33.5" r="3.5" fill="#10ee10"/><circle cx="597.8" cy="33.5" r="1.35" fill="#f00"/>
<circle cx="605.1" cy="41.6" r="3.5" fill="#10ee10"/><circle cx="605.1" cy="41.6" r="1.35" fill="#f00"/>
<circle cx="608.8" cy="65.4" r="3.5" fill="#10ee10"/><circle cx="608.8" cy="65.4" r="1.35" fill="#f00"/>
<circle cx="602.8" cy="78.8" r="3.5" fill="#10ee10"/><circle cx="602.8" cy="78.8" r="1.35" fill="#f00"/>
<circle cx="597.3" cy="93.6" r="3.5" fill="#10ee10"/><circle cx="597.3" cy="93.6" r="1.35" fill="#f00"/>
<circle cx="594.3" cy="107.2" r="3.5" fill="#10ee10"/><circle cx="594.3" cy="107.2" r="1.35" fill="#f00"/>
<circle cx="592" cy="124.3" r="3.5" fill="#10ee10"/><circle cx="592" cy="124.3" r="1.35" fill="#f00"/>
<circle cx="588.5" cy="136.4" r="3.5" fill="#10ee10"/><circle cx="588.5" cy="136.4" r="1.35" fill="#f00"/>
<circle cx="590.1" cy="143.3" r="3.5" fill="#10ee10"/><circle cx="590.1" cy="143.3" r="1.35" fill="#f00"/>
<circle cx="595.1" cy="156.1" r="3.5" fill="#10ee10"/><circle cx="595.1" cy="156.1" r="1.35" fill="#f00"/>
<circle cx="601.6" cy="166.9" r="3.5" fill="#10ee10"/><circle cx="601.6" cy="166.9" r="1.35" fill="#f00"/>
<circle cx="605.3" cy="174.8" r="3.5" fill="#10ee10"/><circle cx="605.3" cy="174.8" r="1.35" fill="#f00"/>
<circle cx="609.1" cy="181.2" r="3.5" fill="#10ee10"/><circle cx="609.1" cy="181.2" r="1.35" fill="#f00"/>
<circle cx="612.5" cy="189.9" r="3.5" fill="#10ee10"/><circle cx="612.5" cy="189.9" r="1.35" fill="#f00"/>
<circle cx="616.6" cy="196.4" r="3.5" fill="#10ee10"/><circle cx="616.6" cy="196.4" r="1.35" fill="#f00"/>
<circle cx="621.1" cy="201.6" r="3.5" fill="#10ee10"/><circle cx="621.1" cy="201.6" r="1.35" fill="#f00"/>
<circle cx="628.4" cy="219.8" r="3.5" fill="#10ee10"/><circle cx="628.4" cy="219.8" r="1.35" fill="#f00"/>
<circle cx="628.1" cy="234.6" r="3.5" fill="#10ee10"/><circle cx="628.1" cy="234.6" r="1.35" fill="#f00"/>
<circle cx="628.2" cy="243.4" r="3.5" fill="#10ee10"/><circle cx="628.2" cy="243.4" r="1.35" fill="#f00"/>
<circle cx="624.4" cy="255.4" r="3.5" fill="#10ee10"/><circle cx="624.4" cy="255.4" r="1.35" fill="#f00"/>
<circle cx="74.5" cy="69.5" r="2.9" fill="#f00" stroke="#3c3" stroke-width="1.2"/>
<circle cx="82.8" cy="176.4" r="2.9" fill="#f00" stroke="#3c3" stroke-width="1.2"/>
<circle cx="154.9" cy="154" r="2.9" fill="#f00" stroke="#3c3" stroke-width="1.2"/>
<circle cx="636.5" cy="154.5" r="2.9" fill="#f00" stroke="#3c3" stroke-width="1.2"/>
<line x1="87.5" y1="46.5" x2="81.2" y2="57.89" stroke="#ee0000" stroke-width="1.5"/><path d="M76.6 66.2 L78.42 54.86 L81.2 57.89 L85.24 58.64 Z" fill="#ee0000"/>
<line x1="81.6" y1="197.5" x2="82.06" y2="189.28" stroke="#ee0000" stroke-width="1.5"/><path d="M82.6 179.8 L85.88 190.8 L82.06 189.28 L78.1 190.36 Z" fill="#ee0000"/>
<line x1="155.2" y1="180.8" x2="154.97" y2="167.7" stroke="#ee0000" stroke-width="1.5"/><path d="M154.8 158.2 L158.89 168.93 L154.97 167.7 L151.09 169.07 Z" fill="#ee0000"/>
<line x1="126.8" y1="306.5" x2="124.72" y2="302.16" stroke="#ee0000" stroke-width="1.5"/><path d="M120.6 293.6 L128.79 301.64 L124.72 302.16 L121.76 305.02 Z" fill="#ee0000"/>
<line x1="329.8" y1="250" x2="328.27" y2="236.44" stroke="#ee0000" stroke-width="1.5"/><path d="M327.2 227 L332.29 237.29 L328.27 236.44 L324.54 238.17 Z" fill="#ee0000"/>
<line x1="624.7" y1="130.8" x2="630.55" y2="143.21" stroke="#ee0000" stroke-width="1.5"/><path d="M634.6 151.8 L626.47 143.69 L630.55 143.21 L633.52 140.37 Z" fill="#ee0000"/>
<line x1="617.4" y1="280.5" x2="621.63" y2="267.62" stroke="#ee0000" stroke-width="1.5"/><path d="M624.6 258.6 L624.93 270.08 L621.63 267.62 L617.52 267.64 Z" fill="#ee0000"/>
<text class="rd" x="92" y="23.3" font-size="13.6" text-anchor="middle">False</text>
<text class="rd" x="88.8" y="41.7" font-size="13.6" text-anchor="middle">alarm II</text>
<text class="rd" x="87.6" y="211" font-size="13.6" text-anchor="middle">False</text>
<text class="rd" x="83" y="230.6" font-size="13.6" text-anchor="middle">alarm III</text>
<text class="rd" x="158.7" y="194.2" font-size="13.6" text-anchor="middle">False</text>
<text class="rd" x="157.2" y="213.5" font-size="13.6" text-anchor="middle">alarm I</text>
<text class="rd" x="128.9" y="322.5" font-size="15.5" text-anchor="middle">diver</text>
<text class="rd" x="332" y="265.8" font-size="15.5" text-anchor="middle">diver</text>
<text class="rd" x="625.1" y="108" font-size="13.6" text-anchor="middle">False</text>
<text class="rd" x="624.2" y="126" font-size="13.6" text-anchor="middle">alarm</text>
<text class="rd" x="618.9" y="295.3" font-size="15.5" text-anchor="middle">diver</text>
<rect x="31.8" y="2.3" width="170.6" height="330" fill="none" stroke="#111" stroke-width="1.1"/>
<text class="tk" x="30.8" y="349" text-anchor="middle">-4</text>
<text class="tk" x="73.45" y="349" text-anchor="middle">-2</text>
<text class="tk" x="117.1" y="349" text-anchor="middle">0</text>
<text class="tk" x="159.75" y="349" text-anchor="middle">2</text>
<text class="tk" x="202.4" y="349" text-anchor="middle">4</text>
<text class="tk" x="27.2" y="38.24" text-anchor="end">2</text>
<text class="tk" x="27.2" y="80.82" text-anchor="end">4</text>
<text class="tk" x="27.2" y="123.4" text-anchor="end">6</text>
<text class="tk" x="27.2" y="165.98" text-anchor="end">8</text>
<text class="tk" x="27.2" y="208.56" text-anchor="end">10</text>
<text class="tk" x="27.2" y="251.14" text-anchor="end">12</text>
<text class="tk" x="27.2" y="293.72" text-anchor="end">14</text>
<text class="tk" x="27.2" y="336.3" text-anchor="end">16</text>
<path d="M31.8 332.3v-3.6M31.8 2.3v3.6M74.45 332.3v-3.6M74.45 2.3v3.6M117.1 332.3v-3.6M117.1 2.3v3.6M159.75 332.3v-3.6M159.75 2.3v3.6M202.4 332.3v-3.6M202.4 2.3v3.6M31.8 34.24h3.6M202.4 34.24h-3.6M31.8 76.82h3.6M202.4 76.82h-3.6M31.8 119.4h3.6M202.4 119.4h-3.6M31.8 161.98h3.6M202.4 161.98h-3.6M31.8 204.56h3.6M202.4 204.56h-3.6M31.8 247.14h3.6M202.4 247.14h-3.6M31.8 289.72h3.6M202.4 289.72h-3.6M31.8 332.3h3.6M202.4 332.3h-3.6" stroke="#111" stroke-width="1.1" fill="none"/>
<text class="lb" x="117.1" y="365.6" text-anchor="middle">Horizontal (m)</text>
<text class="lb" transform="translate(9.2 167.4) rotate(-90)" text-anchor="middle">Navigational (m)</text>
<rect x="276" y="0.3" width="171.5" height="331.8" fill="none" stroke="#111" stroke-width="1.1"/>
<text class="tk" x="275" y="349" text-anchor="middle">-4</text>
<text class="tk" x="317.88" y="349" text-anchor="middle">-2</text>
<text class="tk" x="361.75" y="349" text-anchor="middle">0</text>
<text class="tk" x="404.62" y="349" text-anchor="middle">2</text>
<text class="tk" x="447.5" y="349" text-anchor="middle">4</text>
<text class="tk" x="271.4" y="36.41" text-anchor="end">2</text>
<text class="tk" x="271.4" y="79.22" text-anchor="end">4</text>
<text class="tk" x="271.4" y="122.04" text-anchor="end">6</text>
<text class="tk" x="271.4" y="164.85" text-anchor="end">8</text>
<text class="tk" x="271.4" y="207.66" text-anchor="end">10</text>
<text class="tk" x="271.4" y="250.47" text-anchor="end">12</text>
<text class="tk" x="271.4" y="293.29" text-anchor="end">14</text>
<text class="tk" x="271.4" y="336.1" text-anchor="end">16</text>
<path d="M276 332.1v-3.6M276 0.3v3.6M318.88 332.1v-3.6M318.88 0.3v3.6M361.75 332.1v-3.6M361.75 0.3v3.6M404.62 332.1v-3.6M404.62 0.3v3.6M447.5 332.1v-3.6M447.5 0.3v3.6M276 32.41h3.6M447.5 32.41h-3.6M276 75.22h3.6M447.5 75.22h-3.6M276 118.04h3.6M447.5 118.04h-3.6M276 160.85h3.6M447.5 160.85h-3.6M276 203.66h3.6M447.5 203.66h-3.6M276 246.47h3.6M447.5 246.47h-3.6M276 289.29h3.6M447.5 289.29h-3.6M276 332.1h3.6M447.5 332.1h-3.6" stroke="#111" stroke-width="1.1" fill="none"/>
<text class="lb" x="361.75" y="365.6" text-anchor="middle">Horizontal (m)</text>
<text class="lb" transform="translate(253.4 165.4) rotate(-90)" text-anchor="middle">Navigational (m)</text>
<rect x="512.2" y="1.2" width="169.8" height="331" fill="none" stroke="#111" stroke-width="1.1"/>
<text class="tk" x="511.2" y="349" text-anchor="middle">-4</text>
<text class="tk" x="553.65" y="349" text-anchor="middle">-2</text>
<text class="tk" x="597.1" y="349" text-anchor="middle">0</text>
<text class="tk" x="639.55" y="349" text-anchor="middle">2</text>
<text class="tk" x="682" y="349" text-anchor="middle">4</text>
<text class="tk" x="507.6" y="37.23" text-anchor="end">2</text>
<text class="tk" x="507.6" y="79.94" text-anchor="end">4</text>
<text class="tk" x="507.6" y="122.65" text-anchor="end">6</text>
<text class="tk" x="507.6" y="165.36" text-anchor="end">8</text>
<text class="tk" x="507.6" y="208.07" text-anchor="end">10</text>
<text class="tk" x="507.6" y="250.78" text-anchor="end">12</text>
<text class="tk" x="507.6" y="293.49" text-anchor="end">14</text>
<text class="tk" x="507.6" y="336.2" text-anchor="end">16</text>
<path d="M512.2 332.2v-3.6M512.2 1.2v3.6M554.65 332.2v-3.6M554.65 1.2v3.6M597.1 332.2v-3.6M597.1 1.2v3.6M639.55 332.2v-3.6M639.55 1.2v3.6M682 332.2v-3.6M682 1.2v3.6M512.2 33.23h3.6M682 33.23h-3.6M512.2 75.94h3.6M682 75.94h-3.6M512.2 118.65h3.6M682 118.65h-3.6M512.2 161.36h3.6M682 161.36h-3.6M512.2 204.07h3.6M682 204.07h-3.6M512.2 246.78h3.6M682 246.78h-3.6M512.2 289.49h3.6M682 289.49h-3.6M512.2 332.2h3.6M682 332.2h-3.6" stroke="#111" stroke-width="1.1" fill="none"/>
<text class="lb" x="597.1" y="365.6" text-anchor="middle">Horizontal (m)</text>
<text class="lb" transform="translate(489.6 167) rotate(-90)" text-anchor="middle">Navigational (m)</text>
<text class="cp" x="100.2" y="390.6" text-anchor="middle">(a) straight forward</text>
<text class="cp" x="346.5" y="390.6" text-anchor="middle">(b) diagonal forward</text>
<text class="cp" x="582" y="390.6" text-anchor="middle">(c) curve forward</text>
</svg></body></html>
